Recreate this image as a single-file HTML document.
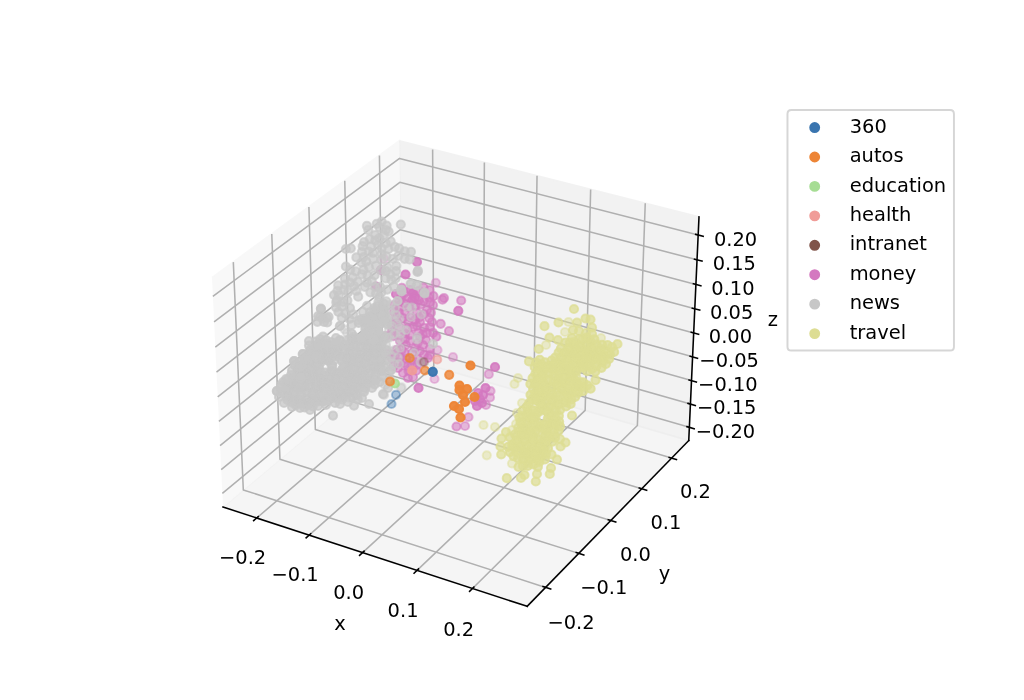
<!DOCTYPE html>
<html><head><meta charset="utf-8"><title>3D scatter</title>
<style>html,body{margin:0;padding:0;background:#fff;overflow:hidden}svg{display:block}</style></head>
<body>
<svg width="1024" height="700" viewBox="0 0 526.628571 360">
 <defs>
  <style type="text/css">*{stroke-linejoin: round; stroke-linecap: butt}</style>
 </defs>
 <g id="figure_1">
  <g id="patch_1">
   <path d="M 0 360 
L 526.628571 360 
L 526.628571 0 
L 0 0 
z
" style="fill: #ffffff"/>
  </g>
  <g id="patch_2">
   <path d="M 93.661714 329.4 
L 372.137143 329.4 
L 372.137143 50.924571 
L 93.661714 50.924571 
z
" style="fill: #ffffff"/>
  </g>
  <g id="pane3d_1">
   <g id="patch_3">
    <path d="M 114.68853 260.736884 
L 206.650211 183.652779 
L 205.371855 72.48372 
L 109.009334 142.8047 
" style="fill: #f2f2f2; opacity: 0.5; stroke: #f2f2f2; stroke-linejoin: miter"/>
   </g>
  </g>
  <g id="pane3d_2">
   <g id="patch_4">
    <path d="M 206.650211 183.652779 
L 354.215897 226.544298 
L 359.481996 111.546149 
L 205.371855 72.48372 
" style="fill: #e6e6e6; opacity: 0.5; stroke: #e6e6e6; stroke-linejoin: miter"/>
   </g>
  </g>
  <g id="pane3d_3">
   <g id="patch_5">
    <path d="M 114.68853 260.736884 
L 271.115364 311.825888 
L 354.215897 226.544298 
L 206.650211 183.652779 
" style="fill: #ececec; opacity: 0.5; stroke: #ececec; stroke-linejoin: miter"/>
   </g>
  </g>
  <g id="grid3d_1">
   <g id="Line3DCollection_1">
    <path d="M 132.033927 266.40189 
L 223.077381 188.427509 
L 222.495403 76.824041 
" style="fill: none; stroke: #b0b0b0; stroke-width: 0.8"/>
    <path d="M 159.004072 275.21034 
L 248.587809 195.842383 
L 249.10321 83.568344 
" style="fill: none; stroke: #b0b0b0; stroke-width: 0.8"/>
    <path d="M 186.479533 284.183825 
L 274.53626 203.384574 
L 276.187805 90.433499 
" style="fill: none; stroke: #b0b0b0; stroke-width: 0.8"/>
    <path d="M 214.474646 293.327029 
L 300.934113 211.057387 
L 303.762119 97.422784 
" style="fill: none; stroke: #b0b0b0; stroke-width: 0.8"/>
    <path d="M 243.004294 302.644812 
L 327.793146 218.864248 
L 331.839556 104.539596 
" style="fill: none; stroke: #b0b0b0; stroke-width: 0.8"/>
   </g>
  </g>
  <g id="grid3d_2">
   <g id="Line3DCollection_2">
    <path d="M 119.989694 134.791733 
L 125.132217 251.982778 
L 280.589727 302.102861 
" style="fill: none; stroke: #b0b0b0; stroke-width: 0.8"/>
    <path d="M 139.770725 120.356437 
L 143.969225 236.193225 
L 297.654348 284.590362 
" style="fill: none; stroke: #b0b0b0; stroke-width: 0.8"/>
    <path d="M 158.865265 106.422112 
L 162.18036 220.92829 
L 314.122643 267.689839 
" style="fill: none; stroke: #b0b0b0; stroke-width: 0.8"/>
    <path d="M 177.308441 92.963122 
L 179.796306 206.162254 
L 330.025335 251.369765 
" style="fill: none; stroke: #b0b0b0; stroke-width: 0.8"/>
    <path d="M 195.133023 79.955553 
L 196.845772 191.871054 
L 345.391069 235.600742 
" style="fill: none; stroke: #b0b0b0; stroke-width: 0.8"/>
   </g>
  </g>
  <g id="grid3d_3">
   <g id="Line3DCollection_3">
    <path d="M 354.526924 219.752268 
L 206.574558 177.073848 
L 114.353636 253.782606 
" style="fill: none; stroke: #b0b0b0; stroke-width: 0.8"/>
    <path d="M 355.074649 207.791345 
L 206.441378 165.49219 
L 113.763719 241.532596 
" style="fill: none; stroke: #b0b0b0; stroke-width: 0.8"/>
    <path d="M 355.627489 195.718737 
L 206.307014 153.807548 
L 113.168084 229.163845 
" style="fill: none; stroke: #b0b0b0; stroke-width: 0.8"/>
    <path d="M 356.185515 183.532871 
L 206.17145 142.018542 
L 112.566647 216.674619 
" style="fill: none; stroke: #b0b0b0; stroke-width: 0.8"/>
    <path d="M 356.748801 171.232147 
L 206.03467 130.123766 
L 111.959323 204.06315 
" style="fill: none; stroke: #b0b0b0; stroke-width: 0.8"/>
    <path d="M 357.317421 158.814932 
L 205.896657 118.121793 
L 111.346026 191.327632 
" style="fill: none; stroke: #b0b0b0; stroke-width: 0.8"/>
    <path d="M 357.891452 146.279564 
L 205.757394 106.011165 
L 110.726666 178.466227 
" style="fill: none; stroke: #b0b0b0; stroke-width: 0.8"/>
    <path d="M 358.470971 133.624348 
L 205.616865 93.7904 
L 110.101154 165.47706 
" style="fill: none; stroke: #b0b0b0; stroke-width: 0.8"/>
    <path d="M 359.056057 120.847558 
L 205.475052 81.45799 
L 109.469397 152.358216 
" style="fill: none; stroke: #b0b0b0; stroke-width: 0.8"/>
   </g>
  </g>
  <g id="axis3d_1">
   <g id="line2d_1">
    <path d="M 114.68853 260.736884 
L 271.115364 311.825888 
" style="fill: none; stroke: #000000; stroke-width: 0.8; stroke-linecap: square"/>
   </g>
   <g id="xtick_1">
    <g id="line2d_2">
     <path d="M 132.826903 265.722744 
L 130.444562 267.763105 
" style="fill: none; stroke: #000000; stroke-width: 0.8; stroke-linecap: square"/>
    </g>
    <g id="text_1">
     <text style="font-size: 10px; font-family: 'DejaVu Sans', 'Liberation Sans', sans-serif; text-anchor: middle" x="124.771" y="290.018">−0.2</text>
    </g>
   </g>
   <g id="xtick_2">
    <g id="line2d_3">
     <path d="M 159.784924 274.518533 
L 157.438977 276.596958 
" style="fill: none; stroke: #000000; stroke-width: 0.8; stroke-linecap: square"/>
    </g>
    <g id="text_2">
     <text style="font-size: 10px; font-family: 'DejaVu Sans', 'Liberation Sans', sans-serif; text-anchor: middle" x="151.768" y="299.004">−0.1</text>
    </g>
   </g>
   <g id="xtick_3">
    <g id="line2d_4">
     <path d="M 187.247666 283.479001 
L 184.939901 285.596564 
" style="fill: none; stroke: #000000; stroke-width: 0.8; stroke-linecap: square"/>
    </g>
    <g id="text_3">
     <text style="font-size: 10px; font-family: 'DejaVu Sans', 'Liberation Sans', sans-serif; text-anchor: middle" x="179.273" y="308.160">0.0</text>
    </g>
   </g>
   <g id="xtick_4">
    <g id="line2d_5">
     <path d="M 215.229436 292.608816 
L 212.961726 294.766633 
" style="fill: none; stroke: #000000; stroke-width: 0.8; stroke-linecap: square"/>
    </g>
    <g id="text_4">
     <text style="font-size: 10px; font-family: 'DejaVu Sans', 'Liberation Sans', sans-serif; text-anchor: middle" x="207.299" y="317.490">0.1</text>
    </g>
   </g>
   <g id="xtick_5">
    <g id="line2d_6">
     <path d="M 243.74509 301.912825 
L 241.519392 304.112056 
" style="fill: none; stroke: #000000; stroke-width: 0.8; stroke-linecap: square"/>
    </g>
    <g id="text_5">
     <text style="font-size: 10px; font-family: 'DejaVu Sans', 'Liberation Sans', sans-serif; text-anchor: middle" x="235.863" y="326.999">0.2</text>
    </g>
   </g>
   <g id="text_6">
    <text style="font-size: 10px; font-family: 'DejaVu Sans', 'Liberation Sans', sans-serif; text-anchor: middle" x="174.812" y="323.884">x</text>
   </g>
  </g>
  <g id="axis3d_2">
   <g id="line2d_7">
    <path d="M 354.215897 226.544298 
L 271.115364 311.825888 
" style="fill: none; stroke: #000000; stroke-width: 0.8; stroke-linecap: square"/>
   </g>
   <g id="xtick_6">
    <g id="line2d_8">
     <path d="M 279.279938 301.68058 
L 283.212678 302.94851 
" style="fill: none; stroke: #000000; stroke-width: 0.8; stroke-linecap: square"/>
    </g>
    <g id="text_7">
     <text style="font-size: 10px; font-family: 'DejaVu Sans', 'Liberation Sans', sans-serif; text-anchor: middle" x="293.679" y="323.327">−0.2</text>
    </g>
   </g>
   <g id="xtick_7">
    <g id="line2d_9">
     <path d="M 296.360654 284.182964 
L 300.245008 285.406189 
" style="fill: none; stroke: #000000; stroke-width: 0.8; stroke-linecap: square"/>
    </g>
    <g id="text_8">
     <text style="font-size: 10px; font-family: 'DejaVu Sans', 'Liberation Sans', sans-serif; text-anchor: middle" x="310.525" y="305.567">−0.1</text>
    </g>
   </g>
   <g id="xtick_8">
    <g id="line2d_10">
     <path d="M 312.84473 267.29655 
L 316.681648 268.477395 
" style="fill: none; stroke: #000000; stroke-width: 0.8; stroke-linecap: square"/>
    </g>
    <g id="text_9">
     <text style="font-size: 10px; font-family: 'DejaVu Sans', 'Liberation Sans', sans-serif; text-anchor: middle" x="326.782" y="288.428">0.0</text>
    </g>
   </g>
   <g id="xtick_9">
    <g id="line2d_11">
     <path d="M 328.762889 250.989865 
L 332.553311 252.130494 
" style="fill: none; stroke: #000000; stroke-width: 0.8; stroke-linecap: square"/>
    </g>
    <g id="text_10">
     <text style="font-size: 10px; font-family: 'DejaVu Sans', 'Liberation Sans', sans-serif; text-anchor: middle" x="342.480" y="271.878">0.1</text>
    </g>
   </g>
   <g id="xtick_10">
    <g id="line2d_12">
     <path d="M 344.143784 235.233559 
L 347.888636 236.335991 
" style="fill: none; stroke: #000000; stroke-width: 0.8; stroke-linecap: square"/>
    </g>
    <g id="text_11">
     <text style="font-size: 10px; font-family: 'DejaVu Sans', 'Liberation Sans', sans-serif; text-anchor: middle" x="357.648" y="255.887">0.2</text>
    </g>
   </g>
   <g id="text_12">
    <text style="font-size: 10px; font-family: 'DejaVu Sans', 'Liberation Sans', sans-serif; text-anchor: middle" x="341.752" y="298.302">y</text>
   </g>
  </g>
  <g id="axis3d_3">
   <g id="line2d_13">
    <path d="M 354.215897 226.544298 
L 359.481996 111.546149 
" style="fill: none; stroke: #000000; stroke-width: 0.8; stroke-linecap: square"/>
   </g>
   <g id="xtick_11">
    <g id="line2d_14">
     <path d="M 353.285042 219.394034 
L 357.013648 220.46959 
" style="fill: none; stroke: #000000; stroke-width: 0.8; stroke-linecap: square"/>
    </g>
    <g id="text_13">
     <text style="font-size: 10px; font-family: 'DejaVu Sans', 'Liberation Sans', sans-serif; text-anchor: middle" x="373.082" y="225.015">−0.20</text>
    </g>
   </g>
   <g id="xtick_12">
    <g id="line2d_15">
     <path d="M 353.82678 207.436218 
L 357.573376 208.502452 
" style="fill: none; stroke: #000000; stroke-width: 0.8; stroke-linecap: square"/>
    </g>
    <g id="text_14">
     <text style="font-size: 10px; font-family: 'DejaVu Sans', 'Liberation Sans', sans-serif; text-anchor: middle" x="373.713" y="213.077">−0.15</text>
    </g>
   </g>
   <g id="xtick_13">
    <g id="line2d_16">
     <path d="M 354.373575 195.366789 
L 358.138335 196.42348 
" style="fill: none; stroke: #000000; stroke-width: 0.8; stroke-linecap: square"/>
    </g>
    <g id="text_15">
     <text style="font-size: 10px; font-family: 'DejaVu Sans', 'Liberation Sans', sans-serif; text-anchor: middle" x="374.350" y="201.027">−0.10</text>
    </g>
   </g>
   <g id="xtick_14">
    <g id="line2d_17">
     <path d="M 354.925497 183.184179 
L 358.708598 184.2311 
" style="fill: none; stroke: #000000; stroke-width: 0.8; stroke-linecap: square"/>
    </g>
    <g id="text_16">
     <text style="font-size: 10px; font-family: 'DejaVu Sans', 'Liberation Sans', sans-serif; text-anchor: middle" x="374.993" y="188.865">−0.05</text>
    </g>
   </g>
   <g id="xtick_15">
    <g id="line2d_18">
     <path d="M 355.482619 170.886786 
L 359.28424 171.923706 
" style="fill: none; stroke: #000000; stroke-width: 0.8; stroke-linecap: square"/>
    </g>
    <g id="text_17">
     <text style="font-size: 10px; font-family: 'DejaVu Sans', 'Liberation Sans', sans-serif; text-anchor: middle" x="375.642" y="176.588">0.00</text>
    </g>
   </g>
   <g id="xtick_16">
    <g id="line2d_19">
     <path d="M 356.045015 158.472983 
L 359.865339 159.499664 
" style="fill: none; stroke: #000000; stroke-width: 0.8; stroke-linecap: square"/>
    </g>
    <g id="text_18">
     <text style="font-size: 10px; font-family: 'DejaVu Sans', 'Liberation Sans', sans-serif; text-anchor: middle" x="376.297" y="164.196">0.05</text>
    </g>
   </g>
   <g id="xtick_17">
    <g id="line2d_20">
     <path d="M 356.612761 145.941107 
L 360.451971 146.957308 
" style="fill: none; stroke: #000000; stroke-width: 0.8; stroke-linecap: square"/>
    </g>
    <g id="text_19">
     <text style="font-size: 10px; font-family: 'DejaVu Sans', 'Liberation Sans', sans-serif; text-anchor: middle" x="376.958" y="151.686">0.10</text>
    </g>
   </g>
   <g id="xtick_18">
    <g id="line2d_21">
     <path d="M 357.185932 133.289466 
L 361.044216 134.294939 
" style="fill: none; stroke: #000000; stroke-width: 0.8; stroke-linecap: square"/>
    </g>
    <g id="text_20">
     <text style="font-size: 10px; font-family: 'DejaVu Sans', 'Liberation Sans', sans-serif; text-anchor: middle" x="377.625" y="139.056">0.15</text>
    </g>
   </g>
   <g id="xtick_19">
    <g id="line2d_22">
     <path d="M 357.764607 120.516335 
L 361.642156 121.510826 
" style="fill: none; stroke: #000000; stroke-width: 0.8; stroke-linecap: square"/>
    </g>
    <g id="text_21">
     <text style="font-size: 10px; font-family: 'DejaVu Sans', 'Liberation Sans', sans-serif; text-anchor: middle" x="378.299" y="126.306">0.20</text>
    </g>
   </g>
   <g id="text_22">
    <text style="font-size: 10px; font-family: 'DejaVu Sans', 'Liberation Sans', sans-serif; text-anchor: middle" x="397.436" y="167.911">z</text>
   </g>
  </g>
  <g id="axes_1">
   <g id="scatter">
<circle cx="303.22" cy="186.79" r="2.11" fill="#dddd94" stroke="#dddd94" stroke-width="1.03" fill-opacity="0.80" stroke-opacity="0.80"/>
<circle cx="290.57" cy="190.59" r="2.11" fill="#dddd94" stroke="#dddd94" stroke-width="1.03" fill-opacity="0.80" stroke-opacity="0.80"/>
<circle cx="272.67" cy="236.11" r="2.11" fill="#dddd94" stroke="#dddd94" stroke-width="1.03" fill-opacity="0.80" stroke-opacity="0.80"/>
<circle cx="305.18" cy="184.78" r="2.11" fill="#dddd94" stroke="#dddd94" stroke-width="1.03" fill-opacity="0.80" stroke-opacity="0.80"/>
<circle cx="309.60" cy="177.33" r="2.11" fill="#dddd94" stroke="#dddd94" stroke-width="1.03" fill-opacity="0.80" stroke-opacity="0.80"/>
<circle cx="288.82" cy="183.70" r="2.11" fill="#dddd94" stroke="#dddd94" stroke-width="1.03" fill-opacity="0.80" stroke-opacity="0.80"/>
<circle cx="288.98" cy="200.21" r="2.11" fill="#dddd94" stroke="#dddd94" stroke-width="1.03" fill-opacity="0.80" stroke-opacity="0.80"/>
<circle cx="294.02" cy="201.39" r="2.11" fill="#dddd94" stroke="#dddd94" stroke-width="1.03" fill-opacity="0.80" stroke-opacity="0.80"/>
<circle cx="286.92" cy="195.22" r="2.11" fill="#dddd94" stroke="#dddd94" stroke-width="1.03" fill-opacity="0.80" stroke-opacity="0.80"/>
<circle cx="283.68" cy="185.45" r="2.11" fill="#dddd94" stroke="#dddd94" stroke-width="1.03" fill-opacity="0.80" stroke-opacity="0.80"/>
<circle cx="295.87" cy="190.59" r="2.11" fill="#dddd94" stroke="#dddd94" stroke-width="1.03" fill-opacity="0.80" stroke-opacity="0.80"/>
<circle cx="280.49" cy="223.51" r="2.11" fill="#dddd94" stroke="#dddd94" stroke-width="1.03" fill-opacity="0.80" stroke-opacity="0.80"/>
<circle cx="278.54" cy="210.34" r="2.11" fill="#dddd94" stroke="#dddd94" stroke-width="1.03" fill-opacity="0.80" stroke-opacity="0.80"/>
<circle cx="273.91" cy="194.40" r="2.11" fill="#dddd94" stroke="#dddd94" stroke-width="1.03" fill-opacity="0.80" stroke-opacity="0.80"/>
<circle cx="298.34" cy="181.75" r="2.11" fill="#dddd94" stroke="#dddd94" stroke-width="1.03" fill-opacity="0.80" stroke-opacity="0.80"/>
<circle cx="303.74" cy="199.90" r="2.11" fill="#dddd94" stroke="#dddd94" stroke-width="1.03" fill-opacity="0.80" stroke-opacity="0.80"/>
<circle cx="274.17" cy="199.95" r="2.11" fill="#dddd94" stroke="#dddd94" stroke-width="1.03" fill-opacity="0.80" stroke-opacity="0.80"/>
<circle cx="274.53" cy="233.43" r="2.11" fill="#dddd94" stroke="#dddd94" stroke-width="1.03" fill-opacity="0.80" stroke-opacity="0.80"/>
<circle cx="272.47" cy="232.35" r="2.11" fill="#dddd94" stroke="#dddd94" stroke-width="1.03" fill-opacity="0.80" stroke-opacity="0.80"/>
<circle cx="275.66" cy="235.80" r="2.11" fill="#dddd94" stroke="#dddd94" stroke-width="1.03" fill-opacity="0.80" stroke-opacity="0.80"/>
<circle cx="297.87" cy="174.39" r="2.11" fill="#dddd94" stroke="#dddd94" stroke-width="1.03" fill-opacity="0.80" stroke-opacity="0.80"/>
<circle cx="310.68" cy="180.21" r="2.11" fill="#dddd94" stroke="#dddd94" stroke-width="1.03" fill-opacity="0.80" stroke-opacity="0.80"/>
<circle cx="309.55" cy="185.35" r="2.11" fill="#dddd94" stroke="#dddd94" stroke-width="1.03" fill-opacity="0.80" stroke-opacity="0.80"/>
<circle cx="286.92" cy="208.08" r="2.11" fill="#dddd94" stroke="#dddd94" stroke-width="1.03" fill-opacity="0.80" stroke-opacity="0.80"/>
<circle cx="293.76" cy="205.46" r="2.11" fill="#dddd94" stroke="#dddd94" stroke-width="1.03" fill-opacity="0.80" stroke-opacity="0.80"/>
<circle cx="261.31" cy="229.83" r="2.11" fill="#dddd94" stroke="#dddd94" stroke-width="1.03" fill-opacity="0.80" stroke-opacity="0.80"/>
<circle cx="306.72" cy="177.22" r="2.11" fill="#dddd94" stroke="#dddd94" stroke-width="1.03" fill-opacity="0.80" stroke-opacity="0.80"/>
<circle cx="290.93" cy="197.90" r="2.11" fill="#dddd94" stroke="#dddd94" stroke-width="1.03" fill-opacity="0.80" stroke-opacity="0.80"/>
<circle cx="273.70" cy="205.30" r="2.11" fill="#dddd94" stroke="#dddd94" stroke-width="1.03" fill-opacity="0.80" stroke-opacity="0.80"/>
<circle cx="267.12" cy="214.71" r="2.11" fill="#dddd94" stroke="#dddd94" stroke-width="1.03" fill-opacity="0.80" stroke-opacity="0.80"/>
<circle cx="303.89" cy="175.94" r="2.11" fill="#dddd94" stroke="#dddd94" stroke-width="1.03" fill-opacity="0.80" stroke-opacity="0.80"/>
<circle cx="277.51" cy="229.78" r="2.11" fill="#dddd94" stroke="#dddd94" stroke-width="1.03" fill-opacity="0.80" stroke-opacity="0.80"/>
<circle cx="284.19" cy="227.11" r="2.11" fill="#dddd94" stroke="#dddd94" stroke-width="1.03" fill-opacity="0.80" stroke-opacity="0.80"/>
<circle cx="270.05" cy="232.41" r="2.11" fill="#dddd94" stroke="#dddd94" stroke-width="1.03" fill-opacity="0.80" stroke-opacity="0.80"/>
<circle cx="274.37" cy="230.55" r="2.11" fill="#dddd94" stroke="#dddd94" stroke-width="1.03" fill-opacity="0.80" stroke-opacity="0.80"/>
<circle cx="278.13" cy="235.08" r="2.11" fill="#dddd94" stroke="#dddd94" stroke-width="1.03" fill-opacity="0.80" stroke-opacity="0.80"/>
<circle cx="292.73" cy="195.79" r="2.11" fill="#dddd94" stroke="#dddd94" stroke-width="1.03" fill-opacity="0.80" stroke-opacity="0.80"/>
<circle cx="295.20" cy="177.79" r="2.11" fill="#dddd94" stroke="#dddd94" stroke-width="1.03" fill-opacity="0.80" stroke-opacity="0.80"/>
<circle cx="270.72" cy="217.03" r="2.11" fill="#dddd94" stroke="#dddd94" stroke-width="1.03" fill-opacity="0.80" stroke-opacity="0.80"/>
<circle cx="278.90" cy="192.29" r="2.11" fill="#dddd94" stroke="#dddd94" stroke-width="1.03" fill-opacity="0.80" stroke-opacity="0.80"/>
<circle cx="313.71" cy="182.37" r="2.11" fill="#dddd94" stroke="#dddd94" stroke-width="1.03" fill-opacity="0.80" stroke-opacity="0.80"/>
<circle cx="283.32" cy="213.17" r="2.11" fill="#dddd94" stroke="#dddd94" stroke-width="1.03" fill-opacity="0.80" stroke-opacity="0.80"/>
<circle cx="277.92" cy="187.35" r="2.11" fill="#dddd94" stroke="#dddd94" stroke-width="1.03" fill-opacity="0.80" stroke-opacity="0.80"/>
<circle cx="282.96" cy="199.29" r="2.11" fill="#dddd94" stroke="#dddd94" stroke-width="1.03" fill-opacity="0.80" stroke-opacity="0.80"/>
<circle cx="306.15" cy="191.11" r="2.11" fill="#dddd94" stroke="#dddd94" stroke-width="1.03" fill-opacity="0.80" stroke-opacity="0.80"/>
<circle cx="270.98" cy="209.06" r="2.11" fill="#dddd94" stroke="#dddd94" stroke-width="1.03" fill-opacity="0.80" stroke-opacity="0.80"/>
<circle cx="295.35" cy="182.16" r="2.11" fill="#dddd94" stroke="#dddd94" stroke-width="1.03" fill-opacity="0.80" stroke-opacity="0.80"/>
<circle cx="294.27" cy="193.11" r="2.11" fill="#dddd94" stroke="#dddd94" stroke-width="1.03" fill-opacity="0.80" stroke-opacity="0.80"/>
<circle cx="277.35" cy="237.55" r="2.11" fill="#dddd94" stroke="#dddd94" stroke-width="1.03" fill-opacity="0.80" stroke-opacity="0.80"/>
<circle cx="269.79" cy="226.54" r="2.11" fill="#dddd94" stroke="#dddd94" stroke-width="1.03" fill-opacity="0.80" stroke-opacity="0.80"/>
<circle cx="309.34" cy="189.15" r="2.11" fill="#dddd94" stroke="#dddd94" stroke-width="1.03" fill-opacity="0.80" stroke-opacity="0.80"/>
<circle cx="282.50" cy="218.98" r="2.11" fill="#dddd94" stroke="#dddd94" stroke-width="1.03" fill-opacity="0.80" stroke-opacity="0.80"/>
<circle cx="262.29" cy="232.56" r="2.11" fill="#dddd94" stroke="#dddd94" stroke-width="1.03" fill-opacity="0.80" stroke-opacity="0.80"/>
<circle cx="287.23" cy="221.50" r="2.11" fill="#dddd94" stroke="#dddd94" stroke-width="1.03" fill-opacity="0.80" stroke-opacity="0.80"/>
<circle cx="271.03" cy="229.01" r="2.11" fill="#dddd94" stroke="#dddd94" stroke-width="1.03" fill-opacity="0.80" stroke-opacity="0.80"/>
<circle cx="281.83" cy="230.55" r="2.11" fill="#dddd94" stroke="#dddd94" stroke-width="1.03" fill-opacity="0.80" stroke-opacity="0.80"/>
<circle cx="294.07" cy="173.88" r="2.11" fill="#dddd94" stroke="#dddd94" stroke-width="1.03" fill-opacity="0.80" stroke-opacity="0.80"/>
<circle cx="293.97" cy="188.74" r="2.11" fill="#dddd94" stroke="#dddd94" stroke-width="1.03" fill-opacity="0.80" stroke-opacity="0.80"/>
<circle cx="299.42" cy="179.43" r="2.11" fill="#dddd94" stroke="#dddd94" stroke-width="1.03" fill-opacity="0.80" stroke-opacity="0.80"/>
<circle cx="301.47" cy="173.67" r="2.11" fill="#dddd94" stroke="#dddd94" stroke-width="1.03" fill-opacity="0.80" stroke-opacity="0.80"/>
<circle cx="287.28" cy="181.39" r="2.11" fill="#dddd94" stroke="#dddd94" stroke-width="1.03" fill-opacity="0.80" stroke-opacity="0.80"/>
<circle cx="280.75" cy="233.54" r="2.11" fill="#dddd94" stroke="#dddd94" stroke-width="1.03" fill-opacity="0.80" stroke-opacity="0.80"/>
<circle cx="277.30" cy="198.41" r="2.11" fill="#dddd94" stroke="#dddd94" stroke-width="1.03" fill-opacity="0.80" stroke-opacity="0.80"/>
<circle cx="277.35" cy="219.55" r="2.11" fill="#dddd94" stroke="#dddd94" stroke-width="1.03" fill-opacity="0.80" stroke-opacity="0.80"/>
<circle cx="268.10" cy="224.28" r="2.11" fill="#dddd94" stroke="#dddd94" stroke-width="1.03" fill-opacity="0.80" stroke-opacity="0.80"/>
<circle cx="288.46" cy="179.23" r="2.11" fill="#dddd94" stroke="#dddd94" stroke-width="1.03" fill-opacity="0.80" stroke-opacity="0.80"/>
<circle cx="279.67" cy="203.14" r="2.11" fill="#dddd94" stroke="#dddd94" stroke-width="1.03" fill-opacity="0.80" stroke-opacity="0.80"/>
<circle cx="264.96" cy="230.50" r="2.11" fill="#dddd94" stroke="#dddd94" stroke-width="1.03" fill-opacity="0.80" stroke-opacity="0.80"/>
<circle cx="270.72" cy="221.50" r="2.11" fill="#dddd94" stroke="#dddd94" stroke-width="1.03" fill-opacity="0.80" stroke-opacity="0.80"/>
<circle cx="262.23" cy="224.90" r="2.11" fill="#dddd94" stroke="#dddd94" stroke-width="1.03" fill-opacity="0.80" stroke-opacity="0.80"/>
<circle cx="291.09" cy="209.06" r="2.11" fill="#dddd94" stroke="#dddd94" stroke-width="1.03" fill-opacity="0.80" stroke-opacity="0.80"/>
<circle cx="292.63" cy="184.89" r="2.11" fill="#dddd94" stroke="#dddd94" stroke-width="1.03" fill-opacity="0.80" stroke-opacity="0.80"/>
<circle cx="295.46" cy="195.33" r="2.11" fill="#dddd94" stroke="#dddd94" stroke-width="1.03" fill-opacity="0.80" stroke-opacity="0.80"/>
<circle cx="280.95" cy="220.78" r="2.11" fill="#dddd94" stroke="#dddd94" stroke-width="1.03" fill-opacity="0.80" stroke-opacity="0.80"/>
<circle cx="313.20" cy="184.58" r="2.11" fill="#dddd94" stroke="#dddd94" stroke-width="1.03" fill-opacity="0.80" stroke-opacity="0.80"/>
<circle cx="270.82" cy="214.25" r="2.11" fill="#dddd94" stroke="#dddd94" stroke-width="1.03" fill-opacity="0.80" stroke-opacity="0.80"/>
<circle cx="284.91" cy="193.27" r="2.11" fill="#dddd94" stroke="#dddd94" stroke-width="1.03" fill-opacity="0.80" stroke-opacity="0.80"/>
<circle cx="279.93" cy="218.52" r="2.11" fill="#dddd94" stroke="#dddd94" stroke-width="1.03" fill-opacity="0.80" stroke-opacity="0.80"/>
<circle cx="263.62" cy="228.60" r="2.11" fill="#dddd94" stroke="#dddd94" stroke-width="1.03" fill-opacity="0.80" stroke-opacity="0.80"/>
<circle cx="278.74" cy="195.02" r="2.11" fill="#dddd94" stroke="#dddd94" stroke-width="1.03" fill-opacity="0.80" stroke-opacity="0.80"/>
<circle cx="276.12" cy="212.35" r="2.11" fill="#dddd94" stroke="#dddd94" stroke-width="1.03" fill-opacity="0.80" stroke-opacity="0.80"/>
<circle cx="287.54" cy="216.82" r="2.11" fill="#dddd94" stroke="#dddd94" stroke-width="1.03" fill-opacity="0.80" stroke-opacity="0.80"/>
<circle cx="274.37" cy="238.89" r="2.11" fill="#dddd94" stroke="#dddd94" stroke-width="1.03" fill-opacity="0.80" stroke-opacity="0.80"/>
<circle cx="282.60" cy="188.18" r="2.11" fill="#dddd94" stroke="#dddd94" stroke-width="1.03" fill-opacity="0.80" stroke-opacity="0.80"/>
<circle cx="284.76" cy="222.38" r="2.11" fill="#dddd94" stroke="#dddd94" stroke-width="1.03" fill-opacity="0.80" stroke-opacity="0.80"/>
<circle cx="266.45" cy="235.65" r="2.11" fill="#dddd94" stroke="#dddd94" stroke-width="1.03" fill-opacity="0.80" stroke-opacity="0.80"/>
<circle cx="280.44" cy="200.78" r="2.11" fill="#dddd94" stroke="#dddd94" stroke-width="1.03" fill-opacity="0.80" stroke-opacity="0.80"/>
<circle cx="267.63" cy="231.79" r="2.11" fill="#dddd94" stroke="#dddd94" stroke-width="1.03" fill-opacity="0.80" stroke-opacity="0.80"/>
<circle cx="301.94" cy="190.85" r="2.11" fill="#dddd94" stroke="#dddd94" stroke-width="1.03" fill-opacity="0.80" stroke-opacity="0.80"/>
<circle cx="275.45" cy="221.40" r="2.11" fill="#dddd94" stroke="#dddd94" stroke-width="1.03" fill-opacity="0.80" stroke-opacity="0.80"/>
<circle cx="280.08" cy="206.79" r="2.11" fill="#dddd94" stroke="#dddd94" stroke-width="1.03" fill-opacity="0.80" stroke-opacity="0.80"/>
<circle cx="297.87" cy="189.05" r="2.11" fill="#dddd94" stroke="#dddd94" stroke-width="1.03" fill-opacity="0.80" stroke-opacity="0.80"/>
<circle cx="303.58" cy="182.11" r="2.11" fill="#dddd94" stroke="#dddd94" stroke-width="1.03" fill-opacity="0.80" stroke-opacity="0.80"/>
<circle cx="296.18" cy="186.99" r="2.11" fill="#dddd94" stroke="#dddd94" stroke-width="1.03" fill-opacity="0.80" stroke-opacity="0.80"/>
<circle cx="299.83" cy="201.19" r="2.11" fill="#dddd94" stroke="#dddd94" stroke-width="1.03" fill-opacity="0.80" stroke-opacity="0.80"/>
<circle cx="282.45" cy="209.31" r="2.11" fill="#dddd94" stroke="#dddd94" stroke-width="1.03" fill-opacity="0.80" stroke-opacity="0.80"/>
<circle cx="290.78" cy="176.25" r="2.11" fill="#dddd94" stroke="#dddd94" stroke-width="1.03" fill-opacity="0.80" stroke-opacity="0.80"/>
<circle cx="300.09" cy="184.58" r="2.11" fill="#dddd94" stroke="#dddd94" stroke-width="1.03" fill-opacity="0.80" stroke-opacity="0.80"/>
<circle cx="295.56" cy="199.13" r="2.11" fill="#dddd94" stroke="#dddd94" stroke-width="1.03" fill-opacity="0.80" stroke-opacity="0.80"/>
<circle cx="275.86" cy="201.75" r="2.11" fill="#dddd94" stroke="#dddd94" stroke-width="1.03" fill-opacity="0.80" stroke-opacity="0.80"/>
<circle cx="288.15" cy="189.21" r="2.11" fill="#dddd94" stroke="#dddd94" stroke-width="1.03" fill-opacity="0.80" stroke-opacity="0.80"/>
<circle cx="281.47" cy="195.63" r="2.11" fill="#dddd94" stroke="#dddd94" stroke-width="1.03" fill-opacity="0.80" stroke-opacity="0.80"/>
<circle cx="281.11" cy="211.58" r="2.11" fill="#dddd94" stroke="#dddd94" stroke-width="1.03" fill-opacity="0.80" stroke-opacity="0.80"/>
<circle cx="280.85" cy="226.70" r="2.11" fill="#dddd94" stroke="#dddd94" stroke-width="1.03" fill-opacity="0.80" stroke-opacity="0.80"/>
<circle cx="284.50" cy="189.82" r="2.11" fill="#dddd94" stroke="#dddd94" stroke-width="1.03" fill-opacity="0.80" stroke-opacity="0.80"/>
<circle cx="284.14" cy="202.63" r="2.11" fill="#dddd94" stroke="#dddd94" stroke-width="1.03" fill-opacity="0.80" stroke-opacity="0.80"/>
<circle cx="286.61" cy="202.06" r="2.11" fill="#dddd94" stroke="#dddd94" stroke-width="1.03" fill-opacity="0.80" stroke-opacity="0.80"/>
<circle cx="267.69" cy="217.13" r="2.11" fill="#dddd94" stroke="#dddd94" stroke-width="1.03" fill-opacity="0.80" stroke-opacity="0.80"/>
<circle cx="285.12" cy="215.54" r="2.11" fill="#dddd94" stroke="#dddd94" stroke-width="1.03" fill-opacity="0.80" stroke-opacity="0.80"/>
<circle cx="274.06" cy="226.85" r="2.11" fill="#dddd94" stroke="#dddd94" stroke-width="1.03" fill-opacity="0.80" stroke-opacity="0.80"/>
<circle cx="283.83" cy="206.64" r="2.11" fill="#dddd94" stroke="#dddd94" stroke-width="1.03" fill-opacity="0.80" stroke-opacity="0.80"/>
<circle cx="288.00" cy="210.86" r="2.11" fill="#dddd94" stroke="#dddd94" stroke-width="1.03" fill-opacity="0.80" stroke-opacity="0.80"/>
<circle cx="285.53" cy="183.86" r="2.11" fill="#dddd94" stroke="#dddd94" stroke-width="1.03" fill-opacity="0.80" stroke-opacity="0.80"/>
<circle cx="267.22" cy="221.71" r="2.11" fill="#dddd94" stroke="#dddd94" stroke-width="1.03" fill-opacity="0.80" stroke-opacity="0.80"/>
<circle cx="268.77" cy="211.11" r="2.11" fill="#dddd94" stroke="#dddd94" stroke-width="1.03" fill-opacity="0.80" stroke-opacity="0.80"/>
<circle cx="275.40" cy="192.14" r="2.11" fill="#dddd94" stroke="#dddd94" stroke-width="1.03" fill-opacity="0.80" stroke-opacity="0.80"/>
<circle cx="276.63" cy="231.94" r="2.11" fill="#dddd94" stroke="#dddd94" stroke-width="1.03" fill-opacity="0.80" stroke-opacity="0.80"/>
<circle cx="306.05" cy="182.26" r="2.11" fill="#dddd94" stroke="#dddd94" stroke-width="1.03" fill-opacity="0.80" stroke-opacity="0.80"/>
<circle cx="306.72" cy="188.33" r="2.11" fill="#dddd94" stroke="#dddd94" stroke-width="1.03" fill-opacity="0.80" stroke-opacity="0.80"/>
<circle cx="265.99" cy="226.29" r="2.11" fill="#dddd94" stroke="#dddd94" stroke-width="1.03" fill-opacity="0.80" stroke-opacity="0.80"/>
<circle cx="295.82" cy="204.07" r="2.11" fill="#dddd94" stroke="#dddd94" stroke-width="1.03" fill-opacity="0.80" stroke-opacity="0.80"/>
<circle cx="299.98" cy="196.61" r="2.11" fill="#dddd94" stroke="#dddd94" stroke-width="1.03" fill-opacity="0.80" stroke-opacity="0.80"/>
<circle cx="268.10" cy="229.11" r="2.11" fill="#dddd94" stroke="#dddd94" stroke-width="1.03" fill-opacity="0.80" stroke-opacity="0.80"/>
<circle cx="287.38" cy="192.14" r="2.11" fill="#dddd94" stroke="#dddd94" stroke-width="1.03" fill-opacity="0.80" stroke-opacity="0.80"/>
<circle cx="290.26" cy="193.53" r="2.11" fill="#dddd94" stroke="#dddd94" stroke-width="1.03" fill-opacity="0.80" stroke-opacity="0.80"/>
<circle cx="271.49" cy="211.63" r="2.11" fill="#dddd94" stroke="#dddd94" stroke-width="1.03" fill-opacity="0.80" stroke-opacity="0.80"/>
<circle cx="276.33" cy="206.07" r="2.11" fill="#dddd94" stroke="#dddd94" stroke-width="1.03" fill-opacity="0.80" stroke-opacity="0.80"/>
<circle cx="274.11" cy="211.22" r="2.11" fill="#dddd94" stroke="#dddd94" stroke-width="1.03" fill-opacity="0.80" stroke-opacity="0.80"/>
<circle cx="286.77" cy="198.05" r="2.11" fill="#dddd94" stroke="#dddd94" stroke-width="1.03" fill-opacity="0.80" stroke-opacity="0.80"/>
<circle cx="281.73" cy="215.28" r="2.11" fill="#dddd94" stroke="#dddd94" stroke-width="1.03" fill-opacity="0.80" stroke-opacity="0.80"/>
<circle cx="308.11" cy="180.93" r="2.11" fill="#dddd94" stroke="#dddd94" stroke-width="1.03" fill-opacity="0.80" stroke-opacity="0.80"/>
<circle cx="285.43" cy="225.05" r="2.11" fill="#dddd94" stroke="#dddd94" stroke-width="1.03" fill-opacity="0.80" stroke-opacity="0.80"/>
<circle cx="268.97" cy="239.61" r="2.11" fill="#dddd94" stroke="#dddd94" stroke-width="1.03" fill-opacity="0.80" stroke-opacity="0.80"/>
<circle cx="292.78" cy="179.23" r="2.11" fill="#dddd94" stroke="#dddd94" stroke-width="1.03" fill-opacity="0.80" stroke-opacity="0.80"/>
<circle cx="300.39" cy="188.33" r="2.11" fill="#dddd94" stroke="#dddd94" stroke-width="1.03" fill-opacity="0.80" stroke-opacity="0.80"/>
<circle cx="273.19" cy="215.38" r="2.11" fill="#dddd94" stroke="#dddd94" stroke-width="1.03" fill-opacity="0.80" stroke-opacity="0.80"/>
<circle cx="304.10" cy="178.97" r="2.11" fill="#dddd94" stroke="#dddd94" stroke-width="1.03" fill-opacity="0.80" stroke-opacity="0.80"/>
<circle cx="272.98" cy="218.83" r="2.11" fill="#dddd94" stroke="#dddd94" stroke-width="1.03" fill-opacity="0.80" stroke-opacity="0.80"/>
<circle cx="301.83" cy="177.63" r="2.11" fill="#dddd94" stroke="#dddd94" stroke-width="1.03" fill-opacity="0.80" stroke-opacity="0.80"/>
<circle cx="301.42" cy="181.13" r="2.11" fill="#dddd94" stroke="#dddd94" stroke-width="1.03" fill-opacity="0.80" stroke-opacity="0.80"/>
<circle cx="264.86" cy="223.35" r="2.11" fill="#dddd94" stroke="#dddd94" stroke-width="1.03" fill-opacity="0.80" stroke-opacity="0.80"/>
<circle cx="288.72" cy="196.82" r="2.11" fill="#dddd94" stroke="#dddd94" stroke-width="1.03" fill-opacity="0.80" stroke-opacity="0.80"/>
<circle cx="287.79" cy="186.74" r="2.11" fill="#dddd94" stroke="#dddd94" stroke-width="1.03" fill-opacity="0.80" stroke-opacity="0.80"/>
<circle cx="278.79" cy="227.78" r="2.11" fill="#dddd94" stroke="#dddd94" stroke-width="1.03" fill-opacity="0.80" stroke-opacity="0.80"/>
<circle cx="282.34" cy="204.07" r="2.11" fill="#dddd94" stroke="#dddd94" stroke-width="1.03" fill-opacity="0.80" stroke-opacity="0.80"/>
<circle cx="269.23" cy="236.06" r="2.11" fill="#dddd94" stroke="#dddd94" stroke-width="1.03" fill-opacity="0.80" stroke-opacity="0.80"/>
<circle cx="271.44" cy="239.55" r="2.11" fill="#dddd94" stroke="#dddd94" stroke-width="1.03" fill-opacity="0.80" stroke-opacity="0.80"/>
<circle cx="285.27" cy="210.70" r="2.11" fill="#dddd94" stroke="#dddd94" stroke-width="1.03" fill-opacity="0.80" stroke-opacity="0.80"/>
<circle cx="272.78" cy="197.43" r="2.11" fill="#dddd94" stroke="#dddd94" stroke-width="1.03" fill-opacity="0.80" stroke-opacity="0.80"/>
<circle cx="280.23" cy="186.33" r="2.11" fill="#dddd94" stroke="#dddd94" stroke-width="1.03" fill-opacity="0.80" stroke-opacity="0.80"/>
<circle cx="274.99" cy="188.74" r="2.11" fill="#dddd94" stroke="#dddd94" stroke-width="1.03" fill-opacity="0.80" stroke-opacity="0.80"/>
<circle cx="298.44" cy="198.87" r="2.11" fill="#dddd94" stroke="#dddd94" stroke-width="1.03" fill-opacity="0.80" stroke-opacity="0.80"/>
<circle cx="272.83" cy="203.04" r="2.11" fill="#dddd94" stroke="#dddd94" stroke-width="1.03" fill-opacity="0.80" stroke-opacity="0.80"/>
<circle cx="290.57" cy="187.82" r="2.11" fill="#dddd94" stroke="#dddd94" stroke-width="1.03" fill-opacity="0.80" stroke-opacity="0.80"/>
<circle cx="290.98" cy="204.22" r="2.11" fill="#dddd94" stroke="#dddd94" stroke-width="1.03" fill-opacity="0.80" stroke-opacity="0.80"/>
<circle cx="276.63" cy="240.07" r="2.11" fill="#dddd94" stroke="#dddd94" stroke-width="1.03" fill-opacity="0.80" stroke-opacity="0.80"/>
<circle cx="282.29" cy="191.57" r="2.11" fill="#dddd94" stroke="#dddd94" stroke-width="1.03" fill-opacity="0.80" stroke-opacity="0.80"/>
<circle cx="311.66" cy="187.10" r="2.11" fill="#dddd94" stroke="#dddd94" stroke-width="1.03" fill-opacity="0.80" stroke-opacity="0.80"/>
<circle cx="279.62" cy="190.08" r="2.11" fill="#dddd94" stroke="#dddd94" stroke-width="1.03" fill-opacity="0.80" stroke-opacity="0.80"/>
<circle cx="286.92" cy="205.66" r="2.11" fill="#dddd94" stroke="#dddd94" stroke-width="1.03" fill-opacity="0.80" stroke-opacity="0.80"/>
<circle cx="290.78" cy="181.03" r="2.11" fill="#dddd94" stroke="#dddd94" stroke-width="1.03" fill-opacity="0.80" stroke-opacity="0.80"/>
<circle cx="276.43" cy="217.39" r="2.11" fill="#dddd94" stroke="#dddd94" stroke-width="1.03" fill-opacity="0.80" stroke-opacity="0.80"/>
<circle cx="270.62" cy="223.92" r="2.11" fill="#dddd94" stroke="#dddd94" stroke-width="1.03" fill-opacity="0.80" stroke-opacity="0.80"/>
<circle cx="268.87" cy="219.65" r="2.11" fill="#dddd94" stroke="#dddd94" stroke-width="1.03" fill-opacity="0.80" stroke-opacity="0.80"/>
<circle cx="302.09" cy="198.15" r="2.11" fill="#dddd94" stroke="#dddd94" stroke-width="1.03" fill-opacity="0.80" stroke-opacity="0.80"/>
<circle cx="310.06" cy="182.83" r="2.11" fill="#dddd94" stroke="#dddd94" stroke-width="1.03" fill-opacity="0.80" stroke-opacity="0.80"/>
<circle cx="284.91" cy="217.85" r="2.11" fill="#dddd94" stroke="#dddd94" stroke-width="1.03" fill-opacity="0.80" stroke-opacity="0.80"/>
<circle cx="290.73" cy="201.86" r="2.11" fill="#dddd94" stroke="#dddd94" stroke-width="1.03" fill-opacity="0.80" stroke-opacity="0.80"/>
<circle cx="290.98" cy="206.79" r="2.11" fill="#dddd94" stroke="#dddd94" stroke-width="1.03" fill-opacity="0.80" stroke-opacity="0.80"/>
<circle cx="297.98" cy="177.48" r="2.11" fill="#dddd94" stroke="#dddd94" stroke-width="1.03" fill-opacity="0.80" stroke-opacity="0.80"/>
<circle cx="264.09" cy="234.57" r="2.11" fill="#dddd94" stroke="#dddd94" stroke-width="1.03" fill-opacity="0.80" stroke-opacity="0.80"/>
<circle cx="273.45" cy="223.35" r="2.11" fill="#dddd94" stroke="#dddd94" stroke-width="1.03" fill-opacity="0.80" stroke-opacity="0.80"/>
<circle cx="292.89" cy="190.90" r="2.11" fill="#dddd94" stroke="#dddd94" stroke-width="1.03" fill-opacity="0.80" stroke-opacity="0.80"/>
<circle cx="284.86" cy="196.35" r="2.11" fill="#dddd94" stroke="#dddd94" stroke-width="1.03" fill-opacity="0.80" stroke-opacity="0.80"/>
<circle cx="278.13" cy="201.45" r="2.11" fill="#dddd94" stroke="#dddd94" stroke-width="1.03" fill-opacity="0.80" stroke-opacity="0.80"/>
<circle cx="272.21" cy="207.15" r="2.11" fill="#dddd94" stroke="#dddd94" stroke-width="1.03" fill-opacity="0.80" stroke-opacity="0.80"/>
<circle cx="296.95" cy="197.13" r="2.11" fill="#dddd94" stroke="#dddd94" stroke-width="1.03" fill-opacity="0.80" stroke-opacity="0.80"/>
<circle cx="279.21" cy="231.43" r="2.11" fill="#dddd94" stroke="#dddd94" stroke-width="1.03" fill-opacity="0.80" stroke-opacity="0.80"/>
<circle cx="297.26" cy="202.06" r="2.11" fill="#dddd94" stroke="#dddd94" stroke-width="1.03" fill-opacity="0.80" stroke-opacity="0.80"/>
<circle cx="276.53" cy="225.82" r="2.11" fill="#dddd94" stroke="#dddd94" stroke-width="1.03" fill-opacity="0.80" stroke-opacity="0.80"/>
<circle cx="287.43" cy="213.84" r="2.11" fill="#dddd94" stroke="#dddd94" stroke-width="1.03" fill-opacity="0.80" stroke-opacity="0.80"/>
<circle cx="277.61" cy="185.04" r="2.11" fill="#dddd94" stroke="#dddd94" stroke-width="1.03" fill-opacity="0.80" stroke-opacity="0.80"/>
<circle cx="302.86" cy="184.32" r="2.11" fill="#dddd94" stroke="#dddd94" stroke-width="1.03" fill-opacity="0.80" stroke-opacity="0.80"/>
<circle cx="312.48" cy="177.48" r="2.11" fill="#dddd94" stroke="#dddd94" stroke-width="1.03" fill-opacity="0.80" stroke-opacity="0.80"/>
<circle cx="276.48" cy="195.12" r="2.11" fill="#dddd94" stroke="#dddd94" stroke-width="1.03" fill-opacity="0.80" stroke-opacity="0.80"/>
<circle cx="280.23" cy="236.26" r="2.11" fill="#dddd94" stroke="#dddd94" stroke-width="1.03" fill-opacity="0.80" stroke-opacity="0.80"/>
<circle cx="275.35" cy="214.56" r="2.11" fill="#dddd94" stroke="#dddd94" stroke-width="1.03" fill-opacity="0.80" stroke-opacity="0.80"/>
<circle cx="279.51" cy="197.64" r="2.11" fill="#dddd94" stroke="#dddd94" stroke-width="1.03" fill-opacity="0.80" stroke-opacity="0.80"/>
<circle cx="305.69" cy="174.55" r="2.11" fill="#dddd94" stroke="#dddd94" stroke-width="1.03" fill-opacity="0.80" stroke-opacity="0.80"/>
<circle cx="298.75" cy="186.58" r="2.11" fill="#dddd94" stroke="#dddd94" stroke-width="1.03" fill-opacity="0.80" stroke-opacity="0.80"/>
<circle cx="277.10" cy="189.72" r="2.11" fill="#dddd94" stroke="#dddd94" stroke-width="1.03" fill-opacity="0.80" stroke-opacity="0.80"/>
<circle cx="307.49" cy="184.17" r="2.11" fill="#dddd94" stroke="#dddd94" stroke-width="1.03" fill-opacity="0.80" stroke-opacity="0.80"/>
<circle cx="288.00" cy="219.29" r="2.11" fill="#dddd94" stroke="#dddd94" stroke-width="1.03" fill-opacity="0.80" stroke-opacity="0.80"/>
<circle cx="284.91" cy="187.51" r="2.11" fill="#dddd94" stroke="#dddd94" stroke-width="1.03" fill-opacity="0.80" stroke-opacity="0.80"/>
<circle cx="296.28" cy="179.95" r="2.11" fill="#dddd94" stroke="#dddd94" stroke-width="1.03" fill-opacity="0.80" stroke-opacity="0.80"/>
<circle cx="282.45" cy="224.74" r="2.11" fill="#dddd94" stroke="#dddd94" stroke-width="1.03" fill-opacity="0.80" stroke-opacity="0.80"/>
<circle cx="297.41" cy="184.47" r="2.11" fill="#dddd94" stroke="#dddd94" stroke-width="1.03" fill-opacity="0.80" stroke-opacity="0.80"/>
<circle cx="293.09" cy="176.14" r="2.11" fill="#dddd94" stroke="#dddd94" stroke-width="1.03" fill-opacity="0.80" stroke-opacity="0.80"/>
<circle cx="292.89" cy="181.90" r="2.11" fill="#dddd94" stroke="#dddd94" stroke-width="1.03" fill-opacity="0.80" stroke-opacity="0.80"/>
<circle cx="277.20" cy="203.86" r="2.11" fill="#dddd94" stroke="#dddd94" stroke-width="1.03" fill-opacity="0.80" stroke-opacity="0.80"/>
<circle cx="315.82" cy="180.98" r="2.11" fill="#dddd94" stroke="#dddd94" stroke-width="1.03" fill-opacity="0.80" stroke-opacity="0.80"/>
<circle cx="294.99" cy="184.94" r="2.11" fill="#dddd94" stroke="#dddd94" stroke-width="1.03" fill-opacity="0.80" stroke-opacity="0.80"/>
<circle cx="304.41" cy="189.67" r="2.11" fill="#dddd94" stroke="#dddd94" stroke-width="1.03" fill-opacity="0.80" stroke-opacity="0.80"/>
<circle cx="270.98" cy="234.46" r="2.11" fill="#dddd94" stroke="#dddd94" stroke-width="1.03" fill-opacity="0.80" stroke-opacity="0.80"/>
<circle cx="275.71" cy="186.48" r="2.11" fill="#dddd94" stroke="#dddd94" stroke-width="1.03" fill-opacity="0.80" stroke-opacity="0.80"/>
<circle cx="293.45" cy="207.72" r="2.11" fill="#dddd94" stroke="#dddd94" stroke-width="1.03" fill-opacity="0.80" stroke-opacity="0.80"/>
<circle cx="275.09" cy="196.92" r="2.11" fill="#dddd94" stroke="#dddd94" stroke-width="1.03" fill-opacity="0.80" stroke-opacity="0.80"/>
<circle cx="277.97" cy="207.87" r="2.11" fill="#dddd94" stroke="#dddd94" stroke-width="1.03" fill-opacity="0.80" stroke-opacity="0.80"/>
<circle cx="271.54" cy="218.16" r="2.11" fill="#dddd94" stroke="#dddd94" stroke-width="1.03" fill-opacity="0.65" stroke-opacity="0.65"/>
<circle cx="265.83" cy="224.28" r="2.11" fill="#dddd94" stroke="#dddd94" stroke-width="1.03" fill-opacity="0.65" stroke-opacity="0.65"/>
<circle cx="269.13" cy="220.68" r="2.11" fill="#dddd94" stroke="#dddd94" stroke-width="1.03" fill-opacity="0.65" stroke-opacity="0.65"/>
<circle cx="307.59" cy="182.26" r="2.11" fill="#dddd94" stroke="#dddd94" stroke-width="1.03" fill-opacity="0.65" stroke-opacity="0.65"/>
<circle cx="278.90" cy="192.60" r="2.11" fill="#dddd94" stroke="#dddd94" stroke-width="1.03" fill-opacity="0.65" stroke-opacity="0.65"/>
<circle cx="290.83" cy="196.92" r="2.11" fill="#dddd94" stroke="#dddd94" stroke-width="1.03" fill-opacity="0.65" stroke-opacity="0.65"/>
<circle cx="278.28" cy="233.85" r="2.11" fill="#dddd94" stroke="#dddd94" stroke-width="1.03" fill-opacity="0.65" stroke-opacity="0.65"/>
<circle cx="274.22" cy="215.38" r="2.11" fill="#dddd94" stroke="#dddd94" stroke-width="1.03" fill-opacity="0.65" stroke-opacity="0.65"/>
<circle cx="296.79" cy="198.62" r="2.11" fill="#dddd94" stroke="#dddd94" stroke-width="1.03" fill-opacity="0.65" stroke-opacity="0.65"/>
<circle cx="292.63" cy="201.65" r="2.11" fill="#dddd94" stroke="#dddd94" stroke-width="1.03" fill-opacity="0.65" stroke-opacity="0.65"/>
<circle cx="285.79" cy="193.11" r="2.11" fill="#dddd94" stroke="#dddd94" stroke-width="1.03" fill-opacity="0.65" stroke-opacity="0.65"/>
<circle cx="283.47" cy="198.98" r="2.11" fill="#dddd94" stroke="#dddd94" stroke-width="1.03" fill-opacity="0.65" stroke-opacity="0.65"/>
<circle cx="277.05" cy="194.76" r="2.11" fill="#dddd94" stroke="#dddd94" stroke-width="1.03" fill-opacity="0.65" stroke-opacity="0.65"/>
<circle cx="275.61" cy="198.00" r="2.11" fill="#dddd94" stroke="#dddd94" stroke-width="1.03" fill-opacity="0.65" stroke-opacity="0.65"/>
<circle cx="263.47" cy="228.91" r="2.11" fill="#dddd94" stroke="#dddd94" stroke-width="1.03" fill-opacity="0.65" stroke-opacity="0.65"/>
<circle cx="304.82" cy="178.51" r="2.11" fill="#dddd94" stroke="#dddd94" stroke-width="1.03" fill-opacity="0.65" stroke-opacity="0.65"/>
<circle cx="299.83" cy="189.05" r="2.11" fill="#dddd94" stroke="#dddd94" stroke-width="1.03" fill-opacity="0.65" stroke-opacity="0.65"/>
<circle cx="292.06" cy="204.53" r="2.11" fill="#dddd94" stroke="#dddd94" stroke-width="1.03" fill-opacity="0.65" stroke-opacity="0.65"/>
<circle cx="299.01" cy="182.16" r="2.11" fill="#dddd94" stroke="#dddd94" stroke-width="1.03" fill-opacity="0.65" stroke-opacity="0.65"/>
<circle cx="277.82" cy="218.78" r="2.11" fill="#dddd94" stroke="#dddd94" stroke-width="1.03" fill-opacity="0.65" stroke-opacity="0.65"/>
<circle cx="302.30" cy="187.92" r="2.11" fill="#dddd94" stroke="#dddd94" stroke-width="1.03" fill-opacity="0.65" stroke-opacity="0.65"/>
<circle cx="279.00" cy="187.87" r="2.11" fill="#dddd94" stroke="#dddd94" stroke-width="1.03" fill-opacity="0.65" stroke-opacity="0.65"/>
<circle cx="273.45" cy="228.45" r="2.11" fill="#dddd94" stroke="#dddd94" stroke-width="1.03" fill-opacity="0.65" stroke-opacity="0.65"/>
<circle cx="280.59" cy="202.63" r="2.11" fill="#dddd94" stroke="#dddd94" stroke-width="1.03" fill-opacity="0.65" stroke-opacity="0.65"/>
<circle cx="292.11" cy="187.87" r="2.11" fill="#dddd94" stroke="#dddd94" stroke-width="1.03" fill-opacity="0.65" stroke-opacity="0.65"/>
<circle cx="277.51" cy="226.13" r="2.11" fill="#dddd94" stroke="#dddd94" stroke-width="1.03" fill-opacity="0.65" stroke-opacity="0.65"/>
<circle cx="267.07" cy="229.17" r="2.11" fill="#dddd94" stroke="#dddd94" stroke-width="1.03" fill-opacity="0.65" stroke-opacity="0.65"/>
<circle cx="269.85" cy="230.50" r="2.11" fill="#dddd94" stroke="#dddd94" stroke-width="1.03" fill-opacity="0.65" stroke-opacity="0.65"/>
<circle cx="268.66" cy="213.94" r="2.11" fill="#dddd94" stroke="#dddd94" stroke-width="1.03" fill-opacity="0.65" stroke-opacity="0.65"/>
<circle cx="290.73" cy="192.70" r="2.11" fill="#dddd94" stroke="#dddd94" stroke-width="1.03" fill-opacity="0.65" stroke-opacity="0.65"/>
<circle cx="292.73" cy="183.24" r="2.11" fill="#dddd94" stroke="#dddd94" stroke-width="1.03" fill-opacity="0.65" stroke-opacity="0.65"/>
<circle cx="273.60" cy="236.06" r="2.11" fill="#dddd94" stroke="#dddd94" stroke-width="1.03" fill-opacity="0.65" stroke-opacity="0.65"/>
<circle cx="303.79" cy="185.30" r="2.11" fill="#dddd94" stroke="#dddd94" stroke-width="1.03" fill-opacity="0.65" stroke-opacity="0.65"/>
<circle cx="273.39" cy="231.58" r="2.11" fill="#dddd94" stroke="#dddd94" stroke-width="1.03" fill-opacity="0.65" stroke-opacity="0.65"/>
<circle cx="284.86" cy="206.49" r="2.11" fill="#dddd94" stroke="#dddd94" stroke-width="1.03" fill-opacity="0.65" stroke-opacity="0.65"/>
<circle cx="276.07" cy="221.71" r="2.11" fill="#dddd94" stroke="#dddd94" stroke-width="1.03" fill-opacity="0.65" stroke-opacity="0.65"/>
<circle cx="304.97" cy="181.18" r="2.11" fill="#dddd94" stroke="#dddd94" stroke-width="1.03" fill-opacity="0.65" stroke-opacity="0.65"/>
<circle cx="274.83" cy="218.06" r="2.11" fill="#dddd94" stroke="#dddd94" stroke-width="1.03" fill-opacity="0.65" stroke-opacity="0.65"/>
<circle cx="270.21" cy="233.28" r="2.11" fill="#dddd94" stroke="#dddd94" stroke-width="1.03" fill-opacity="0.65" stroke-opacity="0.65"/>
<circle cx="298.23" cy="178.05" r="2.11" fill="#dddd94" stroke="#dddd94" stroke-width="1.03" fill-opacity="0.65" stroke-opacity="0.65"/>
<circle cx="273.39" cy="221.81" r="2.11" fill="#dddd94" stroke="#dddd94" stroke-width="1.03" fill-opacity="0.65" stroke-opacity="0.65"/>
<circle cx="286.97" cy="188.85" r="2.11" fill="#dddd94" stroke="#dddd94" stroke-width="1.03" fill-opacity="0.65" stroke-opacity="0.65"/>
<circle cx="284.71" cy="220.47" r="2.11" fill="#dddd94" stroke="#dddd94" stroke-width="1.03" fill-opacity="0.65" stroke-opacity="0.65"/>
<circle cx="296.54" cy="191.06" r="2.11" fill="#dddd94" stroke="#dddd94" stroke-width="1.03" fill-opacity="0.65" stroke-opacity="0.65"/>
<circle cx="295.56" cy="175.78" r="2.11" fill="#dddd94" stroke="#dddd94" stroke-width="1.03" fill-opacity="0.65" stroke-opacity="0.65"/>
<circle cx="268.87" cy="236.11" r="2.11" fill="#dddd94" stroke="#dddd94" stroke-width="1.03" fill-opacity="0.65" stroke-opacity="0.65"/>
<circle cx="282.19" cy="191.73" r="2.11" fill="#dddd94" stroke="#dddd94" stroke-width="1.03" fill-opacity="0.65" stroke-opacity="0.65"/>
<circle cx="282.91" cy="195.74" r="2.11" fill="#dddd94" stroke="#dddd94" stroke-width="1.03" fill-opacity="0.65" stroke-opacity="0.65"/>
<circle cx="277.35" cy="211.68" r="2.11" fill="#dddd94" stroke="#dddd94" stroke-width="1.03" fill-opacity="0.65" stroke-opacity="0.65"/>
<circle cx="280.13" cy="224.69" r="2.11" fill="#dddd94" stroke="#dddd94" stroke-width="1.03" fill-opacity="0.65" stroke-opacity="0.65"/>
<circle cx="290.57" cy="181.59" r="2.11" fill="#dddd94" stroke="#dddd94" stroke-width="1.03" fill-opacity="0.65" stroke-opacity="0.65"/>
<circle cx="288.00" cy="184.78" r="2.11" fill="#dddd94" stroke="#dddd94" stroke-width="1.03" fill-opacity="0.65" stroke-opacity="0.65"/>
<circle cx="269.23" cy="226.39" r="2.11" fill="#dddd94" stroke="#dddd94" stroke-width="1.03" fill-opacity="0.65" stroke-opacity="0.65"/>
<circle cx="281.73" cy="205.92" r="2.11" fill="#dddd94" stroke="#dddd94" stroke-width="1.03" fill-opacity="0.65" stroke-opacity="0.65"/>
<circle cx="280.59" cy="229.11" r="2.11" fill="#dddd94" stroke="#dddd94" stroke-width="1.03" fill-opacity="0.65" stroke-opacity="0.65"/>
<circle cx="281.37" cy="189.26" r="2.11" fill="#dddd94" stroke="#dddd94" stroke-width="1.03" fill-opacity="0.65" stroke-opacity="0.65"/>
<circle cx="283.78" cy="202.53" r="2.11" fill="#dddd94" stroke="#dddd94" stroke-width="1.03" fill-opacity="0.65" stroke-opacity="0.65"/>
<circle cx="271.90" cy="213.48" r="2.11" fill="#dddd94" stroke="#dddd94" stroke-width="1.03" fill-opacity="0.65" stroke-opacity="0.65"/>
<circle cx="282.55" cy="213.43" r="2.11" fill="#dddd94" stroke="#dddd94" stroke-width="1.03" fill-opacity="0.65" stroke-opacity="0.65"/>
<circle cx="289.39" cy="187.97" r="2.11" fill="#dddd94" stroke="#dddd94" stroke-width="1.03" fill-opacity="0.65" stroke-opacity="0.65"/>
<circle cx="295.77" cy="201.34" r="2.11" fill="#dddd94" stroke="#dddd94" stroke-width="1.03" fill-opacity="0.65" stroke-opacity="0.65"/>
<circle cx="312.33" cy="181.44" r="2.11" fill="#dddd94" stroke="#dddd94" stroke-width="1.03" fill-opacity="0.65" stroke-opacity="0.65"/>
<circle cx="293.40" cy="193.06" r="2.11" fill="#dddd94" stroke="#dddd94" stroke-width="1.03" fill-opacity="0.65" stroke-opacity="0.65"/>
<circle cx="292.53" cy="179.23" r="2.11" fill="#dddd94" stroke="#dddd94" stroke-width="1.03" fill-opacity="0.65" stroke-opacity="0.65"/>
<circle cx="278.23" cy="205.41" r="2.11" fill="#dddd94" stroke="#dddd94" stroke-width="1.03" fill-opacity="0.65" stroke-opacity="0.65"/>
<circle cx="310.63" cy="183.50" r="2.11" fill="#dddd94" stroke="#dddd94" stroke-width="1.03" fill-opacity="0.65" stroke-opacity="0.65"/>
<circle cx="295.61" cy="181.65" r="2.11" fill="#dddd94" stroke="#dddd94" stroke-width="1.03" fill-opacity="0.65" stroke-opacity="0.65"/>
<circle cx="287.28" cy="207.46" r="2.11" fill="#dddd94" stroke="#dddd94" stroke-width="1.03" fill-opacity="0.65" stroke-opacity="0.65"/>
<circle cx="275.19" cy="233.64" r="2.11" fill="#dddd94" stroke="#dddd94" stroke-width="1.03" fill-opacity="0.65" stroke-opacity="0.65"/>
<circle cx="275.14" cy="202.99" r="2.11" fill="#dddd94" stroke="#dddd94" stroke-width="1.03" fill-opacity="0.65" stroke-opacity="0.65"/>
<circle cx="283.63" cy="217.65" r="2.11" fill="#dddd94" stroke="#dddd94" stroke-width="1.03" fill-opacity="0.65" stroke-opacity="0.65"/>
<circle cx="299.67" cy="199.18" r="2.11" fill="#dddd94" stroke="#dddd94" stroke-width="1.03" fill-opacity="0.65" stroke-opacity="0.65"/>
<circle cx="279.46" cy="197.38" r="2.11" fill="#dddd94" stroke="#dddd94" stroke-width="1.03" fill-opacity="0.65" stroke-opacity="0.65"/>
<circle cx="294.89" cy="187.46" r="2.11" fill="#dddd94" stroke="#dddd94" stroke-width="1.03" fill-opacity="0.65" stroke-opacity="0.65"/>
<circle cx="266.50" cy="220.06" r="2.11" fill="#dddd94" stroke="#dddd94" stroke-width="1.03" fill-opacity="0.65" stroke-opacity="0.65"/>
<circle cx="279.72" cy="220.58" r="2.11" fill="#dddd94" stroke="#dddd94" stroke-width="1.03" fill-opacity="0.65" stroke-opacity="0.65"/>
<circle cx="296.38" cy="194.25" r="2.11" fill="#dddd94" stroke="#dddd94" stroke-width="1.03" fill-opacity="0.65" stroke-opacity="0.65"/>
<circle cx="265.83" cy="232.46" r="2.11" fill="#dddd94" stroke="#dddd94" stroke-width="1.03" fill-opacity="0.65" stroke-opacity="0.65"/>
<circle cx="283.01" cy="208.80" r="2.11" fill="#dddd94" stroke="#dddd94" stroke-width="1.03" fill-opacity="0.65" stroke-opacity="0.65"/>
<circle cx="274.83" cy="211.01" r="2.11" fill="#dddd94" stroke="#dddd94" stroke-width="1.03" fill-opacity="0.65" stroke-opacity="0.65"/>
<circle cx="288.51" cy="199.75" r="2.11" fill="#dddd94" stroke="#dddd94" stroke-width="1.03" fill-opacity="0.65" stroke-opacity="0.65"/>
<circle cx="277.41" cy="230.09" r="2.11" fill="#dddd94" stroke="#dddd94" stroke-width="1.03" fill-opacity="0.65" stroke-opacity="0.65"/>
<circle cx="302.25" cy="177.22" r="2.11" fill="#dddd94" stroke="#dddd94" stroke-width="1.03" fill-opacity="0.65" stroke-opacity="0.65"/>
<circle cx="281.78" cy="222.69" r="2.11" fill="#dddd94" stroke="#dddd94" stroke-width="1.03" fill-opacity="0.65" stroke-opacity="0.65"/>
<circle cx="308.78" cy="179.43" r="2.11" fill="#dddd94" stroke="#dddd94" stroke-width="1.03" fill-opacity="0.65" stroke-opacity="0.65"/>
<circle cx="274.37" cy="225.67" r="2.11" fill="#dddd94" stroke="#dddd94" stroke-width="1.03" fill-opacity="0.65" stroke-opacity="0.65"/>
<circle cx="287.69" cy="191.37" r="2.11" fill="#dddd94" stroke="#dddd94" stroke-width="1.03" fill-opacity="0.65" stroke-opacity="0.65"/>
<circle cx="285.84" cy="211.37" r="2.11" fill="#dddd94" stroke="#dddd94" stroke-width="1.03" fill-opacity="0.65" stroke-opacity="0.65"/>
<circle cx="271.85" cy="238.01" r="2.11" fill="#dddd94" stroke="#dddd94" stroke-width="1.03" fill-opacity="0.65" stroke-opacity="0.65"/>
<circle cx="285.48" cy="214.20" r="2.11" fill="#dddd94" stroke="#dddd94" stroke-width="1.03" fill-opacity="0.65" stroke-opacity="0.65"/>
<circle cx="280.70" cy="211.01" r="2.11" fill="#dddd94" stroke="#dddd94" stroke-width="1.03" fill-opacity="0.65" stroke-opacity="0.65"/>
<circle cx="293.09" cy="190.39" r="2.11" fill="#dddd94" stroke="#dddd94" stroke-width="1.03" fill-opacity="0.65" stroke-opacity="0.65"/>
<circle cx="297.31" cy="184.32" r="2.11" fill="#dddd94" stroke="#dddd94" stroke-width="1.03" fill-opacity="0.65" stroke-opacity="0.65"/>
<circle cx="301.94" cy="180.77" r="2.11" fill="#dddd94" stroke="#dddd94" stroke-width="1.03" fill-opacity="0.65" stroke-opacity="0.65"/>
<circle cx="290.47" cy="206.74" r="2.11" fill="#dddd94" stroke="#dddd94" stroke-width="1.03" fill-opacity="0.65" stroke-opacity="0.65"/>
<circle cx="299.52" cy="185.97" r="2.11" fill="#dddd94" stroke="#dddd94" stroke-width="1.03" fill-opacity="0.65" stroke-opacity="0.65"/>
<circle cx="310.01" cy="186.17" r="2.11" fill="#dddd94" stroke="#dddd94" stroke-width="1.03" fill-opacity="0.65" stroke-opacity="0.65"/>
<circle cx="286.10" cy="203.71" r="2.11" fill="#dddd94" stroke="#dddd94" stroke-width="1.03" fill-opacity="0.65" stroke-opacity="0.65"/>
<circle cx="271.13" cy="223.77" r="2.11" fill="#dddd94" stroke="#dddd94" stroke-width="1.03" fill-opacity="0.65" stroke-opacity="0.65"/>
<circle cx="277.46" cy="201.29" r="2.11" fill="#dddd94" stroke="#dddd94" stroke-width="1.03" fill-opacity="0.65" stroke-opacity="0.65"/>
<circle cx="267.99" cy="217.65" r="2.11" fill="#dddd94" stroke="#dddd94" stroke-width="1.03" fill-opacity="0.65" stroke-opacity="0.65"/>
<circle cx="289.03" cy="194.71" r="2.11" fill="#dddd94" stroke="#dddd94" stroke-width="1.03" fill-opacity="0.65" stroke-opacity="0.65"/>
<circle cx="306.26" cy="187.30" r="2.11" fill="#dddd94" stroke="#dddd94" stroke-width="1.03" fill-opacity="0.65" stroke-opacity="0.65"/>
<circle cx="301.53" cy="183.86" r="2.11" fill="#dddd94" stroke="#dddd94" stroke-width="1.03" fill-opacity="0.65" stroke-opacity="0.65"/>
<circle cx="294.43" cy="196.66" r="2.11" fill="#dddd94" stroke="#dddd94" stroke-width="1.03" fill-opacity="0.65" stroke-opacity="0.65"/>
<circle cx="280.80" cy="199.90" r="2.11" fill="#dddd94" stroke="#dddd94" stroke-width="1.03" fill-opacity="0.65" stroke-opacity="0.65"/>
<circle cx="268.61" cy="223.30" r="2.11" fill="#dddd94" stroke="#dddd94" stroke-width="1.03" fill-opacity="0.65" stroke-opacity="0.65"/>
<circle cx="299.52" cy="174.45" r="2.11" fill="#dddd94" stroke="#dddd94" stroke-width="1.03" fill-opacity="0.65" stroke-opacity="0.65"/>
<circle cx="285.63" cy="186.53" r="2.11" fill="#dddd94" stroke="#dddd94" stroke-width="1.03" fill-opacity="0.65" stroke-opacity="0.65"/>
<circle cx="280.90" cy="217.59" r="2.11" fill="#dddd94" stroke="#dddd94" stroke-width="1.03" fill-opacity="0.65" stroke-opacity="0.65"/>
<circle cx="283.94" cy="189.26" r="2.11" fill="#dddd94" stroke="#dddd94" stroke-width="1.03" fill-opacity="0.65" stroke-opacity="0.65"/>
<circle cx="302.45" cy="174.14" r="2.11" fill="#dddd94" stroke="#dddd94" stroke-width="1.03" fill-opacity="0.65" stroke-opacity="0.65"/>
<circle cx="276.58" cy="191.16" r="2.11" fill="#dddd94" stroke="#dddd94" stroke-width="1.03" fill-opacity="0.65" stroke-opacity="0.65"/>
<circle cx="286.82" cy="197.79" r="2.11" fill="#dddd94" stroke="#dddd94" stroke-width="1.03" fill-opacity="0.65" stroke-opacity="0.65"/>
<circle cx="286.20" cy="218.11" r="2.11" fill="#dddd94" stroke="#dddd94" stroke-width="1.03" fill-opacity="0.65" stroke-opacity="0.65"/>
<circle cx="278.38" cy="208.13" r="2.11" fill="#dddd94" stroke="#dddd94" stroke-width="1.03" fill-opacity="0.65" stroke-opacity="0.65"/>
<circle cx="291.09" cy="185.40" r="2.11" fill="#dddd94" stroke="#dddd94" stroke-width="1.03" fill-opacity="0.65" stroke-opacity="0.65"/>
<circle cx="307.75" cy="184.94" r="2.11" fill="#dddd94" stroke="#dddd94" stroke-width="1.03" fill-opacity="0.65" stroke-opacity="0.65"/>
<circle cx="265.42" cy="227.16" r="2.11" fill="#dddd94" stroke="#dddd94" stroke-width="1.03" fill-opacity="0.65" stroke-opacity="0.65"/>
<circle cx="298.54" cy="196.61" r="2.11" fill="#dddd94" stroke="#dddd94" stroke-width="1.03" fill-opacity="0.65" stroke-opacity="0.65"/>
<circle cx="295.77" cy="179.02" r="2.11" fill="#dddd94" stroke="#dddd94" stroke-width="1.03" fill-opacity="0.65" stroke-opacity="0.65"/>
<circle cx="276.63" cy="236.31" r="2.11" fill="#dddd94" stroke="#dddd94" stroke-width="1.03" fill-opacity="0.65" stroke-opacity="0.65"/>
<circle cx="280.13" cy="231.84" r="2.11" fill="#dddd94" stroke="#dddd94" stroke-width="1.03" fill-opacity="0.65" stroke-opacity="0.65"/>
<circle cx="292.58" cy="198.93" r="2.11" fill="#dddd94" stroke="#dddd94" stroke-width="1.03" fill-opacity="0.65" stroke-opacity="0.65"/>
<circle cx="275.25" cy="205.66" r="2.11" fill="#dddd94" stroke="#dddd94" stroke-width="1.03" fill-opacity="0.65" stroke-opacity="0.65"/>
<circle cx="295.20" cy="158.91" r="2.11" fill="#dddd94" stroke="#dddd94" stroke-width="1.03" fill-opacity="0.75" stroke-opacity="0.75"/>
<circle cx="301.11" cy="163.80" r="2.11" fill="#dddd94" stroke="#dddd94" stroke-width="1.03" fill-opacity="0.75" stroke-opacity="0.75"/>
<circle cx="303.69" cy="164.31" r="2.11" fill="#dddd94" stroke="#dddd94" stroke-width="1.03" fill-opacity="0.75" stroke-opacity="0.75"/>
<circle cx="296.74" cy="165.86" r="2.11" fill="#dddd94" stroke="#dddd94" stroke-width="1.03" fill-opacity="0.75" stroke-opacity="0.75"/>
<circle cx="287.23" cy="165.86" r="2.11" fill="#dddd94" stroke="#dddd94" stroke-width="1.03" fill-opacity="0.75" stroke-opacity="0.75"/>
<circle cx="280.03" cy="167.76" r="2.11" fill="#dddd94" stroke="#dddd94" stroke-width="1.03" fill-opacity="0.75" stroke-opacity="0.75"/>
<circle cx="294.69" cy="169.71" r="2.11" fill="#dddd94" stroke="#dddd94" stroke-width="1.03" fill-opacity="0.75" stroke-opacity="0.75"/>
<circle cx="297.77" cy="170.23" r="2.11" fill="#dddd94" stroke="#dddd94" stroke-width="1.03" fill-opacity="0.75" stroke-opacity="0.75"/>
<circle cx="304.46" cy="168.43" r="2.11" fill="#dddd94" stroke="#dddd94" stroke-width="1.03" fill-opacity="0.75" stroke-opacity="0.75"/>
<circle cx="282.60" cy="173.57" r="2.11" fill="#dddd94" stroke="#dddd94" stroke-width="1.03" fill-opacity="0.75" stroke-opacity="0.75"/>
<circle cx="286.97" cy="174.86" r="2.11" fill="#dddd94" stroke="#dddd94" stroke-width="1.03" fill-opacity="0.75" stroke-opacity="0.75"/>
<circle cx="277.10" cy="179.49" r="2.11" fill="#dddd94" stroke="#dddd94" stroke-width="1.03" fill-opacity="0.75" stroke-opacity="0.75"/>
<circle cx="317.57" cy="176.91" r="2.11" fill="#dddd94" stroke="#dddd94" stroke-width="1.03" fill-opacity="0.75" stroke-opacity="0.75"/>
<circle cx="314.74" cy="178.46" r="2.11" fill="#dddd94" stroke="#dddd94" stroke-width="1.03" fill-opacity="0.75" stroke-opacity="0.75"/>
<circle cx="304.46" cy="171.77" r="2.11" fill="#dddd94" stroke="#dddd94" stroke-width="1.03" fill-opacity="0.75" stroke-opacity="0.75"/>
<circle cx="301.37" cy="171.26" r="2.11" fill="#dddd94" stroke="#dddd94" stroke-width="1.03" fill-opacity="0.75" stroke-opacity="0.75"/>
<circle cx="292.37" cy="165.60" r="2.11" fill="#dddd94" stroke="#dddd94" stroke-width="1.03" fill-opacity="0.45" stroke-opacity="0.45"/>
<circle cx="290.57" cy="170.74" r="2.11" fill="#dddd94" stroke="#dddd94" stroke-width="1.03" fill-opacity="0.45" stroke-opacity="0.45"/>
<circle cx="280.80" cy="177.43" r="2.11" fill="#dddd94" stroke="#dddd94" stroke-width="1.03" fill-opacity="0.45" stroke-opacity="0.45"/>
<circle cx="309.09" cy="173.83" r="2.11" fill="#dddd94" stroke="#dddd94" stroke-width="1.03" fill-opacity="0.45" stroke-opacity="0.45"/>
<circle cx="306.26" cy="195.53" r="2.11" fill="#dddd94" stroke="#dddd94" stroke-width="1.03" fill-opacity="0.75" stroke-opacity="0.75"/>
<circle cx="294.17" cy="213.69" r="2.11" fill="#dddd94" stroke="#dddd94" stroke-width="1.03" fill-opacity="0.75" stroke-opacity="0.75"/>
<circle cx="268.46" cy="207.26" r="2.11" fill="#dddd94" stroke="#dddd94" stroke-width="1.03" fill-opacity="0.45" stroke-opacity="0.45"/>
<circle cx="266.40" cy="194.40" r="2.11" fill="#dddd94" stroke="#dddd94" stroke-width="1.03" fill-opacity="0.45" stroke-opacity="0.45"/>
<circle cx="264.60" cy="197.49" r="2.11" fill="#dddd94" stroke="#dddd94" stroke-width="1.03" fill-opacity="0.45" stroke-opacity="0.45"/>
<circle cx="265.89" cy="212.40" r="2.11" fill="#dddd94" stroke="#dddd94" stroke-width="1.03" fill-opacity="0.45" stroke-opacity="0.45"/>
<circle cx="265.37" cy="218.06" r="2.11" fill="#dddd94" stroke="#dddd94" stroke-width="1.03" fill-opacity="0.45" stroke-opacity="0.45"/>
<circle cx="263.31" cy="221.14" r="2.11" fill="#dddd94" stroke="#dddd94" stroke-width="1.03" fill-opacity="0.45" stroke-opacity="0.45"/>
<circle cx="260.64" cy="245.93" r="2.11" fill="#dddd94" stroke="#dddd94" stroke-width="1.03" fill-opacity="0.75" stroke-opacity="0.75"/>
<circle cx="260.23" cy="222.17" r="2.11" fill="#dddd94" stroke="#dddd94" stroke-width="1.03" fill-opacity="0.75" stroke-opacity="0.75"/>
<circle cx="257.91" cy="225.51" r="2.11" fill="#dddd94" stroke="#dddd94" stroke-width="1.03" fill-opacity="0.75" stroke-opacity="0.75"/>
<circle cx="257.40" cy="229.63" r="2.11" fill="#dddd94" stroke="#dddd94" stroke-width="1.03" fill-opacity="0.75" stroke-opacity="0.75"/>
<circle cx="257.76" cy="233.74" r="2.11" fill="#dddd94" stroke="#dddd94" stroke-width="1.03" fill-opacity="0.75" stroke-opacity="0.75"/>
<circle cx="266.66" cy="240.17" r="2.11" fill="#dddd94" stroke="#dddd94" stroke-width="1.03" fill-opacity="0.75" stroke-opacity="0.75"/>
<circle cx="267.94" cy="245.83" r="2.11" fill="#dddd94" stroke="#dddd94" stroke-width="1.03" fill-opacity="0.75" stroke-opacity="0.75"/>
<circle cx="269.74" cy="244.29" r="2.11" fill="#dddd94" stroke="#dddd94" stroke-width="1.03" fill-opacity="0.75" stroke-opacity="0.75"/>
<circle cx="276.17" cy="243.77" r="2.11" fill="#dddd94" stroke="#dddd94" stroke-width="1.03" fill-opacity="0.75" stroke-opacity="0.75"/>
<circle cx="275.55" cy="247.63" r="2.11" fill="#dddd94" stroke="#dddd94" stroke-width="1.03" fill-opacity="0.75" stroke-opacity="0.75"/>
<circle cx="282.75" cy="243.77" r="2.11" fill="#dddd94" stroke="#dddd94" stroke-width="1.03" fill-opacity="0.75" stroke-opacity="0.75"/>
<circle cx="283.37" cy="240.69" r="2.11" fill="#dddd94" stroke="#dddd94" stroke-width="1.03" fill-opacity="0.75" stroke-opacity="0.75"/>
<circle cx="286.46" cy="236.31" r="2.11" fill="#dddd94" stroke="#dddd94" stroke-width="1.03" fill-opacity="0.75" stroke-opacity="0.75"/>
<circle cx="283.63" cy="233.74" r="2.11" fill="#dddd94" stroke="#dddd94" stroke-width="1.03" fill-opacity="0.75" stroke-opacity="0.75"/>
<circle cx="288.26" cy="229.63" r="2.11" fill="#dddd94" stroke="#dddd94" stroke-width="1.03" fill-opacity="0.75" stroke-opacity="0.75"/>
<circle cx="290.83" cy="227.57" r="2.11" fill="#dddd94" stroke="#dddd94" stroke-width="1.03" fill-opacity="0.75" stroke-opacity="0.75"/>
<circle cx="288.00" cy="225.77" r="2.11" fill="#dddd94" stroke="#dddd94" stroke-width="1.03" fill-opacity="0.75" stroke-opacity="0.75"/>
<circle cx="250.35" cy="234.15" r="2.11" fill="#dddd94" stroke="#dddd94" stroke-width="1.03" fill-opacity="0.45" stroke-opacity="0.45"/>
<circle cx="263.31" cy="238.37" r="2.11" fill="#dddd94" stroke="#dddd94" stroke-width="1.03" fill-opacity="0.45" stroke-opacity="0.45"/>
<circle cx="254.57" cy="219.60" r="2.11" fill="#dddd94" stroke="#dddd94" stroke-width="1.03" fill-opacity="0.45" stroke-opacity="0.45"/>
<circle cx="248.66" cy="218.57" r="2.11" fill="#dddd94" stroke="#dddd94" stroke-width="1.03" fill-opacity="0.45" stroke-opacity="0.45"/>
<circle cx="272.06" cy="185.86" r="2.11" fill="#dddd94" stroke="#dddd94" stroke-width="1.03" fill-opacity="0.75" stroke-opacity="0.75"/>
<circle cx="205.15" cy="172.34" r="2.11" fill="#d479c0" stroke="#d479c0" stroke-width="1.03" fill-opacity="0.60" stroke-opacity="0.60"/>
<circle cx="205.66" cy="157.68" r="2.11" fill="#d479c0" stroke="#d479c0" stroke-width="1.03" fill-opacity="0.60" stroke-opacity="0.60"/>
<circle cx="214.56" cy="187.66" r="2.11" fill="#d479c0" stroke="#d479c0" stroke-width="1.03" fill-opacity="0.60" stroke-opacity="0.60"/>
<circle cx="211.94" cy="181.65" r="2.11" fill="#d479c0" stroke="#d479c0" stroke-width="1.03" fill-opacity="0.60" stroke-opacity="0.60"/>
<circle cx="215.43" cy="149.61" r="2.11" fill="#d479c0" stroke="#d479c0" stroke-width="1.03" fill-opacity="0.60" stroke-opacity="0.60"/>
<circle cx="206.69" cy="148.06" r="2.11" fill="#d479c0" stroke="#d479c0" stroke-width="1.03" fill-opacity="0.60" stroke-opacity="0.60"/>
<circle cx="208.90" cy="184.47" r="2.11" fill="#d479c0" stroke="#d479c0" stroke-width="1.03" fill-opacity="0.60" stroke-opacity="0.60"/>
<circle cx="210.09" cy="190.85" r="2.11" fill="#d479c0" stroke="#d479c0" stroke-width="1.03" fill-opacity="0.60" stroke-opacity="0.60"/>
<circle cx="202.78" cy="156.86" r="2.11" fill="#d479c0" stroke="#d479c0" stroke-width="1.03" fill-opacity="0.60" stroke-opacity="0.60"/>
<circle cx="214.35" cy="160.82" r="2.11" fill="#d479c0" stroke="#d479c0" stroke-width="1.03" fill-opacity="0.60" stroke-opacity="0.60"/>
<circle cx="215.43" cy="154.29" r="2.11" fill="#d479c0" stroke="#d479c0" stroke-width="1.03" fill-opacity="0.60" stroke-opacity="0.60"/>
<circle cx="216.41" cy="156.55" r="2.11" fill="#d479c0" stroke="#d479c0" stroke-width="1.03" fill-opacity="0.60" stroke-opacity="0.60"/>
<circle cx="201.65" cy="184.47" r="2.11" fill="#d479c0" stroke="#d479c0" stroke-width="1.03" fill-opacity="0.60" stroke-opacity="0.60"/>
<circle cx="209.26" cy="153.72" r="2.11" fill="#d479c0" stroke="#d479c0" stroke-width="1.03" fill-opacity="0.60" stroke-opacity="0.60"/>
<circle cx="204.22" cy="165.86" r="2.11" fill="#d479c0" stroke="#d479c0" stroke-width="1.03" fill-opacity="0.60" stroke-opacity="0.60"/>
<circle cx="205.15" cy="160.82" r="2.11" fill="#d479c0" stroke="#d479c0" stroke-width="1.03" fill-opacity="0.60" stroke-opacity="0.60"/>
<circle cx="222.69" cy="171.21" r="2.11" fill="#d479c0" stroke="#d479c0" stroke-width="1.03" fill-opacity="0.60" stroke-opacity="0.60"/>
<circle cx="215.59" cy="163.23" r="2.11" fill="#d479c0" stroke="#d479c0" stroke-width="1.03" fill-opacity="0.60" stroke-opacity="0.60"/>
<circle cx="205.51" cy="168.17" r="2.11" fill="#d479c0" stroke="#d479c0" stroke-width="1.03" fill-opacity="0.60" stroke-opacity="0.60"/>
<circle cx="208.13" cy="161.38" r="2.11" fill="#d479c0" stroke="#d479c0" stroke-width="1.03" fill-opacity="0.60" stroke-opacity="0.60"/>
<circle cx="217.80" cy="147.86" r="2.11" fill="#d479c0" stroke="#d479c0" stroke-width="1.03" fill-opacity="0.60" stroke-opacity="0.60"/>
<circle cx="202.63" cy="160.41" r="2.11" fill="#d479c0" stroke="#d479c0" stroke-width="1.03" fill-opacity="0.60" stroke-opacity="0.60"/>
<circle cx="217.18" cy="186.17" r="2.11" fill="#d479c0" stroke="#d479c0" stroke-width="1.03" fill-opacity="0.60" stroke-opacity="0.60"/>
<circle cx="215.23" cy="171.10" r="2.11" fill="#d479c0" stroke="#d479c0" stroke-width="1.03" fill-opacity="0.60" stroke-opacity="0.60"/>
<circle cx="220.94" cy="179.38" r="2.11" fill="#d479c0" stroke="#d479c0" stroke-width="1.03" fill-opacity="0.60" stroke-opacity="0.60"/>
<circle cx="199.85" cy="181.85" r="2.11" fill="#d479c0" stroke="#d479c0" stroke-width="1.03" fill-opacity="0.60" stroke-opacity="0.60"/>
<circle cx="207.87" cy="155.93" r="2.11" fill="#d479c0" stroke="#d479c0" stroke-width="1.03" fill-opacity="0.60" stroke-opacity="0.60"/>
<circle cx="212.19" cy="185.19" r="2.11" fill="#d479c0" stroke="#d479c0" stroke-width="1.03" fill-opacity="0.60" stroke-opacity="0.60"/>
<circle cx="209.57" cy="168.94" r="2.11" fill="#d479c0" stroke="#d479c0" stroke-width="1.03" fill-opacity="0.60" stroke-opacity="0.60"/>
<circle cx="201.60" cy="170.33" r="2.11" fill="#d479c0" stroke="#d479c0" stroke-width="1.03" fill-opacity="0.60" stroke-opacity="0.60"/>
<circle cx="202.47" cy="172.85" r="2.11" fill="#d479c0" stroke="#d479c0" stroke-width="1.03" fill-opacity="0.60" stroke-opacity="0.60"/>
<circle cx="210.45" cy="158.14" r="2.11" fill="#d479c0" stroke="#d479c0" stroke-width="1.03" fill-opacity="0.60" stroke-opacity="0.60"/>
<circle cx="201.24" cy="166.68" r="2.11" fill="#d479c0" stroke="#d479c0" stroke-width="1.03" fill-opacity="0.60" stroke-opacity="0.60"/>
<circle cx="209.62" cy="188.18" r="2.11" fill="#d479c0" stroke="#d479c0" stroke-width="1.03" fill-opacity="0.60" stroke-opacity="0.60"/>
<circle cx="205.25" cy="155.06" r="2.11" fill="#d479c0" stroke="#d479c0" stroke-width="1.03" fill-opacity="0.60" stroke-opacity="0.60"/>
<circle cx="206.54" cy="179.95" r="2.11" fill="#d479c0" stroke="#d479c0" stroke-width="1.03" fill-opacity="0.60" stroke-opacity="0.60"/>
<circle cx="203.61" cy="163.65" r="2.11" fill="#d479c0" stroke="#d479c0" stroke-width="1.03" fill-opacity="0.60" stroke-opacity="0.60"/>
<circle cx="203.97" cy="179.90" r="2.11" fill="#d479c0" stroke="#d479c0" stroke-width="1.03" fill-opacity="0.60" stroke-opacity="0.60"/>
<circle cx="202.22" cy="188.54" r="2.11" fill="#d479c0" stroke="#d479c0" stroke-width="1.03" fill-opacity="0.60" stroke-opacity="0.60"/>
<circle cx="215.02" cy="184.73" r="2.11" fill="#d479c0" stroke="#d479c0" stroke-width="1.03" fill-opacity="0.60" stroke-opacity="0.60"/>
<circle cx="211.22" cy="163.23" r="2.11" fill="#d479c0" stroke="#d479c0" stroke-width="1.03" fill-opacity="0.60" stroke-opacity="0.60"/>
<circle cx="214.82" cy="176.40" r="2.11" fill="#d479c0" stroke="#d479c0" stroke-width="1.03" fill-opacity="0.60" stroke-opacity="0.60"/>
<circle cx="207.87" cy="186.63" r="2.11" fill="#d479c0" stroke="#d479c0" stroke-width="1.03" fill-opacity="0.60" stroke-opacity="0.60"/>
<circle cx="220.63" cy="153.00" r="2.11" fill="#d479c0" stroke="#d479c0" stroke-width="1.03" fill-opacity="0.60" stroke-opacity="0.60"/>
<circle cx="208.34" cy="171.62" r="2.11" fill="#d479c0" stroke="#d479c0" stroke-width="1.03" fill-opacity="0.60" stroke-opacity="0.60"/>
<circle cx="213.63" cy="157.17" r="2.11" fill="#d479c0" stroke="#d479c0" stroke-width="1.03" fill-opacity="0.60" stroke-opacity="0.60"/>
<circle cx="218.16" cy="168.58" r="2.11" fill="#d479c0" stroke="#d479c0" stroke-width="1.03" fill-opacity="0.60" stroke-opacity="0.60"/>
<circle cx="221.61" cy="160.82" r="2.11" fill="#d479c0" stroke="#d479c0" stroke-width="1.03" fill-opacity="0.60" stroke-opacity="0.60"/>
<circle cx="207.72" cy="150.99" r="2.11" fill="#d479c0" stroke="#d479c0" stroke-width="1.03" fill-opacity="0.60" stroke-opacity="0.60"/>
<circle cx="205.15" cy="186.48" r="2.11" fill="#d479c0" stroke="#d479c0" stroke-width="1.03" fill-opacity="0.60" stroke-opacity="0.60"/>
<circle cx="214.05" cy="190.65" r="2.11" fill="#d479c0" stroke="#d479c0" stroke-width="1.03" fill-opacity="0.60" stroke-opacity="0.60"/>
<circle cx="203.14" cy="182.67" r="2.11" fill="#d479c0" stroke="#d479c0" stroke-width="1.03" fill-opacity="0.60" stroke-opacity="0.60"/>
<circle cx="206.23" cy="152.79" r="2.11" fill="#d479c0" stroke="#d479c0" stroke-width="1.03" fill-opacity="0.60" stroke-opacity="0.60"/>
<circle cx="217.65" cy="150.94" r="2.11" fill="#d479c0" stroke="#d479c0" stroke-width="1.03" fill-opacity="0.60" stroke-opacity="0.60"/>
<circle cx="212.09" cy="187.97" r="2.11" fill="#d479c0" stroke="#d479c0" stroke-width="1.03" fill-opacity="0.60" stroke-opacity="0.60"/>
<circle cx="214.46" cy="134.74" r="2.11" fill="#d479c0" stroke="#d479c0" stroke-width="1.03" fill-opacity="0.85" stroke-opacity="0.85"/>
<circle cx="197.49" cy="133.20" r="2.11" fill="#d479c0" stroke="#d479c0" stroke-width="1.03" fill-opacity="0.30" stroke-opacity="0.30"/>
<circle cx="195.94" cy="138.86" r="2.11" fill="#d479c0" stroke="#d479c0" stroke-width="1.03" fill-opacity="0.85" stroke-opacity="0.85"/>
<circle cx="193.37" cy="147.34" r="2.11" fill="#d479c0" stroke="#d479c0" stroke-width="1.03" fill-opacity="0.85" stroke-opacity="0.85"/>
<circle cx="208.54" cy="141.17" r="2.11" fill="#d479c0" stroke="#d479c0" stroke-width="1.03" fill-opacity="0.85" stroke-opacity="0.85"/>
<circle cx="235.70" cy="159.84" r="2.11" fill="#d479c0" stroke="#d479c0" stroke-width="1.03" fill-opacity="0.85" stroke-opacity="0.85"/>
<circle cx="212.40" cy="150.69" r="2.11" fill="#d479c0" stroke="#d479c0" stroke-width="1.03" fill-opacity="0.85" stroke-opacity="0.85"/>
<circle cx="211.11" cy="149.14" r="2.11" fill="#d479c0" stroke="#d479c0" stroke-width="1.03" fill-opacity="0.85" stroke-opacity="0.85"/>
<circle cx="213.43" cy="153.00" r="2.11" fill="#d479c0" stroke="#d479c0" stroke-width="1.03" fill-opacity="0.85" stroke-opacity="0.85"/>
<circle cx="211.89" cy="154.54" r="2.11" fill="#d479c0" stroke="#d479c0" stroke-width="1.03" fill-opacity="0.85" stroke-opacity="0.85"/>
<circle cx="203.66" cy="151.20" r="2.11" fill="#d479c0" stroke="#d479c0" stroke-width="1.03" fill-opacity="0.85" stroke-opacity="0.85"/>
<circle cx="228.34" cy="153.26" r="2.11" fill="#d479c0" stroke="#d479c0" stroke-width="1.03" fill-opacity="0.60" stroke-opacity="0.60"/>
<circle cx="227.57" cy="154.13" r="2.11" fill="#d479c0" stroke="#d479c0" stroke-width="1.03" fill-opacity="0.60" stroke-opacity="0.60"/>
<circle cx="237.19" cy="154.54" r="2.11" fill="#d479c0" stroke="#d479c0" stroke-width="1.03" fill-opacity="0.60" stroke-opacity="0.60"/>
<circle cx="226.65" cy="166.53" r="2.11" fill="#d479c0" stroke="#d479c0" stroke-width="1.03" fill-opacity="0.60" stroke-opacity="0.60"/>
<circle cx="230.91" cy="170.23" r="2.11" fill="#d479c0" stroke="#d479c0" stroke-width="1.03" fill-opacity="0.60" stroke-opacity="0.60"/>
<circle cx="220.89" cy="149.14" r="2.11" fill="#d479c0" stroke="#d479c0" stroke-width="1.03" fill-opacity="0.60" stroke-opacity="0.60"/>
<circle cx="222.94" cy="152.33" r="2.11" fill="#d479c0" stroke="#d479c0" stroke-width="1.03" fill-opacity="0.60" stroke-opacity="0.60"/>
<circle cx="218.06" cy="154.80" r="2.11" fill="#d479c0" stroke="#d479c0" stroke-width="1.03" fill-opacity="0.60" stroke-opacity="0.60"/>
<circle cx="221.14" cy="155.42" r="2.11" fill="#d479c0" stroke="#d479c0" stroke-width="1.03" fill-opacity="0.60" stroke-opacity="0.60"/>
<circle cx="222.69" cy="156.96" r="2.11" fill="#d479c0" stroke="#d479c0" stroke-width="1.03" fill-opacity="0.60" stroke-opacity="0.60"/>
<circle cx="219.60" cy="159.43" r="2.11" fill="#d479c0" stroke="#d479c0" stroke-width="1.03" fill-opacity="0.60" stroke-opacity="0.60"/>
<circle cx="218.06" cy="161.49" r="2.11" fill="#d479c0" stroke="#d479c0" stroke-width="1.03" fill-opacity="0.60" stroke-opacity="0.60"/>
<circle cx="207.26" cy="163.54" r="2.11" fill="#d479c0" stroke="#d479c0" stroke-width="1.03" fill-opacity="0.60" stroke-opacity="0.60"/>
<circle cx="209.83" cy="165.60" r="2.11" fill="#d479c0" stroke="#d479c0" stroke-width="1.03" fill-opacity="0.60" stroke-opacity="0.60"/>
<circle cx="213.43" cy="164.57" r="2.11" fill="#d479c0" stroke="#d479c0" stroke-width="1.03" fill-opacity="0.60" stroke-opacity="0.60"/>
<circle cx="216.00" cy="165.60" r="2.11" fill="#d479c0" stroke="#d479c0" stroke-width="1.03" fill-opacity="0.60" stroke-opacity="0.60"/>
<circle cx="220.63" cy="163.54" r="2.11" fill="#d479c0" stroke="#d479c0" stroke-width="1.03" fill-opacity="0.60" stroke-opacity="0.60"/>
<circle cx="222.17" cy="165.60" r="2.11" fill="#d479c0" stroke="#d479c0" stroke-width="1.03" fill-opacity="0.60" stroke-opacity="0.60"/>
<circle cx="221.14" cy="168.17" r="2.11" fill="#d479c0" stroke="#d479c0" stroke-width="1.03" fill-opacity="0.60" stroke-opacity="0.60"/>
<circle cx="212.40" cy="168.17" r="2.11" fill="#d479c0" stroke="#d479c0" stroke-width="1.03" fill-opacity="0.60" stroke-opacity="0.60"/>
<circle cx="214.46" cy="167.66" r="2.11" fill="#d479c0" stroke="#d479c0" stroke-width="1.03" fill-opacity="0.60" stroke-opacity="0.60"/>
<circle cx="217.54" cy="171.77" r="2.11" fill="#d479c0" stroke="#d479c0" stroke-width="1.03" fill-opacity="0.60" stroke-opacity="0.60"/>
<circle cx="219.60" cy="171.26" r="2.11" fill="#d479c0" stroke="#d479c0" stroke-width="1.03" fill-opacity="0.60" stroke-opacity="0.60"/>
<circle cx="216.00" cy="173.31" r="2.11" fill="#d479c0" stroke="#d479c0" stroke-width="1.03" fill-opacity="0.60" stroke-opacity="0.60"/>
<circle cx="210.86" cy="172.29" r="2.11" fill="#d479c0" stroke="#d479c0" stroke-width="1.03" fill-opacity="0.60" stroke-opacity="0.60"/>
<circle cx="208.29" cy="174.34" r="2.11" fill="#d479c0" stroke="#d479c0" stroke-width="1.03" fill-opacity="0.60" stroke-opacity="0.60"/>
<circle cx="198.51" cy="172.80" r="2.11" fill="#d479c0" stroke="#d479c0" stroke-width="1.03" fill-opacity="0.60" stroke-opacity="0.60"/>
<circle cx="224.13" cy="145.44" r="2.11" fill="#d479c0" stroke="#d479c0" stroke-width="1.03" fill-opacity="0.40" stroke-opacity="0.40"/>
<circle cx="224.49" cy="173.06" r="2.11" fill="#d479c0" stroke="#d479c0" stroke-width="1.03" fill-opacity="0.40" stroke-opacity="0.40"/>
<circle cx="205.71" cy="175.37" r="2.11" fill="#d479c0" stroke="#d479c0" stroke-width="1.03" fill-opacity="0.60" stroke-opacity="0.60"/>
<circle cx="208.80" cy="177.43" r="2.11" fill="#d479c0" stroke="#d479c0" stroke-width="1.03" fill-opacity="0.60" stroke-opacity="0.60"/>
<circle cx="210.86" cy="175.37" r="2.11" fill="#d479c0" stroke="#d479c0" stroke-width="1.03" fill-opacity="0.60" stroke-opacity="0.60"/>
<circle cx="217.54" cy="177.43" r="2.11" fill="#d479c0" stroke="#d479c0" stroke-width="1.03" fill-opacity="0.60" stroke-opacity="0.60"/>
<circle cx="219.09" cy="174.86" r="2.11" fill="#d479c0" stroke="#d479c0" stroke-width="1.03" fill-opacity="0.60" stroke-opacity="0.60"/>
<circle cx="216.00" cy="180.51" r="2.11" fill="#d479c0" stroke="#d479c0" stroke-width="1.03" fill-opacity="0.60" stroke-opacity="0.60"/>
<circle cx="218.06" cy="182.57" r="2.11" fill="#d479c0" stroke="#d479c0" stroke-width="1.03" fill-opacity="0.60" stroke-opacity="0.60"/>
<circle cx="220.11" cy="184.11" r="2.11" fill="#d479c0" stroke="#d479c0" stroke-width="1.03" fill-opacity="0.60" stroke-opacity="0.60"/>
<circle cx="208.29" cy="181.54" r="2.11" fill="#d479c0" stroke="#d479c0" stroke-width="1.03" fill-opacity="0.60" stroke-opacity="0.60"/>
<circle cx="205.71" cy="183.60" r="2.11" fill="#d479c0" stroke="#d479c0" stroke-width="1.03" fill-opacity="0.60" stroke-opacity="0.60"/>
<circle cx="204.69" cy="189.26" r="2.11" fill="#d479c0" stroke="#d479c0" stroke-width="1.03" fill-opacity="0.60" stroke-opacity="0.60"/>
<circle cx="207.26" cy="191.83" r="2.11" fill="#d479c0" stroke="#d479c0" stroke-width="1.03" fill-opacity="0.60" stroke-opacity="0.60"/>
<circle cx="209.83" cy="194.40" r="2.11" fill="#d479c0" stroke="#d479c0" stroke-width="1.03" fill-opacity="0.60" stroke-opacity="0.60"/>
<circle cx="212.40" cy="193.89" r="2.11" fill="#d479c0" stroke="#d479c0" stroke-width="1.03" fill-opacity="0.60" stroke-opacity="0.60"/>
<circle cx="221.14" cy="182.57" r="2.11" fill="#d479c0" stroke="#d479c0" stroke-width="1.03" fill-opacity="0.60" stroke-opacity="0.60"/>
<circle cx="213.43" cy="178.97" r="2.11" fill="#d479c0" stroke="#d479c0" stroke-width="1.03" fill-opacity="0.60" stroke-opacity="0.60"/>
<circle cx="215.23" cy="199.54" r="2.11" fill="#d479c0" stroke="#d479c0" stroke-width="1.03" fill-opacity="0.85" stroke-opacity="0.85"/>
<circle cx="195.43" cy="188.23" r="2.11" fill="#d479c0" stroke="#d479c0" stroke-width="1.03" fill-opacity="0.85" stroke-opacity="0.85"/>
<circle cx="223.46" cy="194.91" r="2.11" fill="#d479c0" stroke="#d479c0" stroke-width="1.03" fill-opacity="0.40" stroke-opacity="0.40"/>
<circle cx="232.97" cy="183.70" r="2.11" fill="#d479c0" stroke="#d479c0" stroke-width="1.03" fill-opacity="0.40" stroke-opacity="0.40"/>
<circle cx="225.00" cy="180.00" r="2.11" fill="#d479c0" stroke="#d479c0" stroke-width="1.03" fill-opacity="0.40" stroke-opacity="0.40"/>
<circle cx="224.23" cy="173.31" r="2.11" fill="#d479c0" stroke="#d479c0" stroke-width="1.03" fill-opacity="0.40" stroke-opacity="0.40"/>
<circle cx="254.57" cy="188.74" r="2.11" fill="#d479c0" stroke="#d479c0" stroke-width="1.03" fill-opacity="0.85" stroke-opacity="0.85"/>
<circle cx="249.69" cy="199.54" r="2.11" fill="#d479c0" stroke="#d479c0" stroke-width="1.03" fill-opacity="0.85" stroke-opacity="0.85"/>
<circle cx="245.31" cy="208.80" r="2.11" fill="#d479c0" stroke="#d479c0" stroke-width="1.03" fill-opacity="0.85" stroke-opacity="0.85"/>
<circle cx="245.83" cy="202.11" r="2.11" fill="#d479c0" stroke="#d479c0" stroke-width="1.03" fill-opacity="0.78" stroke-opacity="0.78"/>
<circle cx="247.89" cy="207.26" r="2.11" fill="#d479c0" stroke="#d479c0" stroke-width="1.03" fill-opacity="0.78" stroke-opacity="0.78"/>
<circle cx="246.86" cy="205.20" r="2.11" fill="#d479c0" stroke="#d479c0" stroke-width="1.03" fill-opacity="0.78" stroke-opacity="0.78"/>
<circle cx="248.40" cy="203.14" r="2.11" fill="#d479c0" stroke="#d479c0" stroke-width="1.03" fill-opacity="0.78" stroke-opacity="0.78"/>
<circle cx="244.29" cy="206.23" r="2.11" fill="#d479c0" stroke="#d479c0" stroke-width="1.03" fill-opacity="0.78" stroke-opacity="0.78"/>
<circle cx="234.77" cy="219.34" r="2.11" fill="#d479c0" stroke="#d479c0" stroke-width="1.03" fill-opacity="0.60" stroke-opacity="0.60"/>
<circle cx="251.38" cy="192.45" r="2.11" fill="#d479c0" stroke="#d479c0" stroke-width="1.03" fill-opacity="0.50" stroke-opacity="0.50"/>
<circle cx="252.26" cy="201.09" r="2.11" fill="#d479c0" stroke="#d479c0" stroke-width="1.03" fill-opacity="0.50" stroke-opacity="0.50"/>
<circle cx="252.00" cy="204.43" r="2.11" fill="#d479c0" stroke="#d479c0" stroke-width="1.03" fill-opacity="0.50" stroke-opacity="0.50"/>
<circle cx="249.94" cy="208.29" r="2.11" fill="#d479c0" stroke="#d479c0" stroke-width="1.03" fill-opacity="0.50" stroke-opacity="0.50"/>
<circle cx="240.94" cy="214.46" r="2.11" fill="#d479c0" stroke="#d479c0" stroke-width="1.03" fill-opacity="0.50" stroke-opacity="0.50"/>
<circle cx="239.14" cy="219.09" r="2.11" fill="#d479c0" stroke="#d479c0" stroke-width="1.03" fill-opacity="0.50" stroke-opacity="0.50"/>
<circle cx="150.99" cy="201.60" r="2.11" fill="#c7c7c7" stroke="#c7c7c7" stroke-width="1.03" fill-opacity="0.80" stroke-opacity="0.80"/>
<circle cx="171.26" cy="180.10" r="2.11" fill="#c7c7c7" stroke="#c7c7c7" stroke-width="1.03" fill-opacity="0.80" stroke-opacity="0.80"/>
<circle cx="180.00" cy="198.41" r="2.11" fill="#c7c7c7" stroke="#c7c7c7" stroke-width="1.03" fill-opacity="0.80" stroke-opacity="0.80"/>
<circle cx="190.34" cy="179.18" r="2.11" fill="#c7c7c7" stroke="#c7c7c7" stroke-width="1.03" fill-opacity="0.80" stroke-opacity="0.80"/>
<circle cx="168.43" cy="194.81" r="2.11" fill="#c7c7c7" stroke="#c7c7c7" stroke-width="1.03" fill-opacity="0.80" stroke-opacity="0.80"/>
<circle cx="156.29" cy="206.90" r="2.11" fill="#c7c7c7" stroke="#c7c7c7" stroke-width="1.03" fill-opacity="0.80" stroke-opacity="0.80"/>
<circle cx="194.04" cy="157.47" r="2.11" fill="#c7c7c7" stroke="#c7c7c7" stroke-width="1.03" fill-opacity="0.80" stroke-opacity="0.80"/>
<circle cx="196.15" cy="176.40" r="2.11" fill="#c7c7c7" stroke="#c7c7c7" stroke-width="1.03" fill-opacity="0.80" stroke-opacity="0.80"/>
<circle cx="168.02" cy="182.62" r="2.11" fill="#c7c7c7" stroke="#c7c7c7" stroke-width="1.03" fill-opacity="0.80" stroke-opacity="0.80"/>
<circle cx="190.44" cy="185.86" r="2.11" fill="#c7c7c7" stroke="#c7c7c7" stroke-width="1.03" fill-opacity="0.80" stroke-opacity="0.80"/>
<circle cx="183.91" cy="194.25" r="2.11" fill="#c7c7c7" stroke="#c7c7c7" stroke-width="1.03" fill-opacity="0.80" stroke-opacity="0.80"/>
<circle cx="195.99" cy="178.61" r="2.11" fill="#c7c7c7" stroke="#c7c7c7" stroke-width="1.03" fill-opacity="0.80" stroke-opacity="0.80"/>
<circle cx="190.03" cy="192.03" r="2.11" fill="#c7c7c7" stroke="#c7c7c7" stroke-width="1.03" fill-opacity="0.80" stroke-opacity="0.80"/>
<circle cx="160.51" cy="187.56" r="2.11" fill="#c7c7c7" stroke="#c7c7c7" stroke-width="1.03" fill-opacity="0.80" stroke-opacity="0.80"/>
<circle cx="188.18" cy="178.20" r="2.11" fill="#c7c7c7" stroke="#c7c7c7" stroke-width="1.03" fill-opacity="0.80" stroke-opacity="0.80"/>
<circle cx="182.88" cy="192.24" r="2.11" fill="#c7c7c7" stroke="#c7c7c7" stroke-width="1.03" fill-opacity="0.80" stroke-opacity="0.80"/>
<circle cx="164.47" cy="179.54" r="2.11" fill="#c7c7c7" stroke="#c7c7c7" stroke-width="1.03" fill-opacity="0.80" stroke-opacity="0.80"/>
<circle cx="171.98" cy="197.85" r="2.11" fill="#c7c7c7" stroke="#c7c7c7" stroke-width="1.03" fill-opacity="0.80" stroke-opacity="0.80"/>
<circle cx="186.69" cy="184.99" r="2.11" fill="#c7c7c7" stroke="#c7c7c7" stroke-width="1.03" fill-opacity="0.80" stroke-opacity="0.80"/>
<circle cx="191.73" cy="168.38" r="2.11" fill="#c7c7c7" stroke="#c7c7c7" stroke-width="1.03" fill-opacity="0.80" stroke-opacity="0.80"/>
<circle cx="172.29" cy="207.26" r="2.11" fill="#c7c7c7" stroke="#c7c7c7" stroke-width="1.03" fill-opacity="0.80" stroke-opacity="0.80"/>
<circle cx="175.89" cy="180.62" r="2.11" fill="#c7c7c7" stroke="#c7c7c7" stroke-width="1.03" fill-opacity="0.80" stroke-opacity="0.80"/>
<circle cx="197.13" cy="156.14" r="2.11" fill="#c7c7c7" stroke="#c7c7c7" stroke-width="1.03" fill-opacity="0.80" stroke-opacity="0.80"/>
<circle cx="188.85" cy="183.86" r="2.11" fill="#c7c7c7" stroke="#c7c7c7" stroke-width="1.03" fill-opacity="0.80" stroke-opacity="0.80"/>
<circle cx="146.62" cy="202.83" r="2.11" fill="#c7c7c7" stroke="#c7c7c7" stroke-width="1.03" fill-opacity="0.80" stroke-opacity="0.80"/>
<circle cx="157.78" cy="201.29" r="2.11" fill="#c7c7c7" stroke="#c7c7c7" stroke-width="1.03" fill-opacity="0.80" stroke-opacity="0.80"/>
<circle cx="183.39" cy="180.36" r="2.11" fill="#c7c7c7" stroke="#c7c7c7" stroke-width="1.03" fill-opacity="0.80" stroke-opacity="0.80"/>
<circle cx="161.54" cy="181.39" r="2.11" fill="#c7c7c7" stroke="#c7c7c7" stroke-width="1.03" fill-opacity="0.80" stroke-opacity="0.80"/>
<circle cx="149.61" cy="204.43" r="2.11" fill="#c7c7c7" stroke="#c7c7c7" stroke-width="1.03" fill-opacity="0.80" stroke-opacity="0.80"/>
<circle cx="177.43" cy="199.95" r="2.11" fill="#c7c7c7" stroke="#c7c7c7" stroke-width="1.03" fill-opacity="0.80" stroke-opacity="0.80"/>
<circle cx="151.71" cy="194.66" r="2.11" fill="#c7c7c7" stroke="#c7c7c7" stroke-width="1.03" fill-opacity="0.80" stroke-opacity="0.80"/>
<circle cx="181.49" cy="185.25" r="2.11" fill="#c7c7c7" stroke="#c7c7c7" stroke-width="1.03" fill-opacity="0.80" stroke-opacity="0.80"/>
<circle cx="155.98" cy="190.85" r="2.11" fill="#c7c7c7" stroke="#c7c7c7" stroke-width="1.03" fill-opacity="0.80" stroke-opacity="0.80"/>
<circle cx="161.49" cy="189.87" r="2.11" fill="#c7c7c7" stroke="#c7c7c7" stroke-width="1.03" fill-opacity="0.80" stroke-opacity="0.80"/>
<circle cx="160.66" cy="202.17" r="2.11" fill="#c7c7c7" stroke="#c7c7c7" stroke-width="1.03" fill-opacity="0.80" stroke-opacity="0.80"/>
<circle cx="160.87" cy="206.54" r="2.11" fill="#c7c7c7" stroke="#c7c7c7" stroke-width="1.03" fill-opacity="0.80" stroke-opacity="0.80"/>
<circle cx="185.19" cy="178.30" r="2.11" fill="#c7c7c7" stroke="#c7c7c7" stroke-width="1.03" fill-opacity="0.80" stroke-opacity="0.80"/>
<circle cx="182.93" cy="183.29" r="2.11" fill="#c7c7c7" stroke="#c7c7c7" stroke-width="1.03" fill-opacity="0.80" stroke-opacity="0.80"/>
<circle cx="181.29" cy="201.09" r="2.11" fill="#c7c7c7" stroke="#c7c7c7" stroke-width="1.03" fill-opacity="0.80" stroke-opacity="0.80"/>
<circle cx="192.96" cy="192.91" r="2.11" fill="#c7c7c7" stroke="#c7c7c7" stroke-width="1.03" fill-opacity="0.80" stroke-opacity="0.80"/>
<circle cx="156.65" cy="195.02" r="2.11" fill="#c7c7c7" stroke="#c7c7c7" stroke-width="1.03" fill-opacity="0.80" stroke-opacity="0.80"/>
<circle cx="194.55" cy="167.35" r="2.11" fill="#c7c7c7" stroke="#c7c7c7" stroke-width="1.03" fill-opacity="0.80" stroke-opacity="0.80"/>
<circle cx="186.02" cy="188.23" r="2.11" fill="#c7c7c7" stroke="#c7c7c7" stroke-width="1.03" fill-opacity="0.80" stroke-opacity="0.80"/>
<circle cx="190.65" cy="175.73" r="2.11" fill="#c7c7c7" stroke="#c7c7c7" stroke-width="1.03" fill-opacity="0.80" stroke-opacity="0.80"/>
<circle cx="192.09" cy="188.43" r="2.11" fill="#c7c7c7" stroke="#c7c7c7" stroke-width="1.03" fill-opacity="0.80" stroke-opacity="0.80"/>
<circle cx="193.42" cy="186.33" r="2.11" fill="#c7c7c7" stroke="#c7c7c7" stroke-width="1.03" fill-opacity="0.80" stroke-opacity="0.80"/>
<circle cx="159.02" cy="198.31" r="2.11" fill="#c7c7c7" stroke="#c7c7c7" stroke-width="1.03" fill-opacity="0.80" stroke-opacity="0.80"/>
<circle cx="194.45" cy="171.72" r="2.11" fill="#c7c7c7" stroke="#c7c7c7" stroke-width="1.03" fill-opacity="0.80" stroke-opacity="0.80"/>
<circle cx="197.85" cy="161.85" r="2.11" fill="#c7c7c7" stroke="#c7c7c7" stroke-width="1.03" fill-opacity="0.80" stroke-opacity="0.80"/>
<circle cx="198.41" cy="185.14" r="2.11" fill="#c7c7c7" stroke="#c7c7c7" stroke-width="1.03" fill-opacity="0.80" stroke-opacity="0.80"/>
<circle cx="198.62" cy="180.00" r="2.11" fill="#c7c7c7" stroke="#c7c7c7" stroke-width="1.03" fill-opacity="0.80" stroke-opacity="0.80"/>
<circle cx="180.05" cy="190.59" r="2.11" fill="#c7c7c7" stroke="#c7c7c7" stroke-width="1.03" fill-opacity="0.80" stroke-opacity="0.80"/>
<circle cx="171.15" cy="202.42" r="2.11" fill="#c7c7c7" stroke="#c7c7c7" stroke-width="1.03" fill-opacity="0.80" stroke-opacity="0.80"/>
<circle cx="196.71" cy="165.19" r="2.11" fill="#c7c7c7" stroke="#c7c7c7" stroke-width="1.03" fill-opacity="0.80" stroke-opacity="0.80"/>
<circle cx="189.51" cy="173.11" r="2.11" fill="#c7c7c7" stroke="#c7c7c7" stroke-width="1.03" fill-opacity="0.80" stroke-opacity="0.80"/>
<circle cx="193.58" cy="163.49" r="2.11" fill="#c7c7c7" stroke="#c7c7c7" stroke-width="1.03" fill-opacity="0.80" stroke-opacity="0.80"/>
<circle cx="190.59" cy="196.10" r="2.11" fill="#c7c7c7" stroke="#c7c7c7" stroke-width="1.03" fill-opacity="0.80" stroke-opacity="0.80"/>
<circle cx="179.74" cy="178.35" r="2.11" fill="#c7c7c7" stroke="#c7c7c7" stroke-width="1.03" fill-opacity="0.80" stroke-opacity="0.80"/>
<circle cx="173.11" cy="182.88" r="2.11" fill="#c7c7c7" stroke="#c7c7c7" stroke-width="1.03" fill-opacity="0.80" stroke-opacity="0.80"/>
<circle cx="181.95" cy="195.33" r="2.11" fill="#c7c7c7" stroke="#c7c7c7" stroke-width="1.03" fill-opacity="0.80" stroke-opacity="0.80"/>
<circle cx="158.91" cy="190.75" r="2.11" fill="#c7c7c7" stroke="#c7c7c7" stroke-width="1.03" fill-opacity="0.80" stroke-opacity="0.80"/>
<circle cx="152.43" cy="197.18" r="2.11" fill="#c7c7c7" stroke="#c7c7c7" stroke-width="1.03" fill-opacity="0.80" stroke-opacity="0.80"/>
<circle cx="164.31" cy="193.68" r="2.11" fill="#c7c7c7" stroke="#c7c7c7" stroke-width="1.03" fill-opacity="0.80" stroke-opacity="0.80"/>
<circle cx="188.79" cy="189.77" r="2.11" fill="#c7c7c7" stroke="#c7c7c7" stroke-width="1.03" fill-opacity="0.80" stroke-opacity="0.80"/>
<circle cx="158.50" cy="205.15" r="2.11" fill="#c7c7c7" stroke="#c7c7c7" stroke-width="1.03" fill-opacity="0.80" stroke-opacity="0.80"/>
<circle cx="180.46" cy="193.63" r="2.11" fill="#c7c7c7" stroke="#c7c7c7" stroke-width="1.03" fill-opacity="0.80" stroke-opacity="0.80"/>
<circle cx="168.43" cy="205.77" r="2.11" fill="#c7c7c7" stroke="#c7c7c7" stroke-width="1.03" fill-opacity="0.80" stroke-opacity="0.80"/>
<circle cx="178.66" cy="188.54" r="2.11" fill="#c7c7c7" stroke="#c7c7c7" stroke-width="1.03" fill-opacity="0.80" stroke-opacity="0.80"/>
<circle cx="159.43" cy="185.09" r="2.11" fill="#c7c7c7" stroke="#c7c7c7" stroke-width="1.03" fill-opacity="0.80" stroke-opacity="0.80"/>
<circle cx="157.53" cy="192.75" r="2.11" fill="#c7c7c7" stroke="#c7c7c7" stroke-width="1.03" fill-opacity="0.80" stroke-opacity="0.80"/>
<circle cx="187.82" cy="199.49" r="2.11" fill="#c7c7c7" stroke="#c7c7c7" stroke-width="1.03" fill-opacity="0.80" stroke-opacity="0.80"/>
<circle cx="149.55" cy="199.44" r="2.11" fill="#c7c7c7" stroke="#c7c7c7" stroke-width="1.03" fill-opacity="0.80" stroke-opacity="0.80"/>
<circle cx="150.12" cy="196.20" r="2.11" fill="#c7c7c7" stroke="#c7c7c7" stroke-width="1.03" fill-opacity="0.80" stroke-opacity="0.80"/>
<circle cx="168.27" cy="180.10" r="2.11" fill="#c7c7c7" stroke="#c7c7c7" stroke-width="1.03" fill-opacity="0.80" stroke-opacity="0.80"/>
<circle cx="187.41" cy="192.75" r="2.11" fill="#c7c7c7" stroke="#c7c7c7" stroke-width="1.03" fill-opacity="0.80" stroke-opacity="0.80"/>
<circle cx="171.10" cy="190.80" r="2.11" fill="#c7c7c7" stroke="#c7c7c7" stroke-width="1.03" fill-opacity="0.80" stroke-opacity="0.80"/>
<circle cx="177.02" cy="203.45" r="2.11" fill="#c7c7c7" stroke="#c7c7c7" stroke-width="1.03" fill-opacity="0.80" stroke-opacity="0.80"/>
<circle cx="178.25" cy="184.53" r="2.11" fill="#c7c7c7" stroke="#c7c7c7" stroke-width="1.03" fill-opacity="0.80" stroke-opacity="0.80"/>
<circle cx="166.22" cy="202.32" r="2.11" fill="#c7c7c7" stroke="#c7c7c7" stroke-width="1.03" fill-opacity="0.80" stroke-opacity="0.80"/>
<circle cx="176.25" cy="195.48" r="2.11" fill="#c7c7c7" stroke="#c7c7c7" stroke-width="1.03" fill-opacity="0.80" stroke-opacity="0.80"/>
<circle cx="183.19" cy="203.04" r="2.11" fill="#c7c7c7" stroke="#c7c7c7" stroke-width="1.03" fill-opacity="0.80" stroke-opacity="0.80"/>
<circle cx="190.18" cy="182.01" r="2.11" fill="#c7c7c7" stroke="#c7c7c7" stroke-width="1.03" fill-opacity="0.80" stroke-opacity="0.80"/>
<circle cx="182.21" cy="177.53" r="2.11" fill="#c7c7c7" stroke="#c7c7c7" stroke-width="1.03" fill-opacity="0.80" stroke-opacity="0.80"/>
<circle cx="182.11" cy="188.49" r="2.11" fill="#c7c7c7" stroke="#c7c7c7" stroke-width="1.03" fill-opacity="0.80" stroke-opacity="0.80"/>
<circle cx="147.70" cy="200.67" r="2.11" fill="#c7c7c7" stroke="#c7c7c7" stroke-width="1.03" fill-opacity="0.80" stroke-opacity="0.80"/>
<circle cx="172.18" cy="195.63" r="2.11" fill="#c7c7c7" stroke="#c7c7c7" stroke-width="1.03" fill-opacity="0.80" stroke-opacity="0.80"/>
<circle cx="152.95" cy="191.11" r="2.11" fill="#c7c7c7" stroke="#c7c7c7" stroke-width="1.03" fill-opacity="0.80" stroke-opacity="0.80"/>
<circle cx="183.50" cy="199.85" r="2.11" fill="#c7c7c7" stroke="#c7c7c7" stroke-width="1.03" fill-opacity="0.80" stroke-opacity="0.80"/>
<circle cx="192.09" cy="173.62" r="2.11" fill="#c7c7c7" stroke="#c7c7c7" stroke-width="1.03" fill-opacity="0.80" stroke-opacity="0.80"/>
<circle cx="167.71" cy="196.97" r="2.11" fill="#c7c7c7" stroke="#c7c7c7" stroke-width="1.03" fill-opacity="0.80" stroke-opacity="0.80"/>
<circle cx="187.51" cy="166.06" r="2.11" fill="#c7c7c7" stroke="#c7c7c7" stroke-width="1.03" fill-opacity="0.80" stroke-opacity="0.80"/>
<circle cx="163.75" cy="196.41" r="2.11" fill="#c7c7c7" stroke="#c7c7c7" stroke-width="1.03" fill-opacity="0.80" stroke-opacity="0.80"/>
<circle cx="197.54" cy="188.95" r="2.11" fill="#c7c7c7" stroke="#c7c7c7" stroke-width="1.03" fill-opacity="0.80" stroke-opacity="0.80"/>
<circle cx="162.67" cy="201.09" r="2.11" fill="#c7c7c7" stroke="#c7c7c7" stroke-width="1.03" fill-opacity="0.80" stroke-opacity="0.80"/>
<circle cx="175.99" cy="205.46" r="2.11" fill="#c7c7c7" stroke="#c7c7c7" stroke-width="1.03" fill-opacity="0.80" stroke-opacity="0.80"/>
<circle cx="186.02" cy="164.06" r="2.11" fill="#c7c7c7" stroke="#c7c7c7" stroke-width="1.03" fill-opacity="0.80" stroke-opacity="0.80"/>
<circle cx="179.23" cy="196.05" r="2.11" fill="#c7c7c7" stroke="#c7c7c7" stroke-width="1.03" fill-opacity="0.80" stroke-opacity="0.80"/>
<circle cx="154.65" cy="203.35" r="2.11" fill="#c7c7c7" stroke="#c7c7c7" stroke-width="1.03" fill-opacity="0.80" stroke-opacity="0.80"/>
<circle cx="167.25" cy="191.62" r="2.11" fill="#c7c7c7" stroke="#c7c7c7" stroke-width="1.03" fill-opacity="0.80" stroke-opacity="0.80"/>
<circle cx="183.91" cy="196.46" r="2.11" fill="#c7c7c7" stroke="#c7c7c7" stroke-width="1.03" fill-opacity="0.80" stroke-opacity="0.80"/>
<circle cx="151.97" cy="205.46" r="2.11" fill="#c7c7c7" stroke="#c7c7c7" stroke-width="1.03" fill-opacity="0.80" stroke-opacity="0.80"/>
<circle cx="173.52" cy="204.27" r="2.11" fill="#c7c7c7" stroke="#c7c7c7" stroke-width="1.03" fill-opacity="0.80" stroke-opacity="0.80"/>
<circle cx="162.82" cy="186.89" r="2.11" fill="#c7c7c7" stroke="#c7c7c7" stroke-width="1.03" fill-opacity="0.80" stroke-opacity="0.80"/>
<circle cx="185.35" cy="175.37" r="2.11" fill="#c7c7c7" stroke="#c7c7c7" stroke-width="1.03" fill-opacity="0.80" stroke-opacity="0.80"/>
<circle cx="193.53" cy="178.82" r="2.11" fill="#c7c7c7" stroke="#c7c7c7" stroke-width="1.03" fill-opacity="0.80" stroke-opacity="0.80"/>
<circle cx="166.01" cy="206.38" r="2.11" fill="#c7c7c7" stroke="#c7c7c7" stroke-width="1.03" fill-opacity="0.80" stroke-opacity="0.80"/>
<circle cx="169.51" cy="198.82" r="2.11" fill="#c7c7c7" stroke="#c7c7c7" stroke-width="1.03" fill-opacity="0.80" stroke-opacity="0.80"/>
<circle cx="187.05" cy="182.06" r="2.11" fill="#c7c7c7" stroke="#c7c7c7" stroke-width="1.03" fill-opacity="0.80" stroke-opacity="0.80"/>
<circle cx="190.23" cy="160.66" r="2.11" fill="#c7c7c7" stroke="#c7c7c7" stroke-width="1.03" fill-opacity="0.80" stroke-opacity="0.80"/>
<circle cx="174.50" cy="178.51" r="2.11" fill="#c7c7c7" stroke="#c7c7c7" stroke-width="1.03" fill-opacity="0.80" stroke-opacity="0.80"/>
<circle cx="154.44" cy="186.12" r="2.11" fill="#c7c7c7" stroke="#c7c7c7" stroke-width="1.03" fill-opacity="0.80" stroke-opacity="0.80"/>
<circle cx="193.83" cy="189.98" r="2.11" fill="#c7c7c7" stroke="#c7c7c7" stroke-width="1.03" fill-opacity="0.80" stroke-opacity="0.80"/>
<circle cx="174.03" cy="201.39" r="2.11" fill="#c7c7c7" stroke="#c7c7c7" stroke-width="1.03" fill-opacity="0.80" stroke-opacity="0.80"/>
<circle cx="162.31" cy="203.81" r="2.11" fill="#c7c7c7" stroke="#c7c7c7" stroke-width="1.03" fill-opacity="0.80" stroke-opacity="0.80"/>
<circle cx="181.23" cy="203.97" r="2.11" fill="#c7c7c7" stroke="#c7c7c7" stroke-width="1.03" fill-opacity="0.80" stroke-opacity="0.80"/>
<circle cx="186.84" cy="194.86" r="2.11" fill="#c7c7c7" stroke="#c7c7c7" stroke-width="1.03" fill-opacity="0.80" stroke-opacity="0.80"/>
<circle cx="152.23" cy="208.34" r="2.11" fill="#c7c7c7" stroke="#c7c7c7" stroke-width="1.03" fill-opacity="0.80" stroke-opacity="0.80"/>
<circle cx="176.30" cy="183.55" r="2.11" fill="#c7c7c7" stroke="#c7c7c7" stroke-width="1.03" fill-opacity="0.80" stroke-opacity="0.80"/>
<circle cx="150.17" cy="190.59" r="2.11" fill="#c7c7c7" stroke="#c7c7c7" stroke-width="1.03" fill-opacity="0.80" stroke-opacity="0.80"/>
<circle cx="165.19" cy="186.07" r="2.11" fill="#c7c7c7" stroke="#c7c7c7" stroke-width="1.03" fill-opacity="0.80" stroke-opacity="0.80"/>
<circle cx="179.43" cy="181.70" r="2.11" fill="#c7c7c7" stroke="#c7c7c7" stroke-width="1.03" fill-opacity="0.80" stroke-opacity="0.80"/>
<circle cx="154.75" cy="199.95" r="2.11" fill="#c7c7c7" stroke="#c7c7c7" stroke-width="1.03" fill-opacity="0.80" stroke-opacity="0.80"/>
<circle cx="175.89" cy="185.76" r="2.11" fill="#c7c7c7" stroke="#c7c7c7" stroke-width="1.03" fill-opacity="0.80" stroke-opacity="0.80"/>
<circle cx="194.40" cy="160.92" r="2.11" fill="#c7c7c7" stroke="#c7c7c7" stroke-width="1.03" fill-opacity="0.80" stroke-opacity="0.80"/>
<circle cx="194.25" cy="181.23" r="2.11" fill="#c7c7c7" stroke="#c7c7c7" stroke-width="1.03" fill-opacity="0.80" stroke-opacity="0.80"/>
<circle cx="195.89" cy="185.66" r="2.11" fill="#c7c7c7" stroke="#c7c7c7" stroke-width="1.03" fill-opacity="0.80" stroke-opacity="0.80"/>
<circle cx="187.82" cy="186.89" r="2.11" fill="#c7c7c7" stroke="#c7c7c7" stroke-width="1.03" fill-opacity="0.80" stroke-opacity="0.80"/>
<circle cx="162.36" cy="175.73" r="2.11" fill="#c7c7c7" stroke="#c7c7c7" stroke-width="1.03" fill-opacity="0.80" stroke-opacity="0.80"/>
<circle cx="179.02" cy="201.55" r="2.11" fill="#c7c7c7" stroke="#c7c7c7" stroke-width="1.03" fill-opacity="0.80" stroke-opacity="0.80"/>
<circle cx="158.35" cy="208.18" r="2.11" fill="#c7c7c7" stroke="#c7c7c7" stroke-width="1.03" fill-opacity="0.80" stroke-opacity="0.80"/>
<circle cx="159.33" cy="195.02" r="2.11" fill="#c7c7c7" stroke="#c7c7c7" stroke-width="1.03" fill-opacity="0.80" stroke-opacity="0.80"/>
<circle cx="161.18" cy="196.30" r="2.11" fill="#c7c7c7" stroke="#c7c7c7" stroke-width="1.03" fill-opacity="0.80" stroke-opacity="0.80"/>
<circle cx="176.45" cy="191.67" r="2.11" fill="#c7c7c7" stroke="#c7c7c7" stroke-width="1.03" fill-opacity="0.80" stroke-opacity="0.80"/>
<circle cx="183.14" cy="174.39" r="2.11" fill="#c7c7c7" stroke="#c7c7c7" stroke-width="1.03" fill-opacity="0.80" stroke-opacity="0.80"/>
<circle cx="175.06" cy="199.34" r="2.11" fill="#c7c7c7" stroke="#c7c7c7" stroke-width="1.03" fill-opacity="0.80" stroke-opacity="0.80"/>
<circle cx="192.50" cy="183.55" r="2.11" fill="#c7c7c7" stroke="#c7c7c7" stroke-width="1.03" fill-opacity="0.80" stroke-opacity="0.80"/>
<circle cx="180.82" cy="174.29" r="2.11" fill="#c7c7c7" stroke="#c7c7c7" stroke-width="1.03" fill-opacity="0.80" stroke-opacity="0.80"/>
<circle cx="150.22" cy="207.05" r="2.11" fill="#c7c7c7" stroke="#c7c7c7" stroke-width="1.03" fill-opacity="0.80" stroke-opacity="0.80"/>
<circle cx="155.01" cy="197.02" r="2.11" fill="#c7c7c7" stroke="#c7c7c7" stroke-width="1.03" fill-opacity="0.80" stroke-opacity="0.80"/>
<circle cx="163.49" cy="191.16" r="2.11" fill="#c7c7c7" stroke="#c7c7c7" stroke-width="1.03" fill-opacity="0.80" stroke-opacity="0.80"/>
<circle cx="199.08" cy="173.62" r="2.11" fill="#c7c7c7" stroke="#c7c7c7" stroke-width="1.03" fill-opacity="0.80" stroke-opacity="0.80"/>
<circle cx="169.15" cy="185.66" r="2.11" fill="#c7c7c7" stroke="#c7c7c7" stroke-width="1.03" fill-opacity="0.80" stroke-opacity="0.80"/>
<circle cx="168.27" cy="200.93" r="2.11" fill="#c7c7c7" stroke="#c7c7c7" stroke-width="1.03" fill-opacity="0.80" stroke-opacity="0.80"/>
<circle cx="168.94" cy="203.19" r="2.11" fill="#c7c7c7" stroke="#c7c7c7" stroke-width="1.03" fill-opacity="0.80" stroke-opacity="0.80"/>
<circle cx="173.67" cy="192.24" r="2.11" fill="#c7c7c7" stroke="#c7c7c7" stroke-width="1.03" fill-opacity="0.80" stroke-opacity="0.80"/>
<circle cx="189.82" cy="169.82" r="2.11" fill="#c7c7c7" stroke="#c7c7c7" stroke-width="1.03" fill-opacity="0.80" stroke-opacity="0.80"/>
<circle cx="191.47" cy="165.09" r="2.11" fill="#c7c7c7" stroke="#c7c7c7" stroke-width="1.03" fill-opacity="0.80" stroke-opacity="0.80"/>
<circle cx="157.47" cy="188.38" r="2.11" fill="#c7c7c7" stroke="#c7c7c7" stroke-width="1.03" fill-opacity="0.80" stroke-opacity="0.80"/>
<circle cx="178.41" cy="192.86" r="2.11" fill="#c7c7c7" stroke="#c7c7c7" stroke-width="1.03" fill-opacity="0.80" stroke-opacity="0.80"/>
<circle cx="192.75" cy="159.33" r="2.11" fill="#c7c7c7" stroke="#c7c7c7" stroke-width="1.03" fill-opacity="0.80" stroke-opacity="0.80"/>
<circle cx="190.80" cy="162.82" r="2.11" fill="#c7c7c7" stroke="#c7c7c7" stroke-width="1.03" fill-opacity="0.80" stroke-opacity="0.80"/>
<circle cx="197.69" cy="159.48" r="2.11" fill="#c7c7c7" stroke="#c7c7c7" stroke-width="1.03" fill-opacity="0.80" stroke-opacity="0.80"/>
<circle cx="161.02" cy="192.86" r="2.11" fill="#c7c7c7" stroke="#c7c7c7" stroke-width="1.03" fill-opacity="0.80" stroke-opacity="0.80"/>
<circle cx="184.01" cy="187.30" r="2.11" fill="#c7c7c7" stroke="#c7c7c7" stroke-width="1.03" fill-opacity="0.80" stroke-opacity="0.80"/>
<circle cx="187.87" cy="171.46" r="2.11" fill="#c7c7c7" stroke="#c7c7c7" stroke-width="1.03" fill-opacity="0.80" stroke-opacity="0.80"/>
<circle cx="147.55" cy="197.95" r="2.11" fill="#c7c7c7" stroke="#c7c7c7" stroke-width="1.03" fill-opacity="0.80" stroke-opacity="0.80"/>
<circle cx="164.06" cy="188.69" r="2.11" fill="#c7c7c7" stroke="#c7c7c7" stroke-width="1.03" fill-opacity="0.80" stroke-opacity="0.80"/>
<circle cx="195.48" cy="187.92" r="2.11" fill="#c7c7c7" stroke="#c7c7c7" stroke-width="1.03" fill-opacity="0.80" stroke-opacity="0.80"/>
<circle cx="171.72" cy="193.22" r="2.11" fill="#c7c7c7" stroke="#c7c7c7" stroke-width="1.03" fill-opacity="0.80" stroke-opacity="0.80"/>
<circle cx="188.13" cy="196.82" r="2.11" fill="#c7c7c7" stroke="#c7c7c7" stroke-width="1.03" fill-opacity="0.80" stroke-opacity="0.80"/>
<circle cx="199.08" cy="166.78" r="2.11" fill="#c7c7c7" stroke="#c7c7c7" stroke-width="1.03" fill-opacity="0.80" stroke-opacity="0.80"/>
<circle cx="164.78" cy="198.87" r="2.11" fill="#c7c7c7" stroke="#c7c7c7" stroke-width="1.03" fill-opacity="0.80" stroke-opacity="0.80"/>
<circle cx="164.98" cy="182.78" r="2.11" fill="#c7c7c7" stroke="#c7c7c7" stroke-width="1.03" fill-opacity="0.80" stroke-opacity="0.80"/>
<circle cx="158.97" cy="182.37" r="2.11" fill="#c7c7c7" stroke="#c7c7c7" stroke-width="1.03" fill-opacity="0.80" stroke-opacity="0.80"/>
<circle cx="171.05" cy="183.60" r="2.11" fill="#c7c7c7" stroke="#c7c7c7" stroke-width="1.03" fill-opacity="0.80" stroke-opacity="0.80"/>
<circle cx="183.96" cy="205.30" r="2.11" fill="#c7c7c7" stroke="#c7c7c7" stroke-width="1.03" fill-opacity="0.80" stroke-opacity="0.80"/>
<circle cx="185.45" cy="198.26" r="2.11" fill="#c7c7c7" stroke="#c7c7c7" stroke-width="1.03" fill-opacity="0.80" stroke-opacity="0.80"/>
<circle cx="187.46" cy="175.83" r="2.11" fill="#c7c7c7" stroke="#c7c7c7" stroke-width="1.03" fill-opacity="0.80" stroke-opacity="0.80"/>
<circle cx="185.66" cy="190.39" r="2.11" fill="#c7c7c7" stroke="#c7c7c7" stroke-width="1.03" fill-opacity="0.80" stroke-opacity="0.80"/>
<circle cx="193.11" cy="175.94" r="2.11" fill="#c7c7c7" stroke="#c7c7c7" stroke-width="1.03" fill-opacity="0.80" stroke-opacity="0.80"/>
<circle cx="196.41" cy="182.11" r="2.11" fill="#c7c7c7" stroke="#c7c7c7" stroke-width="1.03" fill-opacity="0.80" stroke-opacity="0.80"/>
<circle cx="166.17" cy="177.79" r="2.11" fill="#c7c7c7" stroke="#c7c7c7" stroke-width="1.03" fill-opacity="0.80" stroke-opacity="0.80"/>
<circle cx="163.85" cy="206.38" r="2.11" fill="#c7c7c7" stroke="#c7c7c7" stroke-width="1.03" fill-opacity="0.80" stroke-opacity="0.80"/>
<circle cx="174.39" cy="196.66" r="2.11" fill="#c7c7c7" stroke="#c7c7c7" stroke-width="1.03" fill-opacity="0.80" stroke-opacity="0.80"/>
<circle cx="153.98" cy="206.74" r="2.11" fill="#c7c7c7" stroke="#c7c7c7" stroke-width="1.03" fill-opacity="0.80" stroke-opacity="0.80"/>
<circle cx="194.86" cy="174.29" r="2.11" fill="#c7c7c7" stroke="#c7c7c7" stroke-width="1.03" fill-opacity="0.80" stroke-opacity="0.80"/>
<circle cx="164.52" cy="204.33" r="2.11" fill="#c7c7c7" stroke="#c7c7c7" stroke-width="1.03" fill-opacity="0.80" stroke-opacity="0.80"/>
<circle cx="170.23" cy="178.05" r="2.11" fill="#c7c7c7" stroke="#c7c7c7" stroke-width="1.03" fill-opacity="0.80" stroke-opacity="0.80"/>
<circle cx="198.93" cy="163.90" r="2.11" fill="#c7c7c7" stroke="#c7c7c7" stroke-width="1.03" fill-opacity="0.80" stroke-opacity="0.80"/>
<circle cx="171.41" cy="199.95" r="2.11" fill="#c7c7c7" stroke="#c7c7c7" stroke-width="1.03" fill-opacity="0.80" stroke-opacity="0.80"/>
<circle cx="170.85" cy="187.92" r="2.11" fill="#c7c7c7" stroke="#c7c7c7" stroke-width="1.03" fill-opacity="0.80" stroke-opacity="0.80"/>
<circle cx="191.21" cy="171.57" r="2.11" fill="#c7c7c7" stroke="#c7c7c7" stroke-width="1.03" fill-opacity="0.80" stroke-opacity="0.80"/>
<circle cx="169.56" cy="192.50" r="2.11" fill="#c7c7c7" stroke="#c7c7c7" stroke-width="1.03" fill-opacity="0.80" stroke-opacity="0.80"/>
<circle cx="162.41" cy="198.46" r="2.11" fill="#c7c7c7" stroke="#c7c7c7" stroke-width="1.03" fill-opacity="0.80" stroke-opacity="0.80"/>
<circle cx="170.90" cy="204.63" r="2.11" fill="#c7c7c7" stroke="#c7c7c7" stroke-width="1.03" fill-opacity="0.80" stroke-opacity="0.80"/>
<circle cx="151.66" cy="187.82" r="2.11" fill="#c7c7c7" stroke="#c7c7c7" stroke-width="1.03" fill-opacity="0.80" stroke-opacity="0.80"/>
<circle cx="196.15" cy="190.85" r="2.11" fill="#c7c7c7" stroke="#c7c7c7" stroke-width="1.03" fill-opacity="0.80" stroke-opacity="0.80"/>
<circle cx="176.30" cy="189.46" r="2.11" fill="#c7c7c7" stroke="#c7c7c7" stroke-width="1.03" fill-opacity="0.80" stroke-opacity="0.80"/>
<circle cx="182.11" cy="197.69" r="2.11" fill="#c7c7c7" stroke="#c7c7c7" stroke-width="1.03" fill-opacity="0.80" stroke-opacity="0.80"/>
<circle cx="193.63" cy="169.56" r="2.11" fill="#c7c7c7" stroke="#c7c7c7" stroke-width="1.03" fill-opacity="0.80" stroke-opacity="0.80"/>
<circle cx="160.92" cy="208.95" r="2.11" fill="#c7c7c7" stroke="#c7c7c7" stroke-width="1.03" fill-opacity="0.80" stroke-opacity="0.80"/>
<circle cx="180.87" cy="171.57" r="2.11" fill="#c7c7c7" stroke="#c7c7c7" stroke-width="1.03" fill-opacity="0.80" stroke-opacity="0.80"/>
<circle cx="188.59" cy="164.01" r="2.11" fill="#c7c7c7" stroke="#c7c7c7" stroke-width="1.03" fill-opacity="0.80" stroke-opacity="0.80"/>
<circle cx="179.49" cy="186.38" r="2.11" fill="#c7c7c7" stroke="#c7c7c7" stroke-width="1.03" fill-opacity="0.80" stroke-opacity="0.80"/>
<circle cx="184.47" cy="166.01" r="2.11" fill="#c7c7c7" stroke="#c7c7c7" stroke-width="1.03" fill-opacity="0.80" stroke-opacity="0.80"/>
<circle cx="147.75" cy="205.61" r="2.11" fill="#c7c7c7" stroke="#c7c7c7" stroke-width="1.03" fill-opacity="0.80" stroke-opacity="0.80"/>
<circle cx="156.60" cy="209.52" r="2.11" fill="#c7c7c7" stroke="#c7c7c7" stroke-width="1.03" fill-opacity="0.80" stroke-opacity="0.80"/>
<circle cx="192.70" cy="197.64" r="2.11" fill="#c7c7c7" stroke="#c7c7c7" stroke-width="1.03" fill-opacity="0.80" stroke-opacity="0.80"/>
<circle cx="184.37" cy="185.14" r="2.11" fill="#c7c7c7" stroke="#c7c7c7" stroke-width="1.03" fill-opacity="0.80" stroke-opacity="0.80"/>
<circle cx="189.67" cy="166.37" r="2.11" fill="#c7c7c7" stroke="#c7c7c7" stroke-width="1.03" fill-opacity="0.80" stroke-opacity="0.80"/>
<circle cx="152.49" cy="199.85" r="2.11" fill="#c7c7c7" stroke="#c7c7c7" stroke-width="1.03" fill-opacity="0.80" stroke-opacity="0.80"/>
<circle cx="156.91" cy="198.67" r="2.11" fill="#c7c7c7" stroke="#c7c7c7" stroke-width="1.03" fill-opacity="0.80" stroke-opacity="0.80"/>
<circle cx="176.97" cy="197.74" r="2.11" fill="#c7c7c7" stroke="#c7c7c7" stroke-width="1.03" fill-opacity="0.80" stroke-opacity="0.80"/>
<circle cx="165.75" cy="195.48" r="2.11" fill="#c7c7c7" stroke="#c7c7c7" stroke-width="1.03" fill-opacity="0.80" stroke-opacity="0.80"/>
<circle cx="192.19" cy="180.57" r="2.11" fill="#c7c7c7" stroke="#c7c7c7" stroke-width="1.03" fill-opacity="0.80" stroke-opacity="0.80"/>
<circle cx="196.87" cy="172.90" r="2.11" fill="#c7c7c7" stroke="#c7c7c7" stroke-width="1.03" fill-opacity="0.80" stroke-opacity="0.80"/>
<circle cx="186.99" cy="173.73" r="2.11" fill="#c7c7c7" stroke="#c7c7c7" stroke-width="1.03" fill-opacity="0.80" stroke-opacity="0.80"/>
<circle cx="144.72" cy="201.50" r="2.11" fill="#c7c7c7" stroke="#c7c7c7" stroke-width="1.03" fill-opacity="0.80" stroke-opacity="0.80"/>
<circle cx="166.94" cy="184.58" r="2.11" fill="#c7c7c7" stroke="#c7c7c7" stroke-width="1.03" fill-opacity="0.80" stroke-opacity="0.80"/>
<circle cx="194.81" cy="183.75" r="2.11" fill="#c7c7c7" stroke="#c7c7c7" stroke-width="1.03" fill-opacity="0.80" stroke-opacity="0.80"/>
<circle cx="152.74" cy="193.06" r="2.11" fill="#c7c7c7" stroke="#c7c7c7" stroke-width="1.03" fill-opacity="0.60" stroke-opacity="0.60"/>
<circle cx="179.07" cy="181.70" r="2.11" fill="#c7c7c7" stroke="#c7c7c7" stroke-width="1.03" fill-opacity="0.60" stroke-opacity="0.60"/>
<circle cx="155.57" cy="198.62" r="2.11" fill="#c7c7c7" stroke="#c7c7c7" stroke-width="1.03" fill-opacity="0.60" stroke-opacity="0.60"/>
<circle cx="188.79" cy="183.50" r="2.11" fill="#c7c7c7" stroke="#c7c7c7" stroke-width="1.03" fill-opacity="0.60" stroke-opacity="0.60"/>
<circle cx="187.97" cy="168.38" r="2.11" fill="#c7c7c7" stroke="#c7c7c7" stroke-width="1.03" fill-opacity="0.60" stroke-opacity="0.60"/>
<circle cx="192.55" cy="189.10" r="2.11" fill="#c7c7c7" stroke="#c7c7c7" stroke-width="1.03" fill-opacity="0.60" stroke-opacity="0.60"/>
<circle cx="196.87" cy="175.73" r="2.11" fill="#c7c7c7" stroke="#c7c7c7" stroke-width="1.03" fill-opacity="0.60" stroke-opacity="0.60"/>
<circle cx="152.18" cy="199.95" r="2.11" fill="#c7c7c7" stroke="#c7c7c7" stroke-width="1.03" fill-opacity="0.60" stroke-opacity="0.60"/>
<circle cx="150.48" cy="205.92" r="2.11" fill="#c7c7c7" stroke="#c7c7c7" stroke-width="1.03" fill-opacity="0.60" stroke-opacity="0.60"/>
<circle cx="168.89" cy="185.66" r="2.11" fill="#c7c7c7" stroke="#c7c7c7" stroke-width="1.03" fill-opacity="0.60" stroke-opacity="0.60"/>
<circle cx="162.72" cy="182.01" r="2.11" fill="#c7c7c7" stroke="#c7c7c7" stroke-width="1.03" fill-opacity="0.60" stroke-opacity="0.60"/>
<circle cx="192.03" cy="168.53" r="2.11" fill="#c7c7c7" stroke="#c7c7c7" stroke-width="1.03" fill-opacity="0.60" stroke-opacity="0.60"/>
<circle cx="185.81" cy="197.02" r="2.11" fill="#c7c7c7" stroke="#c7c7c7" stroke-width="1.03" fill-opacity="0.60" stroke-opacity="0.60"/>
<circle cx="176.04" cy="195.22" r="2.11" fill="#c7c7c7" stroke="#c7c7c7" stroke-width="1.03" fill-opacity="0.60" stroke-opacity="0.60"/>
<circle cx="171.31" cy="182.37" r="2.11" fill="#c7c7c7" stroke="#c7c7c7" stroke-width="1.03" fill-opacity="0.60" stroke-opacity="0.60"/>
<circle cx="155.93" cy="188.69" r="2.11" fill="#c7c7c7" stroke="#c7c7c7" stroke-width="1.03" fill-opacity="0.60" stroke-opacity="0.60"/>
<circle cx="163.03" cy="205.87" r="2.11" fill="#c7c7c7" stroke="#c7c7c7" stroke-width="1.03" fill-opacity="0.60" stroke-opacity="0.60"/>
<circle cx="162.93" cy="188.07" r="2.11" fill="#c7c7c7" stroke="#c7c7c7" stroke-width="1.03" fill-opacity="0.60" stroke-opacity="0.60"/>
<circle cx="147.19" cy="199.75" r="2.11" fill="#c7c7c7" stroke="#c7c7c7" stroke-width="1.03" fill-opacity="0.60" stroke-opacity="0.60"/>
<circle cx="187.05" cy="176.09" r="2.11" fill="#c7c7c7" stroke="#c7c7c7" stroke-width="1.03" fill-opacity="0.60" stroke-opacity="0.60"/>
<circle cx="181.80" cy="192.34" r="2.11" fill="#c7c7c7" stroke="#c7c7c7" stroke-width="1.03" fill-opacity="0.60" stroke-opacity="0.60"/>
<circle cx="193.01" cy="182.31" r="2.11" fill="#c7c7c7" stroke="#c7c7c7" stroke-width="1.03" fill-opacity="0.60" stroke-opacity="0.60"/>
<circle cx="192.60" cy="164.57" r="2.11" fill="#c7c7c7" stroke="#c7c7c7" stroke-width="1.03" fill-opacity="0.60" stroke-opacity="0.60"/>
<circle cx="185.30" cy="181.70" r="2.11" fill="#c7c7c7" stroke="#c7c7c7" stroke-width="1.03" fill-opacity="0.60" stroke-opacity="0.60"/>
<circle cx="172.95" cy="195.17" r="2.11" fill="#c7c7c7" stroke="#c7c7c7" stroke-width="1.03" fill-opacity="0.60" stroke-opacity="0.60"/>
<circle cx="191.11" cy="172.44" r="2.11" fill="#c7c7c7" stroke="#c7c7c7" stroke-width="1.03" fill-opacity="0.60" stroke-opacity="0.60"/>
<circle cx="179.59" cy="201.81" r="2.11" fill="#c7c7c7" stroke="#c7c7c7" stroke-width="1.03" fill-opacity="0.60" stroke-opacity="0.60"/>
<circle cx="151.41" cy="202.68" r="2.11" fill="#c7c7c7" stroke="#c7c7c7" stroke-width="1.03" fill-opacity="0.60" stroke-opacity="0.60"/>
<circle cx="164.67" cy="194.14" r="2.11" fill="#c7c7c7" stroke="#c7c7c7" stroke-width="1.03" fill-opacity="0.60" stroke-opacity="0.60"/>
<circle cx="183.34" cy="203.04" r="2.11" fill="#c7c7c7" stroke="#c7c7c7" stroke-width="1.03" fill-opacity="0.60" stroke-opacity="0.60"/>
<circle cx="157.68" cy="193.47" r="2.11" fill="#c7c7c7" stroke="#c7c7c7" stroke-width="1.03" fill-opacity="0.60" stroke-opacity="0.60"/>
<circle cx="193.99" cy="171.77" r="2.11" fill="#c7c7c7" stroke="#c7c7c7" stroke-width="1.03" fill-opacity="0.60" stroke-opacity="0.60"/>
<circle cx="171.67" cy="185.50" r="2.11" fill="#c7c7c7" stroke="#c7c7c7" stroke-width="1.03" fill-opacity="0.60" stroke-opacity="0.60"/>
<circle cx="196.66" cy="161.13" r="2.11" fill="#c7c7c7" stroke="#c7c7c7" stroke-width="1.03" fill-opacity="0.60" stroke-opacity="0.60"/>
<circle cx="160.87" cy="193.58" r="2.11" fill="#c7c7c7" stroke="#c7c7c7" stroke-width="1.03" fill-opacity="0.60" stroke-opacity="0.60"/>
<circle cx="189.31" cy="194.91" r="2.11" fill="#c7c7c7" stroke="#c7c7c7" stroke-width="1.03" fill-opacity="0.60" stroke-opacity="0.60"/>
<circle cx="178.61" cy="196.77" r="2.11" fill="#c7c7c7" stroke="#c7c7c7" stroke-width="1.03" fill-opacity="0.60" stroke-opacity="0.60"/>
<circle cx="157.22" cy="205.35" r="2.11" fill="#c7c7c7" stroke="#c7c7c7" stroke-width="1.03" fill-opacity="0.60" stroke-opacity="0.60"/>
<circle cx="160.46" cy="206.79" r="2.11" fill="#c7c7c7" stroke="#c7c7c7" stroke-width="1.03" fill-opacity="0.60" stroke-opacity="0.60"/>
<circle cx="157.73" cy="201.50" r="2.11" fill="#c7c7c7" stroke="#c7c7c7" stroke-width="1.03" fill-opacity="0.60" stroke-opacity="0.60"/>
<circle cx="196.20" cy="181.03" r="2.11" fill="#c7c7c7" stroke="#c7c7c7" stroke-width="1.03" fill-opacity="0.60" stroke-opacity="0.60"/>
<circle cx="168.94" cy="204.12" r="2.11" fill="#c7c7c7" stroke="#c7c7c7" stroke-width="1.03" fill-opacity="0.60" stroke-opacity="0.60"/>
<circle cx="148.01" cy="204.43" r="2.11" fill="#c7c7c7" stroke="#c7c7c7" stroke-width="1.03" fill-opacity="0.60" stroke-opacity="0.60"/>
<circle cx="189.21" cy="188.59" r="2.11" fill="#c7c7c7" stroke="#c7c7c7" stroke-width="1.03" fill-opacity="0.60" stroke-opacity="0.60"/>
<circle cx="160.20" cy="189.67" r="2.11" fill="#c7c7c7" stroke="#c7c7c7" stroke-width="1.03" fill-opacity="0.60" stroke-opacity="0.60"/>
<circle cx="193.37" cy="159.69" r="2.11" fill="#c7c7c7" stroke="#c7c7c7" stroke-width="1.03" fill-opacity="0.60" stroke-opacity="0.60"/>
<circle cx="195.69" cy="184.89" r="2.11" fill="#c7c7c7" stroke="#c7c7c7" stroke-width="1.03" fill-opacity="0.60" stroke-opacity="0.60"/>
<circle cx="184.27" cy="184.17" r="2.11" fill="#c7c7c7" stroke="#c7c7c7" stroke-width="1.03" fill-opacity="0.60" stroke-opacity="0.60"/>
<circle cx="163.23" cy="184.58" r="2.11" fill="#c7c7c7" stroke="#c7c7c7" stroke-width="1.03" fill-opacity="0.60" stroke-opacity="0.60"/>
<circle cx="173.37" cy="204.89" r="2.11" fill="#c7c7c7" stroke="#c7c7c7" stroke-width="1.03" fill-opacity="0.60" stroke-opacity="0.60"/>
<circle cx="192.96" cy="175.37" r="2.11" fill="#c7c7c7" stroke="#c7c7c7" stroke-width="1.03" fill-opacity="0.60" stroke-opacity="0.60"/>
<circle cx="173.62" cy="180.62" r="2.11" fill="#c7c7c7" stroke="#c7c7c7" stroke-width="1.03" fill-opacity="0.60" stroke-opacity="0.60"/>
<circle cx="176.35" cy="199.18" r="2.11" fill="#c7c7c7" stroke="#c7c7c7" stroke-width="1.03" fill-opacity="0.60" stroke-opacity="0.60"/>
<circle cx="180.72" cy="187.25" r="2.11" fill="#c7c7c7" stroke="#c7c7c7" stroke-width="1.03" fill-opacity="0.60" stroke-opacity="0.60"/>
<circle cx="184.63" cy="199.70" r="2.11" fill="#c7c7c7" stroke="#c7c7c7" stroke-width="1.03" fill-opacity="0.60" stroke-opacity="0.60"/>
<circle cx="164.26" cy="200.47" r="2.11" fill="#c7c7c7" stroke="#c7c7c7" stroke-width="1.03" fill-opacity="0.60" stroke-opacity="0.60"/>
<circle cx="195.53" cy="166.58" r="2.11" fill="#c7c7c7" stroke="#c7c7c7" stroke-width="1.03" fill-opacity="0.60" stroke-opacity="0.60"/>
<circle cx="182.52" cy="178.15" r="2.11" fill="#c7c7c7" stroke="#c7c7c7" stroke-width="1.03" fill-opacity="0.60" stroke-opacity="0.60"/>
<circle cx="184.11" cy="187.92" r="2.11" fill="#c7c7c7" stroke="#c7c7c7" stroke-width="1.03" fill-opacity="0.60" stroke-opacity="0.60"/>
<circle cx="168.38" cy="182.88" r="2.11" fill="#c7c7c7" stroke="#c7c7c7" stroke-width="1.03" fill-opacity="0.60" stroke-opacity="0.60"/>
<circle cx="179.13" cy="190.18" r="2.11" fill="#c7c7c7" stroke="#c7c7c7" stroke-width="1.03" fill-opacity="0.60" stroke-opacity="0.60"/>
<circle cx="185.81" cy="190.18" r="2.11" fill="#c7c7c7" stroke="#c7c7c7" stroke-width="1.03" fill-opacity="0.60" stroke-opacity="0.60"/>
<circle cx="166.22" cy="196.92" r="2.11" fill="#c7c7c7" stroke="#c7c7c7" stroke-width="1.03" fill-opacity="0.60" stroke-opacity="0.60"/>
<circle cx="172.65" cy="191.67" r="2.11" fill="#c7c7c7" stroke="#c7c7c7" stroke-width="1.03" fill-opacity="0.60" stroke-opacity="0.60"/>
<circle cx="167.30" cy="193.11" r="2.11" fill="#c7c7c7" stroke="#c7c7c7" stroke-width="1.03" fill-opacity="0.60" stroke-opacity="0.60"/>
<circle cx="153.93" cy="205.15" r="2.11" fill="#c7c7c7" stroke="#c7c7c7" stroke-width="1.03" fill-opacity="0.60" stroke-opacity="0.60"/>
<circle cx="182.26" cy="181.75" r="2.11" fill="#c7c7c7" stroke="#c7c7c7" stroke-width="1.03" fill-opacity="0.60" stroke-opacity="0.60"/>
<circle cx="181.54" cy="197.54" r="2.11" fill="#c7c7c7" stroke="#c7c7c7" stroke-width="1.03" fill-opacity="0.60" stroke-opacity="0.60"/>
<circle cx="158.45" cy="198.72" r="2.11" fill="#c7c7c7" stroke="#c7c7c7" stroke-width="1.03" fill-opacity="0.60" stroke-opacity="0.60"/>
<circle cx="168.94" cy="197.07" r="2.11" fill="#c7c7c7" stroke="#c7c7c7" stroke-width="1.03" fill-opacity="0.60" stroke-opacity="0.60"/>
<circle cx="160.05" cy="179.90" r="2.11" fill="#c7c7c7" stroke="#c7c7c7" stroke-width="1.03" fill-opacity="0.60" stroke-opacity="0.60"/>
<circle cx="188.49" cy="165.19" r="2.11" fill="#c7c7c7" stroke="#c7c7c7" stroke-width="1.03" fill-opacity="0.60" stroke-opacity="0.60"/>
<circle cx="177.48" cy="177.33" r="2.11" fill="#c7c7c7" stroke="#c7c7c7" stroke-width="1.03" fill-opacity="0.60" stroke-opacity="0.60"/>
<circle cx="190.39" cy="191.37" r="2.11" fill="#c7c7c7" stroke="#c7c7c7" stroke-width="1.03" fill-opacity="0.60" stroke-opacity="0.60"/>
<circle cx="185.55" cy="178.71" r="2.11" fill="#c7c7c7" stroke="#c7c7c7" stroke-width="1.03" fill-opacity="0.60" stroke-opacity="0.60"/>
<circle cx="176.35" cy="204.07" r="2.11" fill="#c7c7c7" stroke="#c7c7c7" stroke-width="1.03" fill-opacity="0.60" stroke-opacity="0.60"/>
<circle cx="162.26" cy="198.82" r="2.11" fill="#c7c7c7" stroke="#c7c7c7" stroke-width="1.03" fill-opacity="0.60" stroke-opacity="0.60"/>
<circle cx="189.51" cy="180.87" r="2.11" fill="#c7c7c7" stroke="#c7c7c7" stroke-width="1.03" fill-opacity="0.60" stroke-opacity="0.60"/>
<circle cx="164.83" cy="191.11" r="2.11" fill="#c7c7c7" stroke="#c7c7c7" stroke-width="1.03" fill-opacity="0.60" stroke-opacity="0.60"/>
<circle cx="178.71" cy="184.42" r="2.11" fill="#c7c7c7" stroke="#c7c7c7" stroke-width="1.03" fill-opacity="0.60" stroke-opacity="0.60"/>
<circle cx="171.15" cy="178.30" r="2.11" fill="#c7c7c7" stroke="#c7c7c7" stroke-width="1.03" fill-opacity="0.60" stroke-opacity="0.60"/>
<circle cx="177.07" cy="188.13" r="2.11" fill="#c7c7c7" stroke="#c7c7c7" stroke-width="1.03" fill-opacity="0.60" stroke-opacity="0.60"/>
<circle cx="172.80" cy="198.51" r="2.11" fill="#c7c7c7" stroke="#c7c7c7" stroke-width="1.03" fill-opacity="0.60" stroke-opacity="0.60"/>
<circle cx="170.23" cy="190.80" r="2.11" fill="#c7c7c7" stroke="#c7c7c7" stroke-width="1.03" fill-opacity="0.60" stroke-opacity="0.60"/>
<circle cx="161.07" cy="202.53" r="2.11" fill="#c7c7c7" stroke="#c7c7c7" stroke-width="1.03" fill-opacity="0.60" stroke-opacity="0.60"/>
<circle cx="184.27" cy="174.45" r="2.11" fill="#c7c7c7" stroke="#c7c7c7" stroke-width="1.03" fill-opacity="0.60" stroke-opacity="0.60"/>
<circle cx="149.91" cy="197.07" r="2.11" fill="#c7c7c7" stroke="#c7c7c7" stroke-width="1.03" fill-opacity="0.60" stroke-opacity="0.60"/>
<circle cx="179.64" cy="174.45" r="2.11" fill="#c7c7c7" stroke="#c7c7c7" stroke-width="1.03" fill-opacity="0.60" stroke-opacity="0.60"/>
<circle cx="187.25" cy="172.59" r="2.11" fill="#c7c7c7" stroke="#c7c7c7" stroke-width="1.03" fill-opacity="0.60" stroke-opacity="0.60"/>
<circle cx="163.49" cy="177.22" r="2.11" fill="#c7c7c7" stroke="#c7c7c7" stroke-width="1.03" fill-opacity="0.60" stroke-opacity="0.60"/>
<circle cx="192.03" cy="194.81" r="2.11" fill="#c7c7c7" stroke="#c7c7c7" stroke-width="1.03" fill-opacity="0.60" stroke-opacity="0.60"/>
<circle cx="154.65" cy="195.33" r="2.11" fill="#c7c7c7" stroke="#c7c7c7" stroke-width="1.03" fill-opacity="0.60" stroke-opacity="0.60"/>
<circle cx="177.12" cy="179.90" r="2.11" fill="#c7c7c7" stroke="#c7c7c7" stroke-width="1.03" fill-opacity="0.60" stroke-opacity="0.60"/>
<circle cx="159.02" cy="185.55" r="2.11" fill="#c7c7c7" stroke="#c7c7c7" stroke-width="1.03" fill-opacity="0.60" stroke-opacity="0.60"/>
<circle cx="174.75" cy="201.81" r="2.11" fill="#c7c7c7" stroke="#c7c7c7" stroke-width="1.03" fill-opacity="0.60" stroke-opacity="0.60"/>
<circle cx="180.87" cy="194.81" r="2.11" fill="#c7c7c7" stroke="#c7c7c7" stroke-width="1.03" fill-opacity="0.60" stroke-opacity="0.60"/>
<circle cx="166.17" cy="179.13" r="2.11" fill="#c7c7c7" stroke="#c7c7c7" stroke-width="1.03" fill-opacity="0.60" stroke-opacity="0.60"/>
<circle cx="175.27" cy="184.63" r="2.11" fill="#c7c7c7" stroke="#c7c7c7" stroke-width="1.03" fill-opacity="0.60" stroke-opacity="0.60"/>
<circle cx="193.63" cy="191.83" r="2.11" fill="#c7c7c7" stroke="#c7c7c7" stroke-width="1.03" fill-opacity="0.60" stroke-opacity="0.60"/>
<circle cx="189.62" cy="178.20" r="2.11" fill="#c7c7c7" stroke="#c7c7c7" stroke-width="1.03" fill-opacity="0.60" stroke-opacity="0.60"/>
<circle cx="166.32" cy="206.28" r="2.11" fill="#c7c7c7" stroke="#c7c7c7" stroke-width="1.03" fill-opacity="0.60" stroke-opacity="0.60"/>
<circle cx="170.13" cy="200.16" r="2.11" fill="#c7c7c7" stroke="#c7c7c7" stroke-width="1.03" fill-opacity="0.60" stroke-opacity="0.60"/>
<circle cx="192.65" cy="178.82" r="2.11" fill="#c7c7c7" stroke="#c7c7c7" stroke-width="1.03" fill-opacity="0.60" stroke-opacity="0.60"/>
<circle cx="165.34" cy="203.09" r="2.11" fill="#c7c7c7" stroke="#c7c7c7" stroke-width="1.03" fill-opacity="0.60" stroke-opacity="0.60"/>
<circle cx="184.53" cy="192.96" r="2.11" fill="#c7c7c7" stroke="#c7c7c7" stroke-width="1.03" fill-opacity="0.60" stroke-opacity="0.60"/>
<circle cx="191.78" cy="184.78" r="2.11" fill="#c7c7c7" stroke="#c7c7c7" stroke-width="1.03" fill-opacity="0.60" stroke-opacity="0.60"/>
<circle cx="154.95" cy="202.22" r="2.11" fill="#c7c7c7" stroke="#c7c7c7" stroke-width="1.03" fill-opacity="0.60" stroke-opacity="0.60"/>
<circle cx="187.15" cy="200.52" r="2.11" fill="#c7c7c7" stroke="#c7c7c7" stroke-width="1.03" fill-opacity="0.60" stroke-opacity="0.60"/>
<circle cx="155.16" cy="191.83" r="2.11" fill="#c7c7c7" stroke="#c7c7c7" stroke-width="1.03" fill-opacity="0.60" stroke-opacity="0.60"/>
<circle cx="182.06" cy="173.06" r="2.11" fill="#c7c7c7" stroke="#c7c7c7" stroke-width="1.03" fill-opacity="0.60" stroke-opacity="0.60"/>
<circle cx="187.15" cy="193.22" r="2.11" fill="#c7c7c7" stroke="#c7c7c7" stroke-width="1.03" fill-opacity="0.60" stroke-opacity="0.60"/>
<circle cx="188.69" cy="197.74" r="2.11" fill="#c7c7c7" stroke="#c7c7c7" stroke-width="1.03" fill-opacity="0.60" stroke-opacity="0.60"/>
<circle cx="150.43" cy="194.50" r="2.11" fill="#c7c7c7" stroke="#c7c7c7" stroke-width="1.03" fill-opacity="0.60" stroke-opacity="0.60"/>
<circle cx="156.19" cy="186.12" r="2.11" fill="#c7c7c7" stroke="#c7c7c7" stroke-width="1.03" fill-opacity="0.60" stroke-opacity="0.60"/>
<circle cx="187.66" cy="186.48" r="2.11" fill="#c7c7c7" stroke="#c7c7c7" stroke-width="1.03" fill-opacity="0.60" stroke-opacity="0.60"/>
<circle cx="181.49" cy="184.63" r="2.11" fill="#c7c7c7" stroke="#c7c7c7" stroke-width="1.03" fill-opacity="0.60" stroke-opacity="0.60"/>
<circle cx="195.22" cy="189.62" r="2.11" fill="#c7c7c7" stroke="#c7c7c7" stroke-width="1.03" fill-opacity="0.60" stroke-opacity="0.60"/>
<circle cx="177.69" cy="192.65" r="2.11" fill="#c7c7c7" stroke="#c7c7c7" stroke-width="1.03" fill-opacity="0.60" stroke-opacity="0.60"/>
<circle cx="195.74" cy="178.10" r="2.11" fill="#c7c7c7" stroke="#c7c7c7" stroke-width="1.03" fill-opacity="0.60" stroke-opacity="0.60"/>
<circle cx="153.21" cy="190.08" r="2.11" fill="#c7c7c7" stroke="#c7c7c7" stroke-width="1.03" fill-opacity="0.60" stroke-opacity="0.60"/>
<circle cx="181.85" cy="189.57" r="2.11" fill="#c7c7c7" stroke="#c7c7c7" stroke-width="1.03" fill-opacity="0.60" stroke-opacity="0.60"/>
<circle cx="159.33" cy="195.84" r="2.11" fill="#c7c7c7" stroke="#c7c7c7" stroke-width="1.03" fill-opacity="0.60" stroke-opacity="0.60"/>
<circle cx="179.49" cy="204.48" r="2.11" fill="#c7c7c7" stroke="#c7c7c7" stroke-width="1.03" fill-opacity="0.60" stroke-opacity="0.60"/>
<circle cx="165.55" cy="181.75" r="2.11" fill="#c7c7c7" stroke="#c7c7c7" stroke-width="1.03" fill-opacity="0.60" stroke-opacity="0.60"/>
<circle cx="183.45" cy="195.74" r="2.11" fill="#c7c7c7" stroke="#c7c7c7" stroke-width="1.03" fill-opacity="0.60" stroke-opacity="0.60"/>
<circle cx="190.70" cy="162.46" r="2.11" fill="#c7c7c7" stroke="#c7c7c7" stroke-width="1.03" fill-opacity="0.60" stroke-opacity="0.60"/>
<circle cx="197.18" cy="163.95" r="2.11" fill="#c7c7c7" stroke="#c7c7c7" stroke-width="1.03" fill-opacity="0.60" stroke-opacity="0.60"/>
<circle cx="168.69" cy="179.54" r="2.11" fill="#c7c7c7" stroke="#c7c7c7" stroke-width="1.03" fill-opacity="0.60" stroke-opacity="0.60"/>
<circle cx="166.11" cy="184.37" r="2.11" fill="#c7c7c7" stroke="#c7c7c7" stroke-width="1.03" fill-opacity="0.60" stroke-opacity="0.60"/>
<circle cx="182.21" cy="200.57" r="2.11" fill="#c7c7c7" stroke="#c7c7c7" stroke-width="1.03" fill-opacity="0.60" stroke-opacity="0.60"/>
<circle cx="174.39" cy="177.74" r="2.11" fill="#c7c7c7" stroke="#c7c7c7" stroke-width="1.03" fill-opacity="0.60" stroke-opacity="0.60"/>
<circle cx="171.87" cy="202.27" r="2.11" fill="#c7c7c7" stroke="#c7c7c7" stroke-width="1.03" fill-opacity="0.60" stroke-opacity="0.60"/>
<circle cx="170.54" cy="188.23" r="2.11" fill="#c7c7c7" stroke="#c7c7c7" stroke-width="1.03" fill-opacity="0.60" stroke-opacity="0.60"/>
<circle cx="168.48" cy="176.86" r="2.11" fill="#c7c7c7" stroke="#c7c7c7" stroke-width="1.03" fill-opacity="0.60" stroke-opacity="0.60"/>
<circle cx="160.20" cy="182.47" r="2.11" fill="#c7c7c7" stroke="#c7c7c7" stroke-width="1.03" fill-opacity="0.60" stroke-opacity="0.60"/>
<circle cx="153.21" cy="197.59" r="2.11" fill="#c7c7c7" stroke="#c7c7c7" stroke-width="1.03" fill-opacity="0.60" stroke-opacity="0.60"/>
<circle cx="169.77" cy="194.30" r="2.11" fill="#c7c7c7" stroke="#c7c7c7" stroke-width="1.03" fill-opacity="0.60" stroke-opacity="0.60"/>
<circle cx="166.83" cy="199.90" r="2.11" fill="#c7c7c7" stroke="#c7c7c7" stroke-width="1.03" fill-opacity="0.60" stroke-opacity="0.60"/>
<circle cx="175.27" cy="190.95" r="2.11" fill="#c7c7c7" stroke="#c7c7c7" stroke-width="1.03" fill-opacity="0.60" stroke-opacity="0.60"/>
<circle cx="189.77" cy="174.86" r="2.11" fill="#c7c7c7" stroke="#c7c7c7" stroke-width="1.03" fill-opacity="0.60" stroke-opacity="0.60"/>
<circle cx="197.07" cy="173.11" r="2.11" fill="#c7c7c7" stroke="#c7c7c7" stroke-width="1.03" fill-opacity="0.60" stroke-opacity="0.60"/>
<circle cx="155.21" cy="207.62" r="2.11" fill="#c7c7c7" stroke="#c7c7c7" stroke-width="1.03" fill-opacity="0.60" stroke-opacity="0.60"/>
<circle cx="162.98" cy="196.25" r="2.11" fill="#c7c7c7" stroke="#c7c7c7" stroke-width="1.03" fill-opacity="0.60" stroke-opacity="0.60"/>
<circle cx="180.05" cy="177.12" r="2.11" fill="#c7c7c7" stroke="#c7c7c7" stroke-width="1.03" fill-opacity="0.60" stroke-opacity="0.60"/>
<circle cx="194.45" cy="162.67" r="2.11" fill="#c7c7c7" stroke="#c7c7c7" stroke-width="1.03" fill-opacity="0.60" stroke-opacity="0.60"/>
<circle cx="195.94" cy="158.40" r="2.11" fill="#c7c7c7" stroke="#c7c7c7" stroke-width="1.03" fill-opacity="0.60" stroke-opacity="0.60"/>
<circle cx="205.51" cy="174.29" r="2.11" fill="#c7c7c7" stroke="#c7c7c7" stroke-width="1.03" fill-opacity="0.45" stroke-opacity="0.45"/>
<circle cx="202.63" cy="187.25" r="2.11" fill="#c7c7c7" stroke="#c7c7c7" stroke-width="1.03" fill-opacity="0.45" stroke-opacity="0.45"/>
<circle cx="202.83" cy="180.21" r="2.11" fill="#c7c7c7" stroke="#c7c7c7" stroke-width="1.03" fill-opacity="0.45" stroke-opacity="0.45"/>
<circle cx="198.00" cy="156.45" r="2.11" fill="#c7c7c7" stroke="#c7c7c7" stroke-width="1.03" fill-opacity="0.45" stroke-opacity="0.45"/>
<circle cx="204.69" cy="183.86" r="2.11" fill="#c7c7c7" stroke="#c7c7c7" stroke-width="1.03" fill-opacity="0.45" stroke-opacity="0.45"/>
<circle cx="199.54" cy="164.93" r="2.11" fill="#c7c7c7" stroke="#c7c7c7" stroke-width="1.03" fill-opacity="0.45" stroke-opacity="0.45"/>
<circle cx="206.02" cy="171.57" r="2.11" fill="#c7c7c7" stroke="#c7c7c7" stroke-width="1.03" fill-opacity="0.45" stroke-opacity="0.45"/>
<circle cx="204.07" cy="166.53" r="2.11" fill="#c7c7c7" stroke="#c7c7c7" stroke-width="1.03" fill-opacity="0.45" stroke-opacity="0.45"/>
<circle cx="200.11" cy="173.78" r="2.11" fill="#c7c7c7" stroke="#c7c7c7" stroke-width="1.03" fill-opacity="0.45" stroke-opacity="0.45"/>
<circle cx="198.98" cy="188.43" r="2.11" fill="#c7c7c7" stroke="#c7c7c7" stroke-width="1.03" fill-opacity="0.45" stroke-opacity="0.45"/>
<circle cx="205.41" cy="163.90" r="2.11" fill="#c7c7c7" stroke="#c7c7c7" stroke-width="1.03" fill-opacity="0.45" stroke-opacity="0.45"/>
<circle cx="200.88" cy="156.81" r="2.11" fill="#c7c7c7" stroke="#c7c7c7" stroke-width="1.03" fill-opacity="0.45" stroke-opacity="0.45"/>
<circle cx="203.19" cy="158.45" r="2.11" fill="#c7c7c7" stroke="#c7c7c7" stroke-width="1.03" fill-opacity="0.45" stroke-opacity="0.45"/>
<circle cx="199.95" cy="180.36" r="2.11" fill="#c7c7c7" stroke="#c7c7c7" stroke-width="1.03" fill-opacity="0.45" stroke-opacity="0.45"/>
<circle cx="201.39" cy="182.98" r="2.11" fill="#c7c7c7" stroke="#c7c7c7" stroke-width="1.03" fill-opacity="0.45" stroke-opacity="0.45"/>
<circle cx="201.09" cy="162.62" r="2.11" fill="#c7c7c7" stroke="#c7c7c7" stroke-width="1.03" fill-opacity="0.45" stroke-opacity="0.45"/>
<circle cx="200.52" cy="195.02" r="2.11" fill="#c7c7c7" stroke="#c7c7c7" stroke-width="1.03" fill-opacity="0.45" stroke-opacity="0.45"/>
<circle cx="197.38" cy="190.85" r="2.11" fill="#c7c7c7" stroke="#c7c7c7" stroke-width="1.03" fill-opacity="0.45" stroke-opacity="0.45"/>
<circle cx="198.62" cy="131.81" r="2.11" fill="#c7c7c7" stroke="#c7c7c7" stroke-width="1.03" fill-opacity="0.70" stroke-opacity="0.70"/>
<circle cx="196.10" cy="150.38" r="2.11" fill="#c7c7c7" stroke="#c7c7c7" stroke-width="1.03" fill-opacity="0.70" stroke-opacity="0.70"/>
<circle cx="195.07" cy="122.50" r="2.11" fill="#c7c7c7" stroke="#c7c7c7" stroke-width="1.03" fill-opacity="0.70" stroke-opacity="0.70"/>
<circle cx="189.62" cy="129.34" r="2.11" fill="#c7c7c7" stroke="#c7c7c7" stroke-width="1.03" fill-opacity="0.70" stroke-opacity="0.70"/>
<circle cx="192.86" cy="147.50" r="2.11" fill="#c7c7c7" stroke="#c7c7c7" stroke-width="1.03" fill-opacity="0.70" stroke-opacity="0.70"/>
<circle cx="192.24" cy="174.75" r="2.11" fill="#c7c7c7" stroke="#c7c7c7" stroke-width="1.03" fill-opacity="0.70" stroke-opacity="0.70"/>
<circle cx="185.97" cy="173.67" r="2.11" fill="#c7c7c7" stroke="#c7c7c7" stroke-width="1.03" fill-opacity="0.70" stroke-opacity="0.70"/>
<circle cx="191.42" cy="170.18" r="2.11" fill="#c7c7c7" stroke="#c7c7c7" stroke-width="1.03" fill-opacity="0.70" stroke-opacity="0.70"/>
<circle cx="191.88" cy="164.37" r="2.11" fill="#c7c7c7" stroke="#c7c7c7" stroke-width="1.03" fill-opacity="0.70" stroke-opacity="0.70"/>
<circle cx="194.55" cy="169.92" r="2.11" fill="#c7c7c7" stroke="#c7c7c7" stroke-width="1.03" fill-opacity="0.70" stroke-opacity="0.70"/>
<circle cx="208.18" cy="129.29" r="2.11" fill="#c7c7c7" stroke="#c7c7c7" stroke-width="1.03" fill-opacity="0.70" stroke-opacity="0.70"/>
<circle cx="180.87" cy="167.09" r="2.11" fill="#c7c7c7" stroke="#c7c7c7" stroke-width="1.03" fill-opacity="0.70" stroke-opacity="0.70"/>
<circle cx="188.74" cy="157.27" r="2.11" fill="#c7c7c7" stroke="#c7c7c7" stroke-width="1.03" fill-opacity="0.70" stroke-opacity="0.70"/>
<circle cx="178.66" cy="154.49" r="2.11" fill="#c7c7c7" stroke="#c7c7c7" stroke-width="1.03" fill-opacity="0.70" stroke-opacity="0.70"/>
<circle cx="172.80" cy="158.04" r="2.11" fill="#c7c7c7" stroke="#c7c7c7" stroke-width="1.03" fill-opacity="0.70" stroke-opacity="0.70"/>
<circle cx="196.46" cy="158.81" r="2.11" fill="#c7c7c7" stroke="#c7c7c7" stroke-width="1.03" fill-opacity="0.70" stroke-opacity="0.70"/>
<circle cx="190.75" cy="126.67" r="2.11" fill="#c7c7c7" stroke="#c7c7c7" stroke-width="1.03" fill-opacity="0.70" stroke-opacity="0.70"/>
<circle cx="196.10" cy="138.75" r="2.11" fill="#c7c7c7" stroke="#c7c7c7" stroke-width="1.03" fill-opacity="0.70" stroke-opacity="0.70"/>
<circle cx="196.82" cy="162.41" r="2.11" fill="#c7c7c7" stroke="#c7c7c7" stroke-width="1.03" fill-opacity="0.70" stroke-opacity="0.70"/>
<circle cx="188.74" cy="145.39" r="2.11" fill="#c7c7c7" stroke="#c7c7c7" stroke-width="1.03" fill-opacity="0.70" stroke-opacity="0.70"/>
<circle cx="192.65" cy="141.53" r="2.11" fill="#c7c7c7" stroke="#c7c7c7" stroke-width="1.03" fill-opacity="0.70" stroke-opacity="0.70"/>
<circle cx="184.22" cy="152.59" r="2.11" fill="#c7c7c7" stroke="#c7c7c7" stroke-width="1.03" fill-opacity="0.70" stroke-opacity="0.70"/>
<circle cx="196.25" cy="130.63" r="2.11" fill="#c7c7c7" stroke="#c7c7c7" stroke-width="1.03" fill-opacity="0.70" stroke-opacity="0.70"/>
<circle cx="186.12" cy="141.07" r="2.11" fill="#c7c7c7" stroke="#c7c7c7" stroke-width="1.03" fill-opacity="0.70" stroke-opacity="0.70"/>
<circle cx="198.67" cy="155.01" r="2.11" fill="#c7c7c7" stroke="#c7c7c7" stroke-width="1.03" fill-opacity="0.70" stroke-opacity="0.70"/>
<circle cx="175.78" cy="163.39" r="2.11" fill="#c7c7c7" stroke="#c7c7c7" stroke-width="1.03" fill-opacity="0.70" stroke-opacity="0.70"/>
<circle cx="189.51" cy="166.78" r="2.11" fill="#c7c7c7" stroke="#c7c7c7" stroke-width="1.03" fill-opacity="0.70" stroke-opacity="0.70"/>
<circle cx="204.84" cy="131.55" r="2.11" fill="#c7c7c7" stroke="#c7c7c7" stroke-width="1.03" fill-opacity="0.70" stroke-opacity="0.70"/>
<circle cx="190.13" cy="122.97" r="2.11" fill="#c7c7c7" stroke="#c7c7c7" stroke-width="1.03" fill-opacity="0.70" stroke-opacity="0.70"/>
<circle cx="187.82" cy="163.85" r="2.11" fill="#c7c7c7" stroke="#c7c7c7" stroke-width="1.03" fill-opacity="0.70" stroke-opacity="0.70"/>
<circle cx="185.86" cy="135.00" r="2.11" fill="#c7c7c7" stroke="#c7c7c7" stroke-width="1.03" fill-opacity="0.70" stroke-opacity="0.70"/>
<circle cx="196.25" cy="133.56" r="2.11" fill="#c7c7c7" stroke="#c7c7c7" stroke-width="1.03" fill-opacity="0.70" stroke-opacity="0.70"/>
<circle cx="186.74" cy="160.41" r="2.11" fill="#c7c7c7" stroke="#c7c7c7" stroke-width="1.03" fill-opacity="0.70" stroke-opacity="0.70"/>
<circle cx="184.47" cy="164.78" r="2.11" fill="#c7c7c7" stroke="#c7c7c7" stroke-width="1.03" fill-opacity="0.70" stroke-opacity="0.70"/>
<circle cx="181.44" cy="142.61" r="2.11" fill="#c7c7c7" stroke="#c7c7c7" stroke-width="1.03" fill-opacity="0.70" stroke-opacity="0.70"/>
<circle cx="177.38" cy="143.23" r="2.11" fill="#c7c7c7" stroke="#c7c7c7" stroke-width="1.03" fill-opacity="0.70" stroke-opacity="0.70"/>
<circle cx="195.02" cy="152.79" r="2.11" fill="#c7c7c7" stroke="#c7c7c7" stroke-width="1.03" fill-opacity="0.70" stroke-opacity="0.70"/>
<circle cx="200.67" cy="140.97" r="2.11" fill="#c7c7c7" stroke="#c7c7c7" stroke-width="1.03" fill-opacity="0.70" stroke-opacity="0.70"/>
<circle cx="198.82" cy="115.97" r="2.11" fill="#c7c7c7" stroke="#c7c7c7" stroke-width="1.03" fill-opacity="0.70" stroke-opacity="0.70"/>
<circle cx="193.32" cy="150.94" r="2.11" fill="#c7c7c7" stroke="#c7c7c7" stroke-width="1.03" fill-opacity="0.70" stroke-opacity="0.70"/>
<circle cx="173.57" cy="149.55" r="2.11" fill="#c7c7c7" stroke="#c7c7c7" stroke-width="1.03" fill-opacity="0.70" stroke-opacity="0.70"/>
<circle cx="181.65" cy="161.69" r="2.11" fill="#c7c7c7" stroke="#c7c7c7" stroke-width="1.03" fill-opacity="0.70" stroke-opacity="0.70"/>
<circle cx="191.83" cy="130.11" r="2.11" fill="#c7c7c7" stroke="#c7c7c7" stroke-width="1.03" fill-opacity="0.70" stroke-opacity="0.70"/>
<circle cx="187.92" cy="169.56" r="2.11" fill="#c7c7c7" stroke="#c7c7c7" stroke-width="1.03" fill-opacity="0.70" stroke-opacity="0.70"/>
<circle cx="189.31" cy="171.82" r="2.11" fill="#c7c7c7" stroke="#c7c7c7" stroke-width="1.03" fill-opacity="0.70" stroke-opacity="0.70"/>
<circle cx="194.61" cy="155.37" r="2.11" fill="#c7c7c7" stroke="#c7c7c7" stroke-width="1.03" fill-opacity="0.70" stroke-opacity="0.70"/>
<circle cx="180.15" cy="138.60" r="2.11" fill="#c7c7c7" stroke="#c7c7c7" stroke-width="1.03" fill-opacity="0.70" stroke-opacity="0.70"/>
<circle cx="176.81" cy="149.14" r="2.11" fill="#c7c7c7" stroke="#c7c7c7" stroke-width="1.03" fill-opacity="0.70" stroke-opacity="0.70"/>
<circle cx="197.64" cy="165.50" r="2.11" fill="#c7c7c7" stroke="#c7c7c7" stroke-width="1.03" fill-opacity="0.70" stroke-opacity="0.70"/>
<circle cx="194.50" cy="167.35" r="2.11" fill="#c7c7c7" stroke="#c7c7c7" stroke-width="1.03" fill-opacity="0.70" stroke-opacity="0.70"/>
<circle cx="203.04" cy="126.93" r="2.11" fill="#c7c7c7" stroke="#c7c7c7" stroke-width="1.03" fill-opacity="0.70" stroke-opacity="0.70"/>
<circle cx="186.94" cy="138.81" r="2.11" fill="#c7c7c7" stroke="#c7c7c7" stroke-width="1.03" fill-opacity="0.70" stroke-opacity="0.70"/>
<circle cx="182.16" cy="147.14" r="2.11" fill="#c7c7c7" stroke="#c7c7c7" stroke-width="1.03" fill-opacity="0.70" stroke-opacity="0.70"/>
<circle cx="187.05" cy="132.17" r="2.11" fill="#c7c7c7" stroke="#c7c7c7" stroke-width="1.03" fill-opacity="0.70" stroke-opacity="0.70"/>
<circle cx="192.45" cy="158.50" r="2.11" fill="#c7c7c7" stroke="#c7c7c7" stroke-width="1.03" fill-opacity="0.70" stroke-opacity="0.70"/>
<circle cx="206.13" cy="115.46" r="2.11" fill="#c7c7c7" stroke="#c7c7c7" stroke-width="1.03" fill-opacity="0.70" stroke-opacity="0.70"/>
<circle cx="188.69" cy="116.18" r="2.11" fill="#c7c7c7" stroke="#c7c7c7" stroke-width="1.03" fill-opacity="0.70" stroke-opacity="0.70"/>
<circle cx="189.41" cy="118.34" r="2.11" fill="#c7c7c7" stroke="#c7c7c7" stroke-width="1.03" fill-opacity="0.70" stroke-opacity="0.70"/>
<circle cx="193.73" cy="115.10" r="2.11" fill="#c7c7c7" stroke="#c7c7c7" stroke-width="1.03" fill-opacity="0.70" stroke-opacity="0.70"/>
<circle cx="196.25" cy="114.02" r="2.11" fill="#c7c7c7" stroke="#c7c7c7" stroke-width="1.03" fill-opacity="0.70" stroke-opacity="0.70"/>
<circle cx="195.17" cy="116.90" r="2.11" fill="#c7c7c7" stroke="#c7c7c7" stroke-width="1.03" fill-opacity="0.70" stroke-opacity="0.70"/>
<circle cx="198.41" cy="118.34" r="2.11" fill="#c7c7c7" stroke="#c7c7c7" stroke-width="1.03" fill-opacity="0.70" stroke-opacity="0.70"/>
<circle cx="199.85" cy="119.06" r="2.11" fill="#c7c7c7" stroke="#c7c7c7" stroke-width="1.03" fill-opacity="0.70" stroke-opacity="0.70"/>
<circle cx="193.01" cy="120.86" r="2.11" fill="#c7c7c7" stroke="#c7c7c7" stroke-width="1.03" fill-opacity="0.70" stroke-opacity="0.70"/>
<circle cx="197.33" cy="120.86" r="2.11" fill="#c7c7c7" stroke="#c7c7c7" stroke-width="1.03" fill-opacity="0.70" stroke-opacity="0.70"/>
<circle cx="187.25" cy="124.46" r="2.11" fill="#c7c7c7" stroke="#c7c7c7" stroke-width="1.03" fill-opacity="0.70" stroke-opacity="0.70"/>
<circle cx="186.53" cy="126.62" r="2.11" fill="#c7c7c7" stroke="#c7c7c7" stroke-width="1.03" fill-opacity="0.70" stroke-opacity="0.70"/>
<circle cx="193.01" cy="123.74" r="2.11" fill="#c7c7c7" stroke="#c7c7c7" stroke-width="1.03" fill-opacity="0.70" stroke-opacity="0.70"/>
<circle cx="194.45" cy="125.90" r="2.11" fill="#c7c7c7" stroke="#c7c7c7" stroke-width="1.03" fill-opacity="0.70" stroke-opacity="0.70"/>
<circle cx="200.93" cy="124.10" r="2.11" fill="#c7c7c7" stroke="#c7c7c7" stroke-width="1.03" fill-opacity="0.70" stroke-opacity="0.70"/>
<circle cx="198.41" cy="125.18" r="2.11" fill="#c7c7c7" stroke="#c7c7c7" stroke-width="1.03" fill-opacity="0.70" stroke-opacity="0.70"/>
<circle cx="196.25" cy="127.70" r="2.11" fill="#c7c7c7" stroke="#c7c7c7" stroke-width="1.03" fill-opacity="0.70" stroke-opacity="0.70"/>
<circle cx="199.85" cy="128.06" r="2.11" fill="#c7c7c7" stroke="#c7c7c7" stroke-width="1.03" fill-opacity="0.70" stroke-opacity="0.70"/>
<circle cx="205.25" cy="127.70" r="2.11" fill="#c7c7c7" stroke="#c7c7c7" stroke-width="1.03" fill-opacity="0.70" stroke-opacity="0.70"/>
<circle cx="211.37" cy="129.50" r="2.11" fill="#c7c7c7" stroke="#c7c7c7" stroke-width="1.03" fill-opacity="0.70" stroke-opacity="0.70"/>
<circle cx="208.13" cy="133.10" r="2.11" fill="#c7c7c7" stroke="#c7c7c7" stroke-width="1.03" fill-opacity="0.70" stroke-opacity="0.70"/>
<circle cx="210.65" cy="133.46" r="2.11" fill="#c7c7c7" stroke="#c7c7c7" stroke-width="1.03" fill-opacity="0.70" stroke-opacity="0.70"/>
<circle cx="214.97" cy="139.22" r="2.11" fill="#c7c7c7" stroke="#c7c7c7" stroke-width="1.03" fill-opacity="0.70" stroke-opacity="0.70"/>
<circle cx="177.89" cy="128.06" r="2.11" fill="#c7c7c7" stroke="#c7c7c7" stroke-width="1.03" fill-opacity="0.70" stroke-opacity="0.70"/>
<circle cx="180.41" cy="127.70" r="2.11" fill="#c7c7c7" stroke="#c7c7c7" stroke-width="1.03" fill-opacity="0.70" stroke-opacity="0.70"/>
<circle cx="183.29" cy="132.38" r="2.11" fill="#c7c7c7" stroke="#c7c7c7" stroke-width="1.03" fill-opacity="0.70" stroke-opacity="0.70"/>
<circle cx="186.17" cy="129.50" r="2.11" fill="#c7c7c7" stroke="#c7c7c7" stroke-width="1.03" fill-opacity="0.70" stroke-opacity="0.70"/>
<circle cx="177.89" cy="137.06" r="2.11" fill="#c7c7c7" stroke="#c7c7c7" stroke-width="1.03" fill-opacity="0.70" stroke-opacity="0.70"/>
<circle cx="182.93" cy="139.58" r="2.11" fill="#c7c7c7" stroke="#c7c7c7" stroke-width="1.03" fill-opacity="0.70" stroke-opacity="0.70"/>
<circle cx="173.93" cy="146.78" r="2.11" fill="#c7c7c7" stroke="#c7c7c7" stroke-width="1.03" fill-opacity="0.70" stroke-opacity="0.70"/>
<circle cx="177.53" cy="146.42" r="2.11" fill="#c7c7c7" stroke="#c7c7c7" stroke-width="1.03" fill-opacity="0.70" stroke-opacity="0.70"/>
<circle cx="180.05" cy="145.34" r="2.11" fill="#c7c7c7" stroke="#c7c7c7" stroke-width="1.03" fill-opacity="0.70" stroke-opacity="0.70"/>
<circle cx="184.01" cy="144.98" r="2.11" fill="#c7c7c7" stroke="#c7c7c7" stroke-width="1.03" fill-opacity="0.70" stroke-opacity="0.70"/>
<circle cx="188.33" cy="134.54" r="2.11" fill="#c7c7c7" stroke="#c7c7c7" stroke-width="1.03" fill-opacity="0.70" stroke-opacity="0.70"/>
<circle cx="191.93" cy="133.10" r="2.11" fill="#c7c7c7" stroke="#c7c7c7" stroke-width="1.03" fill-opacity="0.70" stroke-opacity="0.70"/>
<circle cx="189.77" cy="137.42" r="2.11" fill="#c7c7c7" stroke="#c7c7c7" stroke-width="1.03" fill-opacity="0.70" stroke-opacity="0.70"/>
<circle cx="193.37" cy="136.70" r="2.11" fill="#c7c7c7" stroke="#c7c7c7" stroke-width="1.03" fill-opacity="0.70" stroke-opacity="0.70"/>
<circle cx="199.13" cy="137.42" r="2.11" fill="#c7c7c7" stroke="#c7c7c7" stroke-width="1.03" fill-opacity="0.70" stroke-opacity="0.70"/>
<circle cx="203.81" cy="136.70" r="2.11" fill="#c7c7c7" stroke="#c7c7c7" stroke-width="1.03" fill-opacity="0.70" stroke-opacity="0.70"/>
<circle cx="202.01" cy="133.10" r="2.11" fill="#c7c7c7" stroke="#c7c7c7" stroke-width="1.03" fill-opacity="0.70" stroke-opacity="0.70"/>
<circle cx="189.05" cy="141.74" r="2.11" fill="#c7c7c7" stroke="#c7c7c7" stroke-width="1.03" fill-opacity="0.70" stroke-opacity="0.70"/>
<circle cx="191.21" cy="144.62" r="2.11" fill="#c7c7c7" stroke="#c7c7c7" stroke-width="1.03" fill-opacity="0.70" stroke-opacity="0.70"/>
<circle cx="198.41" cy="143.18" r="2.11" fill="#c7c7c7" stroke="#c7c7c7" stroke-width="1.03" fill-opacity="0.70" stroke-opacity="0.70"/>
<circle cx="201.29" cy="143.90" r="2.11" fill="#c7c7c7" stroke="#c7c7c7" stroke-width="1.03" fill-opacity="0.70" stroke-opacity="0.70"/>
<circle cx="203.45" cy="143.18" r="2.11" fill="#c7c7c7" stroke="#c7c7c7" stroke-width="1.03" fill-opacity="0.70" stroke-opacity="0.70"/>
<circle cx="195.53" cy="147.50" r="2.11" fill="#c7c7c7" stroke="#c7c7c7" stroke-width="1.03" fill-opacity="0.70" stroke-opacity="0.70"/>
<circle cx="187.61" cy="147.50" r="2.11" fill="#c7c7c7" stroke="#c7c7c7" stroke-width="1.03" fill-opacity="0.70" stroke-opacity="0.70"/>
<circle cx="174.29" cy="151.82" r="2.11" fill="#c7c7c7" stroke="#c7c7c7" stroke-width="1.03" fill-opacity="0.70" stroke-opacity="0.70"/>
<circle cx="178.97" cy="150.38" r="2.11" fill="#c7c7c7" stroke="#c7c7c7" stroke-width="1.03" fill-opacity="0.70" stroke-opacity="0.70"/>
<circle cx="183.29" cy="149.66" r="2.11" fill="#c7c7c7" stroke="#c7c7c7" stroke-width="1.03" fill-opacity="0.70" stroke-opacity="0.70"/>
<circle cx="190.49" cy="150.38" r="2.11" fill="#c7c7c7" stroke="#c7c7c7" stroke-width="1.03" fill-opacity="0.70" stroke-opacity="0.70"/>
<circle cx="199.13" cy="148.94" r="2.11" fill="#c7c7c7" stroke="#c7c7c7" stroke-width="1.03" fill-opacity="0.70" stroke-opacity="0.70"/>
<circle cx="202.73" cy="147.50" r="2.11" fill="#c7c7c7" stroke="#c7c7c7" stroke-width="1.03" fill-opacity="0.70" stroke-opacity="0.70"/>
<circle cx="206.33" cy="148.94" r="2.11" fill="#c7c7c7" stroke="#c7c7c7" stroke-width="1.03" fill-opacity="0.70" stroke-opacity="0.70"/>
<circle cx="211.37" cy="146.06" r="2.11" fill="#c7c7c7" stroke="#c7c7c7" stroke-width="1.03" fill-opacity="0.70" stroke-opacity="0.70"/>
<circle cx="214.25" cy="146.78" r="2.11" fill="#c7c7c7" stroke="#c7c7c7" stroke-width="1.03" fill-opacity="0.70" stroke-opacity="0.70"/>
<circle cx="218.21" cy="150.38" r="2.11" fill="#c7c7c7" stroke="#c7c7c7" stroke-width="1.03" fill-opacity="0.70" stroke-opacity="0.70"/>
<circle cx="142.46" cy="201.09" r="2.11" fill="#c7c7c7" stroke="#c7c7c7" stroke-width="1.03" fill-opacity="0.75" stroke-opacity="0.75"/>
<circle cx="144.51" cy="198.00" r="2.11" fill="#c7c7c7" stroke="#c7c7c7" stroke-width="1.03" fill-opacity="0.75" stroke-opacity="0.75"/>
<circle cx="147.09" cy="194.91" r="2.11" fill="#c7c7c7" stroke="#c7c7c7" stroke-width="1.03" fill-opacity="0.75" stroke-opacity="0.75"/>
<circle cx="149.66" cy="192.86" r="2.11" fill="#c7c7c7" stroke="#c7c7c7" stroke-width="1.03" fill-opacity="0.75" stroke-opacity="0.75"/>
<circle cx="151.20" cy="185.66" r="2.11" fill="#c7c7c7" stroke="#c7c7c7" stroke-width="1.03" fill-opacity="0.75" stroke-opacity="0.75"/>
<circle cx="153.77" cy="188.74" r="2.11" fill="#c7c7c7" stroke="#c7c7c7" stroke-width="1.03" fill-opacity="0.75" stroke-opacity="0.75"/>
<circle cx="155.83" cy="182.06" r="2.11" fill="#c7c7c7" stroke="#c7c7c7" stroke-width="1.03" fill-opacity="0.75" stroke-opacity="0.75"/>
<circle cx="156.86" cy="185.14" r="2.11" fill="#c7c7c7" stroke="#c7c7c7" stroke-width="1.03" fill-opacity="0.75" stroke-opacity="0.75"/>
<circle cx="158.91" cy="175.37" r="2.11" fill="#c7c7c7" stroke="#c7c7c7" stroke-width="1.03" fill-opacity="0.75" stroke-opacity="0.75"/>
<circle cx="159.43" cy="180.00" r="2.11" fill="#c7c7c7" stroke="#c7c7c7" stroke-width="1.03" fill-opacity="0.75" stroke-opacity="0.75"/>
<circle cx="162.51" cy="177.94" r="2.11" fill="#c7c7c7" stroke="#c7c7c7" stroke-width="1.03" fill-opacity="0.75" stroke-opacity="0.75"/>
<circle cx="164.57" cy="174.34" r="2.11" fill="#c7c7c7" stroke="#c7c7c7" stroke-width="1.03" fill-opacity="0.75" stroke-opacity="0.75"/>
<circle cx="167.66" cy="174.86" r="2.11" fill="#c7c7c7" stroke="#c7c7c7" stroke-width="1.03" fill-opacity="0.75" stroke-opacity="0.75"/>
<circle cx="170.23" cy="175.89" r="2.11" fill="#c7c7c7" stroke="#c7c7c7" stroke-width="1.03" fill-opacity="0.75" stroke-opacity="0.75"/>
<circle cx="172.80" cy="173.83" r="2.11" fill="#c7c7c7" stroke="#c7c7c7" stroke-width="1.03" fill-opacity="0.75" stroke-opacity="0.75"/>
<circle cx="174.86" cy="175.37" r="2.11" fill="#c7c7c7" stroke="#c7c7c7" stroke-width="1.03" fill-opacity="0.75" stroke-opacity="0.75"/>
<circle cx="176.91" cy="177.43" r="2.11" fill="#c7c7c7" stroke="#c7c7c7" stroke-width="1.03" fill-opacity="0.75" stroke-opacity="0.75"/>
<circle cx="143.49" cy="204.17" r="2.11" fill="#c7c7c7" stroke="#c7c7c7" stroke-width="1.03" fill-opacity="0.75" stroke-opacity="0.75"/>
<circle cx="146.06" cy="207.26" r="2.11" fill="#c7c7c7" stroke="#c7c7c7" stroke-width="1.03" fill-opacity="0.75" stroke-opacity="0.75"/>
<circle cx="150.17" cy="209.31" r="2.11" fill="#c7c7c7" stroke="#c7c7c7" stroke-width="1.03" fill-opacity="0.75" stroke-opacity="0.75"/>
<circle cx="154.29" cy="209.83" r="2.11" fill="#c7c7c7" stroke="#c7c7c7" stroke-width="1.03" fill-opacity="0.75" stroke-opacity="0.75"/>
<circle cx="159.43" cy="210.86" r="2.11" fill="#c7c7c7" stroke="#c7c7c7" stroke-width="1.03" fill-opacity="0.75" stroke-opacity="0.75"/>
<circle cx="163.54" cy="208.80" r="2.11" fill="#c7c7c7" stroke="#c7c7c7" stroke-width="1.03" fill-opacity="0.75" stroke-opacity="0.75"/>
<circle cx="167.66" cy="208.29" r="2.11" fill="#c7c7c7" stroke="#c7c7c7" stroke-width="1.03" fill-opacity="0.75" stroke-opacity="0.75"/>
<circle cx="171.26" cy="213.74" r="2.11" fill="#c7c7c7" stroke="#c7c7c7" stroke-width="1.03" fill-opacity="0.75" stroke-opacity="0.75"/>
<circle cx="174.86" cy="207.77" r="2.11" fill="#c7c7c7" stroke="#c7c7c7" stroke-width="1.03" fill-opacity="0.75" stroke-opacity="0.75"/>
<circle cx="178.97" cy="206.74" r="2.11" fill="#c7c7c7" stroke="#c7c7c7" stroke-width="1.03" fill-opacity="0.75" stroke-opacity="0.75"/>
<circle cx="182.06" cy="208.59" r="2.11" fill="#c7c7c7" stroke="#c7c7c7" stroke-width="1.03" fill-opacity="0.75" stroke-opacity="0.75"/>
<circle cx="186.17" cy="204.69" r="2.11" fill="#c7c7c7" stroke="#c7c7c7" stroke-width="1.03" fill-opacity="0.75" stroke-opacity="0.75"/>
<circle cx="189.77" cy="207.77" r="2.11" fill="#c7c7c7" stroke="#c7c7c7" stroke-width="1.03" fill-opacity="0.75" stroke-opacity="0.75"/>
<circle cx="187.20" cy="201.60" r="2.11" fill="#c7c7c7" stroke="#c7c7c7" stroke-width="1.03" fill-opacity="0.75" stroke-opacity="0.75"/>
<circle cx="191.31" cy="199.54" r="2.11" fill="#c7c7c7" stroke="#c7c7c7" stroke-width="1.03" fill-opacity="0.75" stroke-opacity="0.75"/>
<circle cx="195.43" cy="196.46" r="2.11" fill="#c7c7c7" stroke="#c7c7c7" stroke-width="1.03" fill-opacity="0.75" stroke-opacity="0.75"/>
<circle cx="196.97" cy="202.63" r="2.11" fill="#c7c7c7" stroke="#c7c7c7" stroke-width="1.03" fill-opacity="0.75" stroke-opacity="0.75"/>
<circle cx="199.54" cy="199.54" r="2.11" fill="#c7c7c7" stroke="#c7c7c7" stroke-width="1.03" fill-opacity="0.75" stroke-opacity="0.75"/>
<circle cx="193.37" cy="195.43" r="2.11" fill="#c7c7c7" stroke="#c7c7c7" stroke-width="1.03" fill-opacity="0.75" stroke-opacity="0.75"/>
<circle cx="201.09" cy="190.29" r="2.11" fill="#c7c7c7" stroke="#c7c7c7" stroke-width="1.03" fill-opacity="0.75" stroke-opacity="0.75"/>
<circle cx="196.46" cy="193.37" r="2.11" fill="#c7c7c7" stroke="#c7c7c7" stroke-width="1.03" fill-opacity="0.75" stroke-opacity="0.75"/>
<circle cx="165.09" cy="158.91" r="2.11" fill="#c7c7c7" stroke="#c7c7c7" stroke-width="1.03" fill-opacity="0.75" stroke-opacity="0.75"/>
<circle cx="164.57" cy="163.03" r="2.11" fill="#c7c7c7" stroke="#c7c7c7" stroke-width="1.03" fill-opacity="0.75" stroke-opacity="0.75"/>
<circle cx="168.17" cy="163.54" r="2.11" fill="#c7c7c7" stroke="#c7c7c7" stroke-width="1.03" fill-opacity="0.75" stroke-opacity="0.75"/>
<circle cx="166.63" cy="165.60" r="2.11" fill="#c7c7c7" stroke="#c7c7c7" stroke-width="1.03" fill-opacity="0.75" stroke-opacity="0.75"/>
<circle cx="173.31" cy="154.29" r="2.11" fill="#c7c7c7" stroke="#c7c7c7" stroke-width="1.03" fill-opacity="0.75" stroke-opacity="0.75"/>
<circle cx="171.77" cy="151.71" r="2.11" fill="#c7c7c7" stroke="#c7c7c7" stroke-width="1.03" fill-opacity="0.75" stroke-opacity="0.75"/>
<circle cx="174.86" cy="167.66" r="2.11" fill="#c7c7c7" stroke="#c7c7c7" stroke-width="1.03" fill-opacity="0.75" stroke-opacity="0.75"/>
<circle cx="176.40" cy="155.31" r="2.11" fill="#c7c7c7" stroke="#c7c7c7" stroke-width="1.03" fill-opacity="0.75" stroke-opacity="0.75"/>
<circle cx="180.00" cy="158.40" r="2.11" fill="#c7c7c7" stroke="#c7c7c7" stroke-width="1.03" fill-opacity="0.75" stroke-opacity="0.75"/>
<circle cx="206.23" cy="199.54" r="2.11" fill="#c7c7c7" stroke="#c7c7c7" stroke-width="1.03" fill-opacity="0.40" stroke-opacity="0.40"/>
<circle cx="178.46" cy="171.26" r="2.11" fill="#c7c7c7" stroke="#c7c7c7" stroke-width="1.03" fill-opacity="0.40" stroke-opacity="0.40"/>
<circle cx="222.69" cy="176.91" r="2.11" fill="#c7c7c7" stroke="#c7c7c7" stroke-width="1.03" fill-opacity="0.40" stroke-opacity="0.40"/>
<circle cx="165.03" cy="158.66" r="2.11" fill="#c7c7c7" stroke="#c7c7c7" stroke-width="1.03" fill-opacity="0.75" stroke-opacity="0.75"/>
<circle cx="163.59" cy="162.62" r="2.11" fill="#c7c7c7" stroke="#c7c7c7" stroke-width="1.03" fill-opacity="0.75" stroke-opacity="0.75"/>
<circle cx="163.23" cy="165.50" r="2.11" fill="#c7c7c7" stroke="#c7c7c7" stroke-width="1.03" fill-opacity="0.75" stroke-opacity="0.75"/>
<circle cx="166.11" cy="163.70" r="2.11" fill="#c7c7c7" stroke="#c7c7c7" stroke-width="1.03" fill-opacity="0.75" stroke-opacity="0.75"/>
<circle cx="168.99" cy="162.98" r="2.11" fill="#c7c7c7" stroke="#c7c7c7" stroke-width="1.03" fill-opacity="0.75" stroke-opacity="0.75"/>
<circle cx="168.27" cy="165.86" r="2.11" fill="#c7c7c7" stroke="#c7c7c7" stroke-width="1.03" fill-opacity="0.75" stroke-opacity="0.75"/>
<circle cx="166.11" cy="173.06" r="2.11" fill="#c7c7c7" stroke="#c7c7c7" stroke-width="1.03" fill-opacity="0.75" stroke-opacity="0.75"/>
<circle cx="158.91" cy="177.74" r="2.11" fill="#c7c7c7" stroke="#c7c7c7" stroke-width="1.03" fill-opacity="0.75" stroke-opacity="0.75"/>
<circle cx="163.95" cy="177.38" r="2.11" fill="#c7c7c7" stroke="#c7c7c7" stroke-width="1.03" fill-opacity="0.75" stroke-opacity="0.75"/>
<circle cx="168.27" cy="177.02" r="2.11" fill="#c7c7c7" stroke="#c7c7c7" stroke-width="1.03" fill-opacity="0.75" stroke-opacity="0.75"/>
<circle cx="174.75" cy="174.86" r="2.11" fill="#c7c7c7" stroke="#c7c7c7" stroke-width="1.03" fill-opacity="0.75" stroke-opacity="0.75"/>
<circle cx="172.59" cy="176.30" r="2.11" fill="#c7c7c7" stroke="#c7c7c7" stroke-width="1.03" fill-opacity="0.75" stroke-opacity="0.75"/>
<circle cx="155.67" cy="182.06" r="2.11" fill="#c7c7c7" stroke="#c7c7c7" stroke-width="1.03" fill-opacity="0.75" stroke-opacity="0.75"/>
<circle cx="151.35" cy="185.66" r="2.11" fill="#c7c7c7" stroke="#c7c7c7" stroke-width="1.03" fill-opacity="0.75" stroke-opacity="0.75"/>
<circle cx="154.59" cy="188.54" r="2.11" fill="#c7c7c7" stroke="#c7c7c7" stroke-width="1.03" fill-opacity="0.75" stroke-opacity="0.75"/>
<circle cx="157.47" cy="184.22" r="2.11" fill="#c7c7c7" stroke="#c7c7c7" stroke-width="1.03" fill-opacity="0.75" stroke-opacity="0.75"/>
<circle cx="162.51" cy="183.50" r="2.11" fill="#c7c7c7" stroke="#c7c7c7" stroke-width="1.03" fill-opacity="0.75" stroke-opacity="0.75"/>
<circle cx="145.59" cy="196.46" r="2.11" fill="#c7c7c7" stroke="#c7c7c7" stroke-width="1.03" fill-opacity="0.75" stroke-opacity="0.75"/>
<circle cx="148.11" cy="195.02" r="2.11" fill="#c7c7c7" stroke="#c7c7c7" stroke-width="1.03" fill-opacity="0.75" stroke-opacity="0.75"/>
<circle cx="154.59" cy="194.30" r="2.11" fill="#c7c7c7" stroke="#c7c7c7" stroke-width="1.03" fill-opacity="0.75" stroke-opacity="0.75"/>
<circle cx="142.35" cy="201.14" r="2.11" fill="#c7c7c7" stroke="#c7c7c7" stroke-width="1.03" fill-opacity="0.75" stroke-opacity="0.75"/>
<circle cx="144.51" cy="199.34" r="2.11" fill="#c7c7c7" stroke="#c7c7c7" stroke-width="1.03" fill-opacity="0.75" stroke-opacity="0.75"/>
<circle cx="172.95" cy="155.42" r="2.11" fill="#c7c7c7" stroke="#c7c7c7" stroke-width="1.03" fill-opacity="0.75" stroke-opacity="0.75"/>
<circle cx="175.83" cy="157.58" r="2.11" fill="#c7c7c7" stroke="#c7c7c7" stroke-width="1.03" fill-opacity="0.75" stroke-opacity="0.75"/>
<circle cx="174.03" cy="160.46" r="2.11" fill="#c7c7c7" stroke="#c7c7c7" stroke-width="1.03" fill-opacity="0.75" stroke-opacity="0.75"/>
<circle cx="177.63" cy="161.18" r="2.11" fill="#c7c7c7" stroke="#c7c7c7" stroke-width="1.03" fill-opacity="0.75" stroke-opacity="0.75"/>
<circle cx="179.79" cy="164.06" r="2.11" fill="#c7c7c7" stroke="#c7c7c7" stroke-width="1.03" fill-opacity="0.75" stroke-opacity="0.75"/>
<circle cx="174.75" cy="167.66" r="2.11" fill="#c7c7c7" stroke="#c7c7c7" stroke-width="1.03" fill-opacity="0.45" stroke-opacity="0.45"/>
<circle cx="177.27" cy="169.46" r="2.11" fill="#c7c7c7" stroke="#c7c7c7" stroke-width="1.03" fill-opacity="0.45" stroke-opacity="0.45"/>
<circle cx="178.35" cy="174.86" r="2.11" fill="#c7c7c7" stroke="#c7c7c7" stroke-width="1.03" fill-opacity="0.45" stroke-opacity="0.45"/>
<circle cx="214.71" cy="139.89" r="2.11" fill="#c7c7c7" stroke="#c7c7c7" stroke-width="1.03" fill-opacity="0.80" stroke-opacity="0.80"/>
<circle cx="198.51" cy="139.37" r="2.11" fill="#c7c7c7" stroke="#c7c7c7" stroke-width="1.03" fill-opacity="0.80" stroke-opacity="0.80"/>
<circle cx="203.66" cy="139.37" r="2.11" fill="#c7c7c7" stroke="#c7c7c7" stroke-width="1.03" fill-opacity="0.80" stroke-opacity="0.80"/>
<circle cx="206.49" cy="149.91" r="2.11" fill="#c7c7c7" stroke="#c7c7c7" stroke-width="1.03" fill-opacity="0.80" stroke-opacity="0.80"/>
<circle cx="218.31" cy="150.94" r="2.11" fill="#c7c7c7" stroke="#c7c7c7" stroke-width="1.03" fill-opacity="0.80" stroke-opacity="0.80"/>
<circle cx="204.43" cy="154.80" r="2.11" fill="#c7c7c7" stroke="#c7c7c7" stroke-width="1.03" fill-opacity="0.80" stroke-opacity="0.80"/>
<circle cx="211.11" cy="145.80" r="2.11" fill="#c7c7c7" stroke="#c7c7c7" stroke-width="1.03" fill-opacity="0.50" stroke-opacity="0.50"/>
<circle cx="214.71" cy="146.83" r="2.11" fill="#c7c7c7" stroke="#c7c7c7" stroke-width="1.03" fill-opacity="0.50" stroke-opacity="0.50"/>
<circle cx="209.31" cy="157.89" r="2.11" fill="#c7c7c7" stroke="#c7c7c7" stroke-width="1.03" fill-opacity="0.50" stroke-opacity="0.50"/>
<circle cx="211.89" cy="158.14" r="2.11" fill="#c7c7c7" stroke="#c7c7c7" stroke-width="1.03" fill-opacity="0.50" stroke-opacity="0.50"/>
<circle cx="200.57" cy="159.43" r="2.11" fill="#c7c7c7" stroke="#c7c7c7" stroke-width="1.03" fill-opacity="0.50" stroke-opacity="0.50"/>
<circle cx="211.37" cy="163.03" r="2.11" fill="#c7c7c7" stroke="#c7c7c7" stroke-width="1.03" fill-opacity="0.50" stroke-opacity="0.50"/>
<circle cx="216.77" cy="161.74" r="2.11" fill="#c7c7c7" stroke="#c7c7c7" stroke-width="1.03" fill-opacity="0.50" stroke-opacity="0.50"/>
<circle cx="203.66" cy="162.00" r="2.11" fill="#c7c7c7" stroke="#c7c7c7" stroke-width="1.03" fill-opacity="0.50" stroke-opacity="0.50"/>
<circle cx="201.60" cy="167.66" r="2.11" fill="#c7c7c7" stroke="#c7c7c7" stroke-width="1.03" fill-opacity="0.50" stroke-opacity="0.50"/>
<circle cx="205.71" cy="168.69" r="2.11" fill="#c7c7c7" stroke="#c7c7c7" stroke-width="1.03" fill-opacity="0.50" stroke-opacity="0.50"/>
<circle cx="208.80" cy="169.71" r="2.11" fill="#c7c7c7" stroke="#c7c7c7" stroke-width="1.03" fill-opacity="0.50" stroke-opacity="0.50"/>
<circle cx="202.63" cy="171.77" r="2.11" fill="#c7c7c7" stroke="#c7c7c7" stroke-width="1.03" fill-opacity="0.50" stroke-opacity="0.50"/>
<circle cx="200.06" cy="169.71" r="2.11" fill="#c7c7c7" stroke="#c7c7c7" stroke-width="1.03" fill-opacity="0.50" stroke-opacity="0.50"/>
<circle cx="214.46" cy="173.31" r="2.11" fill="#c7c7c7" stroke="#c7c7c7" stroke-width="1.03" fill-opacity="0.50" stroke-opacity="0.50"/>
<circle cx="222.69" cy="176.91" r="2.11" fill="#c7c7c7" stroke="#c7c7c7" stroke-width="1.03" fill-opacity="0.50" stroke-opacity="0.50"/>
<circle cx="214.46" cy="174.60" r="2.11" fill="#c7c7c7" stroke="#c7c7c7" stroke-width="1.03" fill-opacity="0.50" stroke-opacity="0.50"/>
<circle cx="205.71" cy="178.97" r="2.11" fill="#c7c7c7" stroke="#c7c7c7" stroke-width="1.03" fill-opacity="0.50" stroke-opacity="0.50"/>
<circle cx="212.91" cy="181.54" r="2.11" fill="#c7c7c7" stroke="#c7c7c7" stroke-width="1.03" fill-opacity="0.50" stroke-opacity="0.50"/>
<circle cx="216.26" cy="186.17" r="2.11" fill="#c7c7c7" stroke="#c7c7c7" stroke-width="1.03" fill-opacity="0.50" stroke-opacity="0.50"/>
<circle cx="205.20" cy="187.20" r="2.11" fill="#c7c7c7" stroke="#c7c7c7" stroke-width="1.03" fill-opacity="0.50" stroke-opacity="0.50"/>
<circle cx="198.00" cy="198.00" r="2.11" fill="#c7c7c7" stroke="#c7c7c7" stroke-width="1.03" fill-opacity="0.50" stroke-opacity="0.50"/>
<circle cx="197.49" cy="203.14" r="2.11" fill="#c7c7c7" stroke="#c7c7c7" stroke-width="1.03" fill-opacity="0.50" stroke-opacity="0.50"/>
<circle cx="201.09" cy="190.29" r="2.11" fill="#c7c7c7" stroke="#c7c7c7" stroke-width="1.03" fill-opacity="0.50" stroke-opacity="0.50"/>
<circle cx="198.51" cy="177.43" r="2.11" fill="#c7c7c7" stroke="#c7c7c7" stroke-width="1.03" fill-opacity="0.50" stroke-opacity="0.50"/>
<circle cx="200.06" cy="191.83" r="2.11" fill="#c7c7c7" stroke="#c7c7c7" stroke-width="1.03" fill-opacity="0.50" stroke-opacity="0.50"/>
<circle cx="198.51" cy="182.57" r="2.11" fill="#c7c7c7" stroke="#c7c7c7" stroke-width="1.03" fill-opacity="0.50" stroke-opacity="0.50"/>
<circle cx="200.57" cy="185.66" r="2.11" fill="#c7c7c7" stroke="#c7c7c7" stroke-width="1.03" fill-opacity="0.50" stroke-opacity="0.50"/>
<circle cx="196.97" cy="193.89" r="2.11" fill="#c7c7c7" stroke="#c7c7c7" stroke-width="1.03" fill-opacity="0.50" stroke-opacity="0.50"/>
<circle cx="206.49" cy="199.03" r="2.11" fill="#c7c7c7" stroke="#c7c7c7" stroke-width="1.03" fill-opacity="0.30" stroke-opacity="0.30"/>
<circle cx="203.14" cy="197.23" r="2.11" fill="#a6dd94" stroke="#a6dd94" stroke-width="1.03" fill-opacity="0.80" stroke-opacity="0.80"/>
<circle cx="210.70" cy="184.11" r="2.11" fill="#ed8536" stroke="#ed8536" stroke-width="1.03" fill-opacity="0.70" stroke-opacity="0.70"/>
<circle cx="218.57" cy="190.54" r="2.11" fill="#ed8536" stroke="#ed8536" stroke-width="1.03" fill-opacity="0.70" stroke-opacity="0.70"/>
<circle cx="200.57" cy="196.20" r="2.11" fill="#ed8536" stroke="#ed8536" stroke-width="1.03" fill-opacity="0.70" stroke-opacity="0.70"/>
<circle cx="231.02" cy="192.75" r="2.11" fill="#ed8536" stroke="#ed8536" stroke-width="1.03" fill-opacity="0.80" stroke-opacity="0.80"/>
<circle cx="241.97" cy="187.97" r="2.11" fill="#ed8536" stroke="#ed8536" stroke-width="1.03" fill-opacity="0.95" stroke-opacity="0.95"/>
<circle cx="236.31" cy="198.26" r="2.11" fill="#ed8536" stroke="#ed8536" stroke-width="1.03" fill-opacity="0.95" stroke-opacity="0.95"/>
<circle cx="240.17" cy="200.06" r="2.11" fill="#ed8536" stroke="#ed8536" stroke-width="1.03" fill-opacity="0.95" stroke-opacity="0.95"/>
<circle cx="236.31" cy="200.57" r="2.11" fill="#ed8536" stroke="#ed8536" stroke-width="1.03" fill-opacity="0.95" stroke-opacity="0.95"/>
<circle cx="238.11" cy="203.14" r="2.11" fill="#ed8536" stroke="#ed8536" stroke-width="1.03" fill-opacity="0.95" stroke-opacity="0.95"/>
<circle cx="244.03" cy="204.17" r="2.11" fill="#ed8536" stroke="#ed8536" stroke-width="1.03" fill-opacity="0.95" stroke-opacity="0.95"/>
<circle cx="239.14" cy="206.74" r="2.11" fill="#ed8536" stroke="#ed8536" stroke-width="1.03" fill-opacity="0.95" stroke-opacity="0.95"/>
<circle cx="233.49" cy="208.80" r="2.11" fill="#ed8536" stroke="#ed8536" stroke-width="1.03" fill-opacity="0.95" stroke-opacity="0.95"/>
<circle cx="236.06" cy="210.34" r="2.11" fill="#ed8536" stroke="#ed8536" stroke-width="1.03" fill-opacity="0.95" stroke-opacity="0.95"/>
<circle cx="236.83" cy="214.71" r="2.11" fill="#ed8536" stroke="#ed8536" stroke-width="1.03" fill-opacity="0.95" stroke-opacity="0.95"/>
<circle cx="218.06" cy="186.17" r="2.11" fill="#80544a" stroke="#80544a" stroke-width="1.03" fill-opacity="0.30" stroke-opacity="0.30"/>
<circle cx="211.99" cy="190.54" r="2.11" fill="#f09c98" stroke="#f09c98" stroke-width="1.03" fill-opacity="0.90" stroke-opacity="0.90"/>
<circle cx="224.85" cy="184.89" r="2.11" fill="#f09c98" stroke="#f09c98" stroke-width="1.03" fill-opacity="0.60" stroke-opacity="0.60"/>
<circle cx="222.58" cy="191.21" r="2.11" fill="#3a75af" stroke="#3a75af" stroke-width="1.03" fill-opacity="0.95" stroke-opacity="0.95"/>
<circle cx="203.66" cy="203.04" r="2.11" fill="#3a75af" stroke="#3a75af" stroke-width="1.03" fill-opacity="0.40" stroke-opacity="0.40"/>
<circle cx="201.34" cy="207.77" r="2.11" fill="#3a75af" stroke="#3a75af" stroke-width="1.03" fill-opacity="0.40" stroke-opacity="0.40"/>
</g>
<g id="legend_1">
    <g id="patch_6">
     <path d="M 406.984686 180.26576 
L 488.604998 180.26576 
Q 490.604998 180.26576 490.604998 178.26576 
L 490.604998 58.62076 
Q 490.604998 56.62076 488.604998 56.62076 
L 406.984686 56.62076 
Q 404.984686 56.62076 404.984686 58.62076 
L 404.984686 178.26576 
Q 404.984686 180.26576 406.984686 180.26576 
z
" style="fill: #ffffff; opacity: 0.8; stroke: #cccccc; stroke-linejoin: miter"/>
    </g>
    <g id="Path3DCollection_1">
     <defs>
      <path id="mdea5875545" d="M 0 2.25 
C 0.596707 2.25 1.169055 2.012926 1.59099 1.59099 
C 2.012926 1.169055 2.25 0.596707 2.25 0 
C 2.25 -0.596707 2.012926 -1.169055 1.59099 -1.59099 
C 1.169055 -2.012926 0.596707 -2.25 0 -2.25 
C -0.596707 -2.25 -1.169055 -2.012926 -1.59099 -1.59099 
C -2.012926 -1.169055 -2.25 -0.596707 -2.25 0 
C -2.25 0.596707 -2.012926 1.169055 -1.59099 1.59099 
C -1.169055 2.012926 -0.596707 2.25 0 2.25 
z
" style="stroke: #3a75af; stroke-width: 1.1"/>
     </defs>
     <g>
      <use href="#mdea5875545" x="418.984686" y="65.594198" style="fill: #3a75af; stroke: #3a75af; stroke-width: 1.1"/>
     </g>
    </g>
    <g id="text_23">
     <text style="font-size: 10px; font-family: 'DejaVu Sans', 'Liberation Sans', sans-serif; text-anchor: start" x="436.984686" y="68.219198">360</text>
    </g>
    <g id="Path3DCollection_2">
     <defs>
      <path id="ma9c85de0ef" d="M 0 2.25 
C 0.596707 2.25 1.169055 2.012926 1.59099 1.59099 
C 2.012926 1.169055 2.25 0.596707 2.25 0 
C 2.25 -0.596707 2.012926 -1.169055 1.59099 -1.59099 
C 1.169055 -2.012926 0.596707 -2.25 0 -2.25 
C -0.596707 -2.25 -1.169055 -2.012926 -1.59099 -1.59099 
C -2.012926 -1.169055 -2.25 -0.596707 -2.25 0 
C -2.25 0.596707 -2.012926 1.169055 -1.59099 1.59099 
C -1.169055 2.012926 -0.596707 2.25 0 2.25 
z
" style="stroke: #ed8536; stroke-width: 1.1"/>
     </defs>
     <g>
      <use href="#ma9c85de0ef" x="418.984686" y="80.732323" style="fill: #ed8536; stroke: #ed8536; stroke-width: 1.1"/>
     </g>
    </g>
    <g id="text_24">
     <text style="font-size: 10px; font-family: 'DejaVu Sans', 'Liberation Sans', sans-serif; text-anchor: start" x="436.984686" y="83.357323">autos</text>
    </g>
    <g id="Path3DCollection_3">
     <defs>
      <path id="m3d52db77c1" d="M 0 2.25 
C 0.596707 2.25 1.169055 2.012926 1.59099 1.59099 
C 2.012926 1.169055 2.25 0.596707 2.25 0 
C 2.25 -0.596707 2.012926 -1.169055 1.59099 -1.59099 
C 1.169055 -2.012926 0.596707 -2.25 0 -2.25 
C -0.596707 -2.25 -1.169055 -2.012926 -1.59099 -1.59099 
C -2.012926 -1.169055 -2.25 -0.596707 -2.25 0 
C -2.25 0.596707 -2.012926 1.169055 -1.59099 1.59099 
C -1.169055 2.012926 -0.596707 2.25 0 2.25 
z
" style="stroke: #a6dd94; stroke-width: 1.1"/>
     </defs>
     <g>
      <use href="#m3d52db77c1" x="418.984686" y="95.870448" style="fill: #a6dd94; stroke: #a6dd94; stroke-width: 1.1"/>
     </g>
    </g>
    <g id="text_25">
     <text style="font-size: 10px; font-family: 'DejaVu Sans', 'Liberation Sans', sans-serif; text-anchor: start" x="436.984686" y="98.495448">education</text>
    </g>
    <g id="Path3DCollection_4">
     <defs>
      <path id="m3a7510f268" d="M 0 2.25 
C 0.596707 2.25 1.169055 2.012926 1.59099 1.59099 
C 2.012926 1.169055 2.25 0.596707 2.25 0 
C 2.25 -0.596707 2.012926 -1.169055 1.59099 -1.59099 
C 1.169055 -2.012926 0.596707 -2.25 0 -2.25 
C -0.596707 -2.25 -1.169055 -2.012926 -1.59099 -1.59099 
C -2.012926 -1.169055 -2.25 -0.596707 -2.25 0 
C -2.25 0.596707 -2.012926 1.169055 -1.59099 1.59099 
C -1.169055 2.012926 -0.596707 2.25 0 2.25 
z
" style="stroke: #f09c98; stroke-width: 1.1"/>
     </defs>
     <g>
      <use href="#m3a7510f268" x="418.984686" y="111.008573" style="fill: #f09c98; stroke: #f09c98; stroke-width: 1.1"/>
     </g>
    </g>
    <g id="text_26">
     <text style="font-size: 10px; font-family: 'DejaVu Sans', 'Liberation Sans', sans-serif; text-anchor: start" x="436.984686" y="113.633573">health</text>
    </g>
    <g id="Path3DCollection_5">
     <defs>
      <path id="m22a8288c02" d="M 0 2.25 
C 0.596707 2.25 1.169055 2.012926 1.59099 1.59099 
C 2.012926 1.169055 2.25 0.596707 2.25 0 
C 2.25 -0.596707 2.012926 -1.169055 1.59099 -1.59099 
C 1.169055 -2.012926 0.596707 -2.25 0 -2.25 
C -0.596707 -2.25 -1.169055 -2.012926 -1.59099 -1.59099 
C -2.012926 -1.169055 -2.25 -0.596707 -2.25 0 
C -2.25 0.596707 -2.012926 1.169055 -1.59099 1.59099 
C -1.169055 2.012926 -0.596707 2.25 0 2.25 
z
" style="stroke: #80544a; stroke-width: 1.1"/>
     </defs>
     <g>
      <use href="#m22a8288c02" x="418.984686" y="126.146698" style="fill: #80544a; stroke: #80544a; stroke-width: 1.1"/>
     </g>
    </g>
    <g id="text_27">
     <text style="font-size: 10px; font-family: 'DejaVu Sans', 'Liberation Sans', sans-serif; text-anchor: start" x="436.984686" y="128.771698">intranet</text>
    </g>
    <g id="Path3DCollection_6">
     <defs>
      <path id="m3f8207ab4e" d="M 0 2.25 
C 0.596707 2.25 1.169055 2.012926 1.59099 1.59099 
C 2.012926 1.169055 2.25 0.596707 2.25 0 
C 2.25 -0.596707 2.012926 -1.169055 1.59099 -1.59099 
C 1.169055 -2.012926 0.596707 -2.25 0 -2.25 
C -0.596707 -2.25 -1.169055 -2.012926 -1.59099 -1.59099 
C -2.012926 -1.169055 -2.25 -0.596707 -2.25 0 
C -2.25 0.596707 -2.012926 1.169055 -1.59099 1.59099 
C -1.169055 2.012926 -0.596707 2.25 0 2.25 
z
" style="stroke: #d479c0; stroke-width: 1.1"/>
     </defs>
     <g>
      <use href="#m3f8207ab4e" x="418.984686" y="141.284823" style="fill: #d479c0; stroke: #d479c0; stroke-width: 1.1"/>
     </g>
    </g>
    <g id="text_28">
     <text style="font-size: 10px; font-family: 'DejaVu Sans', 'Liberation Sans', sans-serif; text-anchor: start" x="436.984686" y="143.909823">money</text>
    </g>
    <g id="Path3DCollection_7">
     <defs>
      <path id="md09c13b141" d="M 0 2.25 
C 0.596707 2.25 1.169055 2.012926 1.59099 1.59099 
C 2.012926 1.169055 2.25 0.596707 2.25 0 
C 2.25 -0.596707 2.012926 -1.169055 1.59099 -1.59099 
C 1.169055 -2.012926 0.596707 -2.25 0 -2.25 
C -0.596707 -2.25 -1.169055 -2.012926 -1.59099 -1.59099 
C -2.012926 -1.169055 -2.25 -0.596707 -2.25 0 
C -2.25 0.596707 -2.012926 1.169055 -1.59099 1.59099 
C -1.169055 2.012926 -0.596707 2.25 0 2.25 
z
" style="stroke: #c7c7c7; stroke-width: 1.1"/>
     </defs>
     <g>
      <use href="#md09c13b141" x="418.984686" y="156.422948" style="fill: #c7c7c7; stroke: #c7c7c7; stroke-width: 1.1"/>
     </g>
    </g>
    <g id="text_29">
     <text style="font-size: 10px; font-family: 'DejaVu Sans', 'Liberation Sans', sans-serif; text-anchor: start" x="436.984686" y="159.047948">news</text>
    </g>
    <g id="Path3DCollection_8">
     <defs>
      <path id="mca6fd74a4f" d="M 0 2.25 
C 0.596707 2.25 1.169055 2.012926 1.59099 1.59099 
C 2.012926 1.169055 2.25 0.596707 2.25 0 
C 2.25 -0.596707 2.012926 -1.169055 1.59099 -1.59099 
C 1.169055 -2.012926 0.596707 -2.25 0 -2.25 
C -0.596707 -2.25 -1.169055 -2.012926 -1.59099 -1.59099 
C -2.012926 -1.169055 -2.25 -0.596707 -2.25 0 
C -2.25 0.596707 -2.012926 1.169055 -1.59099 1.59099 
C -1.169055 2.012926 -0.596707 2.25 0 2.25 
z
" style="stroke: #dddd94; stroke-width: 1.1"/>
     </defs>
     <g>
      <use href="#mca6fd74a4f" x="418.984686" y="171.561073" style="fill: #dddd94; stroke: #dddd94; stroke-width: 1.1"/>
     </g>
    </g>
    <g id="text_30">
     <text style="font-size: 10px; font-family: 'DejaVu Sans', 'Liberation Sans', sans-serif; text-anchor: start" x="436.984686" y="174.186073">travel</text>
    </g>
   </g>
  </g>
 </g>
</svg>

</body></html>
